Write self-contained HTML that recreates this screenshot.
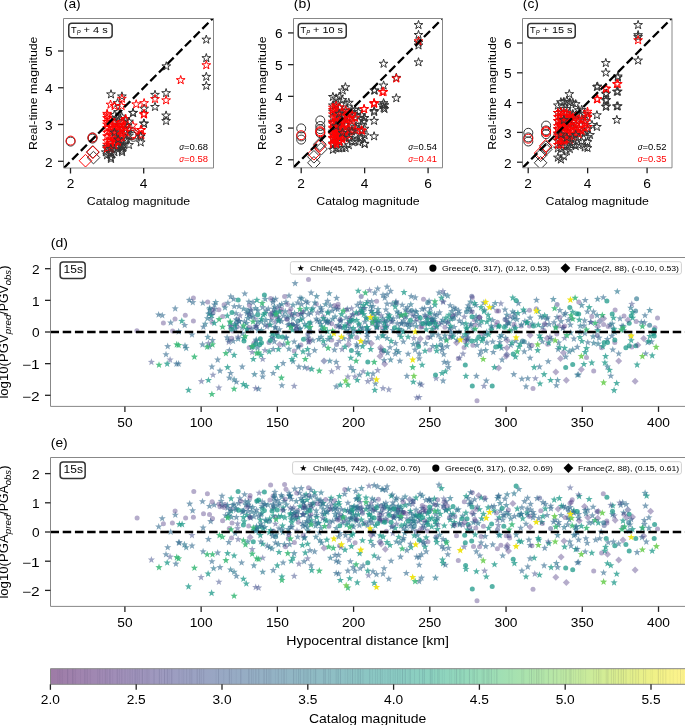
<!DOCTYPE html>
<html><head><meta charset="utf-8"><title>Figure</title>
<style>html,body{margin:0;padding:0;background:#fff;} body{width:685px;height:725px;overflow:hidden;font-family:"Liberation Sans", sans-serif;} svg{display:block;will-change:transform;}</style>
</head><body>
<svg width="685" height="725" viewBox="0 0 685 725" font-family="Liberation Sans, sans-serif"><clipPath id="clipa"><rect x="63.5" y="18.5" width="150.0" height="149.5"/></clipPath>
<g clip-path="url(#clipa)">
<circle cx="70.60" cy="141.60" r="4.5" fill="none" stroke="#333" stroke-width="1.0"/>
<circle cx="92.50" cy="138.60" r="4.5" fill="none" stroke="#333" stroke-width="1.0"/>
<circle cx="92.50" cy="137.40" r="4.5" fill="none" stroke="#333" stroke-width="1.0"/>
<circle cx="133.50" cy="136.80" r="4.5" fill="none" stroke="#333" stroke-width="1.0"/>
<circle cx="131.50" cy="135.20" r="4.5" fill="none" stroke="#333" stroke-width="1.0"/>
<circle cx="134.50" cy="134.50" r="4.5" fill="none" stroke="#333" stroke-width="1.0"/>
<path d="M92.80,145.60L99.10,151.90L92.80,158.20L86.50,151.90Z" fill="none" stroke="#333" stroke-width="1.0" />
<path d="M93.50,151.30L99.80,157.60L93.50,163.90L87.20,157.60Z" fill="none" stroke="#333" stroke-width="1.0" />
<circle cx="70.60" cy="140.60" r="4.5" fill="none" stroke="#f00" stroke-width="1.0"/>
<circle cx="92.50" cy="137.60" r="4.5" fill="none" stroke="#f00" stroke-width="1.0"/>
<circle cx="132.80" cy="133.20" r="4.5" fill="none" stroke="#f00" stroke-width="1.0"/>
<circle cx="131.80" cy="134.80" r="4.5" fill="none" stroke="#f00" stroke-width="1.0"/>
<path d="M92.80,146.00L99.10,152.30L92.80,158.60L86.50,152.30Z" fill="none" stroke="#f00" stroke-width="1.0" />
<path d="M85.50,154.40L91.80,160.70L85.50,167.00L79.20,160.70Z" fill="none" stroke="#f00" stroke-width="1.0" />
<path d="M206.3,35.0L205.3,38.2L201.9,38.2L204.6,40.1L203.6,43.3L206.3,41.4L209.0,43.3L208.0,40.1L210.7,38.2L207.3,38.2Z" fill="none" stroke="#333" stroke-width="1.0" />
<path d="M206.3,53.5L205.3,56.7L201.9,56.7L204.6,58.6L203.6,61.8L206.3,59.9L209.0,61.8L208.0,58.6L210.7,56.7L207.3,56.7Z" fill="none" stroke="#333" stroke-width="1.0" />
<path d="M206.3,72.2L205.3,75.4L201.9,75.4L204.6,77.3L203.6,80.5L206.3,78.6L209.0,80.5L208.0,77.3L210.7,75.4L207.3,75.4Z" fill="none" stroke="#333" stroke-width="1.0" />
<path d="M206.3,81.3L205.3,84.5L201.9,84.5L204.6,86.4L203.6,89.6L206.3,87.7L209.0,89.6L208.0,86.4L210.7,84.5L207.3,84.5Z" fill="none" stroke="#333" stroke-width="1.0" />
<path d="M166.3,61.7L165.3,64.9L161.9,64.9L164.6,66.8L163.6,70.0L166.3,68.1L169.0,70.0L168.0,66.8L170.7,64.9L167.3,64.9Z" fill="none" stroke="#333" stroke-width="1.0" />
<path d="M166.1,88.5L165.1,91.7L161.7,91.7L164.4,93.6L163.4,96.8L166.1,94.9L168.8,96.8L167.8,93.6L170.5,91.7L167.1,91.7Z" fill="none" stroke="#333" stroke-width="1.0" />
<path d="M166.1,110.9L165.1,114.1L161.7,114.1L164.4,116.0L163.4,119.2L166.1,117.3L168.8,119.2L167.8,116.0L170.5,114.1L167.1,114.1Z" fill="none" stroke="#333" stroke-width="1.0" />
<path d="M166.1,116.4L165.1,119.6L161.7,119.6L164.4,121.5L163.4,124.7L166.1,122.8L168.8,124.7L167.8,121.5L170.5,119.6L167.1,119.6Z" fill="none" stroke="#333" stroke-width="1.0" />
<path d="M155.0,90.2L154.0,93.4L150.6,93.4L153.3,95.3L152.3,98.5L155.0,96.6L157.7,98.5L156.7,95.3L159.4,93.4L156.0,93.4Z" fill="none" stroke="#333" stroke-width="1.0" />
<path d="M155.0,102.3L154.0,105.5L150.6,105.5L153.3,107.4L152.3,110.6L155.0,108.7L157.7,110.6L156.7,107.4L159.4,105.5L156.0,105.5Z" fill="none" stroke="#333" stroke-width="1.0" />
<path d="M144.1,104.0L143.1,107.2L139.7,107.2L142.4,109.1L141.4,112.3L144.1,110.4L146.8,112.3L145.8,109.1L148.5,107.2L145.1,107.2Z" fill="none" stroke="#333" stroke-width="1.0" />
<path d="M144.1,119.2L143.1,122.4L139.7,122.4L142.4,124.3L141.4,127.5L144.1,125.6L146.8,127.5L145.8,124.3L148.5,122.4L145.1,122.4Z" fill="none" stroke="#333" stroke-width="1.0" />
<path d="M111.0,89.7L110.0,92.9L106.6,92.9L109.3,94.8L108.3,98.0L111.0,96.1L113.7,98.0L112.7,94.8L115.4,92.9L112.0,92.9Z" fill="none" stroke="#333" stroke-width="1.0" />
<path d="M121.9,91.8L120.9,95.0L117.5,95.0L120.2,96.9L119.2,100.1L121.9,98.2L124.6,100.1L123.6,96.9L126.3,95.0L122.9,95.0Z" fill="none" stroke="#333" stroke-width="1.0" />
<path d="M117.5,98.5L116.5,101.7L113.1,101.7L115.8,103.6L114.8,106.8L117.5,104.9L120.2,106.8L119.2,103.6L121.9,101.7L118.5,101.7Z" fill="none" stroke="#333" stroke-width="1.0" />
<path d="M133.0,108.4L132.0,111.6L128.6,111.6L131.3,113.5L130.3,116.7L133.0,114.8L135.7,116.7L134.7,113.5L137.4,111.6L134.0,111.6Z" fill="none" stroke="#333" stroke-width="1.0" />
<path d="M117.5,113.1L116.5,116.3L113.1,116.3L115.8,118.2L114.8,121.4L117.5,119.5L120.2,121.4L119.2,118.2L121.9,116.3L118.5,116.3Z" fill="none" stroke="#333" stroke-width="1.0" />
<path d="M105.8,147.7L104.8,150.9L101.4,150.9L104.1,152.8L103.1,156.0L105.8,154.1L108.5,156.0L107.5,152.8L110.2,150.9L106.8,150.9Z" fill="none" stroke="#333" stroke-width="1.0" />
<path d="M111.0,148.4L110.0,151.6L106.6,151.6L109.3,153.5L108.3,156.7L111.0,154.8L113.7,156.7L112.7,153.5L115.4,151.6L112.0,151.6Z" fill="none" stroke="#333" stroke-width="1.0" />
<path d="M111.0,154.3L110.0,157.5L106.6,157.5L109.3,159.4L108.3,162.6L111.0,160.7L113.7,162.6L112.7,159.4L115.4,157.5L112.0,157.5Z" fill="none" stroke="#333" stroke-width="1.0" />
<path d="M121.9,146.2L120.9,149.4L117.5,149.4L120.2,151.3L119.2,154.5L121.9,152.6L124.6,154.5L123.6,151.3L126.3,149.4L122.9,149.4Z" fill="none" stroke="#333" stroke-width="1.0" />
<path d="M121.9,141.1L120.9,144.3L117.5,144.3L120.2,146.2L119.2,149.4L121.9,147.5L124.6,149.4L123.6,146.2L126.3,144.3L122.9,144.3Z" fill="none" stroke="#333" stroke-width="1.0" />
<path d="M133.1,108.2L132.1,111.4L128.7,111.4L131.4,113.3L130.4,116.5L133.1,114.6L135.8,116.5L134.8,113.3L137.5,111.4L134.1,111.4Z" fill="none" stroke="#333" stroke-width="1.0" />
<path d="M143.8,118.8L142.8,122.0L139.4,122.0L142.1,123.9L141.1,127.1L143.8,125.2L146.5,127.1L145.5,123.9L148.2,122.0L144.8,122.0Z" fill="none" stroke="#333" stroke-width="1.0" />
<path d="M140.7,137.8L139.7,141.0L136.3,141.0L139.0,142.9L138.0,146.1L140.7,144.2L143.4,146.1L142.4,142.9L145.1,141.0L141.7,141.0Z" fill="none" stroke="#333" stroke-width="1.0" />
<path d="M122.1,147.5L121.1,150.7L117.7,150.7L120.4,152.6L119.4,155.8L122.1,153.9L124.8,155.8L123.8,152.6L126.5,150.7L123.1,150.7Z" fill="none" stroke="#333" stroke-width="1.0" />
<path d="M122.1,142.6L121.1,145.8L117.7,145.8L120.4,147.7L119.4,150.9L122.1,149.0L124.8,150.9L123.8,147.7L126.5,145.8L123.1,145.8Z" fill="none" stroke="#333" stroke-width="1.0" />
<path d="M107.0,142.4L106.0,145.6L102.6,145.6L105.3,147.5L104.3,150.7L107.0,148.8L109.7,150.7L108.7,147.5L111.4,145.6L108.0,145.6Z" fill="none" stroke="#333" stroke-width="1.0" />
<path d="M114.0,145.4L113.0,148.6L109.6,148.6L112.3,150.5L111.3,153.7L114.0,151.8L116.7,153.7L115.7,150.5L118.4,148.6L115.0,148.6Z" fill="none" stroke="#333" stroke-width="1.0" />
<path d="M118.0,141.4L117.0,144.6L113.6,144.6L116.3,146.5L115.3,149.7L118.0,147.8L120.7,149.7L119.7,146.5L122.4,144.6L119.0,144.6Z" fill="none" stroke="#333" stroke-width="1.0" />
<path d="M126.0,135.4L125.0,138.6L121.6,138.6L124.3,140.5L123.3,143.7L126.0,141.8L128.7,143.7L127.7,140.5L130.4,138.6L127.0,138.6Z" fill="none" stroke="#333" stroke-width="1.0" />
<path d="M129.0,140.4L128.0,143.6L124.6,143.6L127.3,145.5L126.3,148.7L129.0,146.8L131.7,148.7L130.7,145.5L133.4,143.6L130.0,143.6Z" fill="none" stroke="#333" stroke-width="1.0" />
<path d="M107.1,144.2L106.1,147.4L102.7,147.4L105.4,149.4L104.4,152.6L107.1,150.6L109.8,152.6L108.8,149.4L111.5,147.4L108.1,147.4Z" fill="none" stroke="#333" stroke-width="1.0" />
<path d="M107.1,150.6L106.1,153.8L102.7,153.8L105.4,155.8L104.4,158.9L107.1,157.0L109.8,158.9L108.8,155.8L111.5,153.8L108.1,153.8Z" fill="none" stroke="#333" stroke-width="1.0" />
<path d="M110.8,147.8L109.8,151.0L106.4,151.0L109.1,152.9L108.1,156.1L110.8,154.2L113.5,156.1L112.5,152.9L115.2,151.0L111.8,151.0Z" fill="none" stroke="#333" stroke-width="1.0" />
<path d="M110.8,152.9L109.8,156.1L106.4,156.1L109.1,158.1L108.1,161.2L110.8,159.3L113.5,161.2L112.5,158.1L115.2,156.1L111.8,156.1Z" fill="none" stroke="#333" stroke-width="1.0" />
<path d="M114.4,110.4L113.4,113.6L110.0,113.6L112.7,115.5L111.7,118.7L114.4,116.7L117.1,118.7L116.1,115.5L118.8,113.6L115.4,113.6Z" fill="none" stroke="#333" stroke-width="1.0" />
<path d="M114.4,117.2L113.4,120.4L110.0,120.4L112.7,122.3L111.7,125.5L114.4,123.6L117.1,125.5L116.1,122.3L118.8,120.4L115.4,120.4Z" fill="none" stroke="#333" stroke-width="1.0" />
<path d="M114.4,137.6L113.4,140.8L110.0,140.8L112.7,142.7L111.7,145.9L114.4,144.0L117.1,145.9L116.1,142.7L118.8,140.8L115.4,140.8Z" fill="none" stroke="#333" stroke-width="1.0" />
<path d="M114.4,147.5L113.4,150.7L110.0,150.7L112.7,152.6L111.7,155.8L114.4,153.8L117.1,155.8L116.1,152.6L118.8,150.7L115.4,150.7Z" fill="none" stroke="#333" stroke-width="1.0" />
<path d="M118.1,107.5L117.1,110.6L113.7,110.6L116.4,112.6L115.4,115.8L118.1,113.8L120.8,115.8L119.8,112.6L122.5,110.6L119.1,110.6Z" fill="none" stroke="#333" stroke-width="1.0" />
<path d="M118.1,116.5L117.1,119.6L113.7,119.6L116.4,121.6L115.4,124.8L118.1,122.8L120.8,124.8L119.8,121.6L122.5,119.6L119.1,119.6Z" fill="none" stroke="#333" stroke-width="1.0" />
<path d="M118.1,123.4L117.1,126.6L113.7,126.6L116.4,128.6L115.4,131.8L118.1,129.8L120.8,131.8L119.8,128.6L122.5,126.6L119.1,126.6Z" fill="none" stroke="#333" stroke-width="1.0" />
<path d="M118.1,142.3L117.1,145.5L113.7,145.5L116.4,147.5L115.4,150.6L118.1,148.7L120.8,150.6L119.8,147.5L122.5,145.5L119.1,145.5Z" fill="none" stroke="#333" stroke-width="1.0" />
<path d="M121.7,112.1L120.7,115.2L117.3,115.2L120.0,117.2L119.0,120.4L121.7,118.4L124.4,120.4L123.4,117.2L126.1,115.2L122.7,115.2Z" fill="none" stroke="#333" stroke-width="1.0" />
<path d="M121.7,123.6L120.7,126.8L117.3,126.8L120.0,128.8L119.0,132.0L121.7,130.0L124.4,132.0L123.4,128.8L126.1,126.8L122.7,126.8Z" fill="none" stroke="#333" stroke-width="1.0" />
<path d="M121.7,131.0L120.7,134.1L117.3,134.1L120.0,136.1L119.0,139.3L121.7,137.3L124.4,139.3L123.4,136.1L126.1,134.1L122.7,134.1Z" fill="none" stroke="#333" stroke-width="1.0" />
<path d="M121.7,137.0L120.7,140.2L117.3,140.2L120.0,142.1L119.0,145.3L121.7,143.3L124.4,145.3L123.4,142.1L126.1,140.2L122.7,140.2Z" fill="none" stroke="#333" stroke-width="1.0" />
<path d="M125.4,116.1L124.4,119.2L121.0,119.2L123.7,121.2L122.7,124.4L125.4,122.4L128.1,124.4L127.1,121.2L129.8,119.2L126.4,119.2Z" fill="none" stroke="#333" stroke-width="1.0" />
<path d="M125.4,124.3L124.4,127.5L121.0,127.5L123.7,129.4L122.7,132.6L125.4,130.6L128.1,132.6L127.1,129.4L129.8,127.5L126.4,127.5Z" fill="none" stroke="#333" stroke-width="1.0" />
<path d="M125.4,136.1L124.4,139.2L121.0,139.2L123.7,141.2L122.7,144.4L125.4,142.4L128.1,144.4L127.1,141.2L129.8,139.2L126.4,139.2Z" fill="none" stroke="#333" stroke-width="1.0" />
<path d="M129.0,124.2L128.0,127.3L124.6,127.3L127.3,129.3L126.3,132.5L129.0,130.5L131.7,132.5L130.7,129.3L133.4,127.3L130.0,127.3Z" fill="none" stroke="#333" stroke-width="1.0" />
<path d="M129.0,131.0L128.0,134.2L124.6,134.2L127.3,136.2L126.3,139.4L129.0,137.4L131.7,139.4L130.7,136.2L133.4,134.2L130.0,134.2Z" fill="none" stroke="#333" stroke-width="1.0" />
<path d="M206.3,60.6L205.3,63.8L201.9,63.8L204.6,65.7L203.6,68.9L206.3,67.0L209.0,68.9L208.0,65.7L210.7,63.8L207.3,63.8Z" fill="none" stroke="#f00" stroke-width="1.0" />
<path d="M180.7,75.5L179.7,78.7L176.3,78.7L179.0,80.6L178.0,83.8L180.7,81.9L183.4,83.8L182.4,80.6L185.1,78.7L181.7,78.7Z" fill="none" stroke="#f00" stroke-width="1.0" />
<path d="M166.1,95.7L165.1,98.9L161.7,98.9L164.4,100.8L163.4,104.0L166.1,102.1L168.8,104.0L167.8,100.8L170.5,98.9L167.1,98.9Z" fill="none" stroke="#f00" stroke-width="1.0" />
<path d="M155.0,94.4L154.0,97.6L150.6,97.6L153.3,99.5L152.3,102.7L155.0,100.8L157.7,102.7L156.7,99.5L159.4,97.6L156.0,97.6Z" fill="none" stroke="#f00" stroke-width="1.0" />
<path d="M144.1,98.5L143.1,101.7L139.7,101.7L142.4,103.6L141.4,106.8L144.1,104.9L146.8,106.8L145.8,103.6L148.5,101.7L145.1,101.7Z" fill="none" stroke="#f00" stroke-width="1.0" />
<path d="M144.1,109.2L143.1,112.4L139.7,112.4L142.4,114.3L141.4,117.5L144.1,115.6L146.8,117.5L145.8,114.3L148.5,112.4L145.1,112.4Z" fill="none" stroke="#f00" stroke-width="1.0" />
<path d="M141.4,125.4L140.4,128.6L137.0,128.6L139.7,130.5L138.7,133.7L141.4,131.8L144.1,133.7L143.1,130.5L145.8,128.6L142.4,128.6Z" fill="none" stroke="#f00" stroke-width="1.0" />
<path d="M141.4,130.2L140.4,133.4L137.0,133.4L139.7,135.3L138.7,138.5L141.4,136.6L144.1,138.5L143.1,135.3L145.8,133.4L142.4,133.4Z" fill="none" stroke="#f00" stroke-width="1.0" />
<path d="M121.9,94.1L120.9,97.3L117.5,97.3L120.2,99.2L119.2,102.4L121.9,100.5L124.6,102.4L123.6,99.2L126.3,97.3L122.9,97.3Z" fill="none" stroke="#f00" stroke-width="1.0" />
<path d="M110.5,100.0L109.5,103.2L106.1,103.2L108.8,105.1L107.8,108.3L110.5,106.4L113.2,108.3L112.2,105.1L114.9,103.2L111.5,103.2Z" fill="none" stroke="#f00" stroke-width="1.0" />
<path d="M114.6,101.4L113.6,104.6L110.2,104.6L112.9,106.5L111.9,109.7L114.6,107.8L117.3,109.7L116.3,106.5L119.0,104.6L115.6,104.6Z" fill="none" stroke="#f00" stroke-width="1.0" />
<path d="M121.6,101.4L120.6,104.6L117.2,104.6L119.9,106.5L118.9,109.7L121.6,107.8L124.3,109.7L123.3,106.5L126.0,104.6L122.6,104.6Z" fill="none" stroke="#f00" stroke-width="1.0" />
<path d="M136.2,99.7L135.2,102.9L131.8,102.9L134.5,104.8L133.5,108.0L136.2,106.1L138.9,108.0L137.9,104.8L140.6,102.9L137.2,102.9Z" fill="none" stroke="#f00" stroke-width="1.0" />
<path d="M107.3,110.8L106.3,114.0L102.9,114.0L105.6,115.9L104.6,119.1L107.3,117.2L110.0,119.1L109.0,115.9L111.7,114.0L108.3,114.0Z" fill="none" stroke="#f00" stroke-width="1.0" />
<path d="M125.7,114.3L124.7,117.5L121.3,117.5L124.0,119.4L123.0,122.6L125.7,120.7L128.4,122.6L127.4,119.4L130.1,117.5L126.7,117.5Z" fill="none" stroke="#f00" stroke-width="1.0" />
<path d="M143.8,109.9L142.8,113.1L139.4,113.1L142.1,115.0L141.1,118.2L143.8,116.3L146.5,118.2L145.5,115.0L148.2,113.1L144.8,113.1Z" fill="none" stroke="#f00" stroke-width="1.0" />
<path d="M125.5,115.1L124.5,118.3L121.1,118.3L123.8,120.2L122.8,123.4L125.5,121.5L128.2,123.4L127.2,120.2L129.9,118.3L126.5,118.3Z" fill="none" stroke="#f00" stroke-width="1.0" />
<path d="M132.8,120.9L131.8,124.1L128.4,124.1L131.1,126.0L130.1,129.2L132.8,127.3L135.5,129.2L134.5,126.0L137.2,124.1L133.8,124.1Z" fill="none" stroke="#f00" stroke-width="1.0" />
<path d="M140.7,125.4L139.7,128.6L136.3,128.6L139.0,130.5L138.0,133.7L140.7,131.8L143.4,133.7L142.4,130.5L145.1,128.6L141.7,128.6Z" fill="none" stroke="#f00" stroke-width="1.0" />
<path d="M140.7,130.9L139.7,134.1L136.3,134.1L139.0,136.0L138.0,139.2L140.7,137.3L143.4,139.2L142.4,136.0L145.1,134.1L141.7,134.1Z" fill="none" stroke="#f00" stroke-width="1.0" />
<path d="M107.1,109.2L106.1,112.4L102.7,112.4L105.4,114.4L104.4,117.6L107.1,115.6L109.8,117.6L108.8,114.4L111.5,112.4L108.1,112.4Z" fill="none" stroke="#f00" stroke-width="1.0" />
<path d="M107.1,113.5L106.1,116.6L102.7,116.6L105.4,118.6L104.4,121.8L107.1,119.8L109.8,121.8L108.8,118.6L111.5,116.6L108.1,116.6Z" fill="none" stroke="#f00" stroke-width="1.0" />
<path d="M107.1,117.3L106.1,120.5L102.7,120.5L105.4,122.4L104.4,125.6L107.1,123.6L109.8,125.6L108.8,122.4L111.5,120.5L108.1,120.5Z" fill="none" stroke="#f00" stroke-width="1.0" />
<path d="M107.1,119.9L106.1,123.1L102.7,123.1L105.4,125.0L104.4,128.2L107.1,126.2L109.8,128.2L108.8,125.0L111.5,123.1L108.1,123.1Z" fill="none" stroke="#f00" stroke-width="1.0" />
<path d="M107.1,123.4L106.1,126.6L102.7,126.6L105.4,128.5L104.4,131.7L107.1,129.7L109.8,131.7L108.8,128.5L111.5,126.6L108.1,126.6Z" fill="none" stroke="#f00" stroke-width="1.0" />
<path d="M107.1,128.0L106.1,131.2L102.7,131.2L105.4,133.2L104.4,136.3L107.1,134.4L109.8,136.3L108.8,133.2L111.5,131.2L108.1,131.2Z" fill="none" stroke="#f00" stroke-width="1.0" />
<path d="M107.1,131.6L106.1,134.8L102.7,134.8L105.4,136.7L104.4,139.9L107.1,137.9L109.8,139.9L108.8,136.7L111.5,134.8L108.1,134.8Z" fill="none" stroke="#f00" stroke-width="1.0" />
<path d="M107.1,136.6L106.1,139.8L102.7,139.8L105.4,141.8L104.4,144.9L107.1,143.0L109.8,144.9L108.8,141.8L111.5,139.8L108.1,139.8Z" fill="none" stroke="#f00" stroke-width="1.0" />
<path d="M107.1,140.1L106.1,143.3L102.7,143.3L105.4,145.3L104.4,148.5L107.1,146.5L109.8,148.5L108.8,145.3L111.5,143.3L108.1,143.3Z" fill="none" stroke="#f00" stroke-width="1.0" />
<path d="M107.1,143.7L106.1,146.9L102.7,146.9L105.4,148.9L104.4,152.1L107.1,150.1L109.8,152.1L108.8,148.9L111.5,146.9L108.1,146.9Z" fill="none" stroke="#f00" stroke-width="1.0" />
<path d="M110.8,115.5L109.8,118.7L106.4,118.7L109.1,120.7L108.1,123.9L110.8,121.9L113.5,123.9L112.5,120.7L115.2,118.7L111.8,118.7Z" fill="none" stroke="#f00" stroke-width="1.0" />
<path d="M110.8,119.8L109.8,123.0L106.4,123.0L109.1,124.9L108.1,128.1L110.8,126.1L113.5,128.1L112.5,124.9L115.2,123.0L111.8,123.0Z" fill="none" stroke="#f00" stroke-width="1.0" />
<path d="M110.8,122.5L109.8,125.7L106.4,125.7L109.1,127.7L108.1,130.9L110.8,128.9L113.5,130.9L112.5,127.7L115.2,125.7L111.8,125.7Z" fill="none" stroke="#f00" stroke-width="1.0" />
<path d="M110.8,127.3L109.8,130.4L106.4,130.4L109.1,132.4L108.1,135.6L110.8,133.6L113.5,135.6L112.5,132.4L115.2,130.4L111.8,130.4Z" fill="none" stroke="#f00" stroke-width="1.0" />
<path d="M110.8,130.6L109.8,133.8L106.4,133.8L109.1,135.7L108.1,138.9L110.8,136.9L113.5,138.9L112.5,135.7L115.2,133.8L111.8,133.8Z" fill="none" stroke="#f00" stroke-width="1.0" />
<path d="M110.8,136.4L109.8,139.6L106.4,139.6L109.1,141.5L108.1,144.7L110.8,142.7L113.5,144.7L112.5,141.5L115.2,139.6L111.8,139.6Z" fill="none" stroke="#f00" stroke-width="1.0" />
<path d="M110.8,138.3L109.8,141.5L106.4,141.5L109.1,143.5L108.1,146.7L110.8,144.7L113.5,146.7L112.5,143.5L115.2,141.5L111.8,141.5Z" fill="none" stroke="#f00" stroke-width="1.0" />
<path d="M110.8,144.2L109.8,147.3L106.4,147.3L109.1,149.3L108.1,152.5L110.8,150.5L113.5,152.5L112.5,149.3L115.2,147.3L111.8,147.3Z" fill="none" stroke="#f00" stroke-width="1.0" />
<path d="M114.4,118.3L113.4,121.5L110.0,121.5L112.7,123.5L111.7,126.6L114.4,124.7L117.1,126.6L116.1,123.5L118.8,121.5L115.4,121.5Z" fill="none" stroke="#f00" stroke-width="1.0" />
<path d="M114.4,123.4L113.4,126.6L110.0,126.6L112.7,128.5L111.7,131.7L114.4,129.7L117.1,131.7L116.1,128.5L118.8,126.6L115.4,126.6Z" fill="none" stroke="#f00" stroke-width="1.0" />
<path d="M114.4,126.3L113.4,129.5L110.0,129.5L112.7,131.5L111.7,134.6L114.4,132.7L117.1,134.6L116.1,131.5L118.8,129.5L115.4,129.5Z" fill="none" stroke="#f00" stroke-width="1.0" />
<path d="M114.4,130.2L113.4,133.4L110.0,133.4L112.7,135.3L111.7,138.5L114.4,136.5L117.1,138.5L116.1,135.3L118.8,133.4L115.4,133.4Z" fill="none" stroke="#f00" stroke-width="1.0" />
<path d="M114.4,134.9L113.4,138.1L110.0,138.1L112.7,140.0L111.7,143.2L114.4,141.2L117.1,143.2L116.1,140.0L118.8,138.1L115.4,138.1Z" fill="none" stroke="#f00" stroke-width="1.0" />
<path d="M114.4,136.8L113.4,139.9L110.0,139.9L112.7,141.9L111.7,145.1L114.4,143.1L117.1,145.1L116.1,141.9L118.8,139.9L115.4,139.9Z" fill="none" stroke="#f00" stroke-width="1.0" />
<path d="M114.4,140.6L113.4,143.7L110.0,143.7L112.7,145.7L111.7,148.9L114.4,146.9L117.1,148.9L116.1,145.7L118.8,143.7L115.4,143.7Z" fill="none" stroke="#f00" stroke-width="1.0" />
<path d="M118.1,120.3L117.1,123.4L113.7,123.4L116.4,125.4L115.4,128.6L118.1,126.6L120.8,128.6L119.8,125.4L122.5,123.4L119.1,123.4Z" fill="none" stroke="#f00" stroke-width="1.0" />
<path d="M118.1,123.2L117.1,126.3L113.7,126.3L116.4,128.3L115.4,131.5L118.1,129.5L120.8,131.5L119.8,128.3L122.5,126.3L119.1,126.3Z" fill="none" stroke="#f00" stroke-width="1.0" />
<path d="M118.1,126.0L117.1,129.2L113.7,129.2L116.4,131.2L115.4,134.4L118.1,132.4L120.8,134.4L119.8,131.2L122.5,129.2L119.1,129.2Z" fill="none" stroke="#f00" stroke-width="1.0" />
<path d="M118.1,131.9L117.1,135.1L113.7,135.1L116.4,137.1L115.4,140.3L118.1,138.3L120.8,140.3L119.8,137.1L122.5,135.1L119.1,135.1Z" fill="none" stroke="#f00" stroke-width="1.0" />
<path d="M118.1,135.7L117.1,138.9L113.7,138.9L116.4,140.8L115.4,144.0L118.1,142.0L120.8,144.0L119.8,140.8L122.5,138.9L119.1,138.9Z" fill="none" stroke="#f00" stroke-width="1.0" />
<path d="M118.1,137.6L117.1,140.8L113.7,140.8L116.4,142.7L115.4,145.9L118.1,143.9L120.8,145.9L119.8,142.7L122.5,140.8L119.1,140.8Z" fill="none" stroke="#f00" stroke-width="1.0" />
<path d="M121.7,117.2L120.7,120.4L117.3,120.4L120.0,122.4L119.0,125.5L121.7,123.6L124.4,125.5L123.4,122.4L126.1,120.4L122.7,120.4Z" fill="none" stroke="#f00" stroke-width="1.0" />
<path d="M121.7,120.5L120.7,123.7L117.3,123.7L120.0,125.7L119.0,128.8L121.7,126.9L124.4,128.8L123.4,125.7L126.1,123.7L122.7,123.7Z" fill="none" stroke="#f00" stroke-width="1.0" />
<path d="M121.7,125.0L120.7,128.1L117.3,128.1L120.0,130.1L119.0,133.3L121.7,131.3L124.4,133.3L123.4,130.1L126.1,128.1L122.7,128.1Z" fill="none" stroke="#f00" stroke-width="1.0" />
<path d="M121.7,129.7L120.7,132.9L117.3,132.9L120.0,134.8L119.0,138.0L121.7,136.0L124.4,138.0L123.4,134.8L126.1,132.9L122.7,132.9Z" fill="none" stroke="#f00" stroke-width="1.0" />
<path d="M121.7,132.6L120.7,135.8L117.3,135.8L120.0,137.7L119.0,140.9L121.7,138.9L124.4,140.9L123.4,137.7L126.1,135.8L122.7,135.8Z" fill="none" stroke="#f00" stroke-width="1.0" />
<path d="M125.4,121.5L124.4,124.6L121.0,124.6L123.7,126.6L122.7,129.8L125.4,127.8L128.1,129.8L127.1,126.6L129.8,124.6L126.4,124.6Z" fill="none" stroke="#f00" stroke-width="1.0" />
<path d="M125.4,123.5L124.4,126.7L121.0,126.7L123.7,128.6L122.7,131.8L125.4,129.9L128.1,131.8L127.1,128.6L129.8,126.7L126.4,126.7Z" fill="none" stroke="#f00" stroke-width="1.0" />
<path d="M125.4,127.1L124.4,130.3L121.0,130.3L123.7,132.2L122.7,135.4L125.4,133.4L128.1,135.4L127.1,132.2L129.8,130.3L126.4,130.3Z" fill="none" stroke="#f00" stroke-width="1.0" />
<path d="M140.7,132.0L139.7,135.2L136.3,135.2L139.0,137.1L138.0,140.3L140.7,138.4L143.4,140.3L142.4,137.1L145.1,135.2L141.7,135.2Z" fill="none" stroke="#333" stroke-width="1.0" />
<path d="M110.8,144.2L109.8,147.4L106.4,147.4L109.1,149.3L108.1,152.5L110.8,150.5L113.5,152.5L112.5,149.3L115.2,147.4L111.8,147.4Z" fill="none" stroke="#333" stroke-width="1.0" />
<path d="M114.4,128.0L113.4,131.1L110.0,131.1L112.7,133.1L111.7,136.3L114.4,134.3L117.1,136.3L116.1,133.1L118.8,131.1L115.4,131.1Z" fill="none" stroke="#333" stroke-width="1.0" />
<path d="M118.1,134.9L117.1,138.1L113.7,138.1L116.4,140.0L115.4,143.2L118.1,141.2L120.8,143.2L119.8,140.0L122.5,138.1L119.1,138.1Z" fill="none" stroke="#333" stroke-width="1.0" />
<path d="M121.7,144.2L120.7,147.4L117.3,147.4L120.0,149.4L119.0,152.5L121.7,150.6L124.4,152.5L123.4,149.4L126.1,147.4L122.7,147.4Z" fill="none" stroke="#333" stroke-width="1.0" />
<path d="M129.0,117.0L128.0,120.2L124.6,120.2L127.3,122.1L126.3,125.3L129.0,123.3L131.7,125.3L130.7,122.1L133.4,120.2L130.0,120.2Z" fill="none" stroke="#333" stroke-width="1.0" />
<line x1="63.50" y1="168.33" x2="326.70" y2="-96.09" stroke="#000" stroke-width="2.3" stroke-dasharray="8.6 3.7"/>
</g>
<line x1="63.50" y1="18.50" x2="213.50" y2="18.50" stroke="#888" stroke-width="1.0" />
<line x1="63.50" y1="168.00" x2="213.50" y2="168.00" stroke="#888" stroke-width="1.0" />
<line x1="63.50" y1="18.50" x2="63.50" y2="168.00" stroke="#888" stroke-width="1.0" />
<line x1="213.50" y1="18.50" x2="213.50" y2="168.00" stroke="#888" stroke-width="1.0" />
<line x1="58.00" y1="161.30" x2="63.50" y2="161.30" stroke="#222" stroke-width="1.3" />
<text x="52.60" y="166.70" font-size="12.0" text-anchor="end" fill="#000" textLength="7.63" lengthAdjust="spacingAndGlyphs" >2</text>
<line x1="58.00" y1="124.53" x2="63.50" y2="124.53" stroke="#222" stroke-width="1.3" />
<text x="52.60" y="129.93" font-size="12.0" text-anchor="end" fill="#000" textLength="7.63" lengthAdjust="spacingAndGlyphs" >3</text>
<line x1="58.00" y1="87.76" x2="63.50" y2="87.76" stroke="#222" stroke-width="1.3" />
<text x="52.60" y="93.16" font-size="12.0" text-anchor="end" fill="#000" textLength="7.63" lengthAdjust="spacingAndGlyphs" >4</text>
<line x1="58.00" y1="50.99" x2="63.50" y2="50.99" stroke="#222" stroke-width="1.3" />
<text x="52.60" y="56.39" font-size="12.0" text-anchor="end" fill="#000" textLength="7.63" lengthAdjust="spacingAndGlyphs" >5</text>
<line x1="70.50" y1="168.00" x2="70.50" y2="173.50" stroke="#222" stroke-width="1.3" />
<text x="70.50" y="188.30" font-size="12.0" text-anchor="middle" fill="#000" textLength="7.63" lengthAdjust="spacingAndGlyphs" >2</text>
<line x1="143.70" y1="168.00" x2="143.70" y2="173.50" stroke="#222" stroke-width="1.3" />
<text x="143.70" y="188.30" font-size="12.0" text-anchor="middle" fill="#000" textLength="7.63" lengthAdjust="spacingAndGlyphs" >4</text>
<text x="63.80" y="8.00" font-size="12.1" text-anchor="start" fill="#000" textLength="16.86" lengthAdjust="spacingAndGlyphs" >(a)</text>
<text x="138.50" y="205.10" font-size="10.8" text-anchor="middle" fill="#000" textLength="103.33" lengthAdjust="spacingAndGlyphs" >Catalog magnitude</text>
<text x="37.40" y="93.25" font-size="10.8" text-anchor="middle" fill="#000" textLength="113.43" lengthAdjust="spacingAndGlyphs" transform="rotate(-90 37.40 93.25)" >Real-time magnitude</text>
<rect x="68.75" y="23.35" width="43.40" height="14.30" fill="#fff" stroke="#333" stroke-width="1.5" rx="3" ry="3"/>
<text x="71.00" y="32.90" font-size="9.80" fill="#000" textLength="5.63" lengthAdjust="spacingAndGlyphs" xml:space="preserve">T</text>
<text x="76.63" y="34.70" font-size="6.86" font-style="italic" fill="#000" textLength="3.89" lengthAdjust="spacingAndGlyphs" xml:space="preserve">P</text>
<text x="80.52" y="32.90" font-size="9.80" fill="#000" textLength="27.16" lengthAdjust="spacingAndGlyphs" xml:space="preserve"> + 4 s</text>
<text x="179.15" y="150.00" font-size="8.60" font-style="italic" fill="#000" textLength="4.94" lengthAdjust="spacingAndGlyphs" xml:space="preserve">σ</text>
<text x="184.10" y="150.00" font-size="8.60" fill="#000" textLength="23.90" lengthAdjust="spacingAndGlyphs" xml:space="preserve">=0.68</text>
<text x="179.15" y="161.80" font-size="8.60" font-style="italic" fill="#f00" textLength="4.94" lengthAdjust="spacingAndGlyphs" xml:space="preserve">σ</text>
<text x="184.10" y="161.80" font-size="8.60" fill="#f00" textLength="23.90" lengthAdjust="spacingAndGlyphs" xml:space="preserve">=0.58</text>
<clipPath id="clipb"><rect x="293.5" y="18.5" width="149.0" height="149.3"/></clipPath>
<g clip-path="url(#clipb)">
<circle cx="301.20" cy="128.40" r="4.5" fill="none" stroke="#333" stroke-width="1.0"/>
<circle cx="301.20" cy="136.40" r="4.5" fill="none" stroke="#333" stroke-width="1.0"/>
<circle cx="301.20" cy="139.60" r="4.5" fill="none" stroke="#333" stroke-width="1.0"/>
<circle cx="320.30" cy="120.40" r="4.5" fill="none" stroke="#333" stroke-width="1.0"/>
<circle cx="320.30" cy="126.00" r="4.5" fill="none" stroke="#333" stroke-width="1.0"/>
<circle cx="320.30" cy="129.20" r="4.5" fill="none" stroke="#333" stroke-width="1.0"/>
<circle cx="320.30" cy="133.20" r="4.5" fill="none" stroke="#333" stroke-width="1.0"/>
<path d="M319.80,137.90L326.10,144.20L319.80,150.50L313.50,144.20Z" fill="none" stroke="#333" stroke-width="1.0" />
<path d="M313.90,150.50L320.20,156.80L313.90,163.10L307.60,156.80Z" fill="none" stroke="#333" stroke-width="1.0" />
<path d="M313.90,156.50L320.20,162.80L313.90,169.10L307.60,162.80Z" fill="none" stroke="#333" stroke-width="1.0" />
<path d="M321.00,142.70L327.30,149.00L321.00,155.30L314.70,149.00Z" fill="none" stroke="#333" stroke-width="1.0" />
<circle cx="301.20" cy="135.20" r="4.5" fill="none" stroke="#f00" stroke-width="1.0"/>
<circle cx="320.30" cy="131.20" r="4.5" fill="none" stroke="#f00" stroke-width="1.0"/>
<circle cx="320.30" cy="132.20" r="4.5" fill="none" stroke="#f00" stroke-width="1.0"/>
<circle cx="352.00" cy="125.20" r="4.5" fill="none" stroke="#f00" stroke-width="1.0"/>
<path d="M319.80,139.40L326.10,145.70L319.80,152.00L313.50,145.70Z" fill="none" stroke="#f00" stroke-width="1.0" />
<path d="M313.90,147.50L320.20,153.80L313.90,160.10L307.60,153.80Z" fill="none" stroke="#f00" stroke-width="1.0" />
<path d="M418.5,20.4L417.5,23.6L414.1,23.6L416.8,25.5L415.8,28.7L418.5,26.8L421.2,28.7L420.2,25.5L422.9,23.6L419.5,23.6Z" fill="none" stroke="#333" stroke-width="1.0" />
<path d="M418.5,30.3L417.5,33.5L414.1,33.5L416.8,35.4L415.8,38.6L418.5,36.7L421.2,38.6L420.2,35.4L422.9,33.5L419.5,33.5Z" fill="none" stroke="#333" stroke-width="1.0" />
<path d="M418.5,40.8L417.5,44.0L414.1,44.0L416.8,45.9L415.8,49.1L418.5,47.2L421.2,49.1L420.2,45.9L422.9,44.0L419.5,44.0Z" fill="none" stroke="#333" stroke-width="1.0" />
<path d="M418.5,38.0L417.5,41.2L414.1,41.2L416.8,43.1L415.8,46.3L418.5,44.4L421.2,46.3L420.2,43.1L422.9,41.2L419.5,41.2Z" fill="none" stroke="#333" stroke-width="1.0" />
<path d="M418.5,57.7L417.5,60.9L414.1,60.9L416.8,62.8L415.8,66.0L418.5,64.1L421.2,66.0L420.2,62.8L422.9,60.9L419.5,60.9Z" fill="none" stroke="#333" stroke-width="1.0" />
<path d="M383.6,59.1L382.6,62.3L379.2,62.3L381.9,64.2L380.9,67.4L383.6,65.5L386.3,67.4L385.3,64.2L388.0,62.3L384.6,62.3Z" fill="none" stroke="#333" stroke-width="1.0" />
<path d="M396.3,73.2L395.3,76.4L391.9,76.4L394.6,78.3L393.6,81.5L396.3,79.6L399.0,81.5L398.0,78.3L400.7,76.4L397.3,76.4Z" fill="none" stroke="#333" stroke-width="1.0" />
<path d="M396.3,93.6L395.3,96.8L391.9,96.8L394.6,98.7L393.6,101.9L396.3,100.0L399.0,101.9L398.0,98.7L400.7,96.8L397.3,96.8Z" fill="none" stroke="#333" stroke-width="1.0" />
<path d="M383.6,80.9L382.6,84.1L379.2,84.1L381.9,86.0L380.9,89.2L383.6,87.3L386.3,89.2L385.3,86.0L388.0,84.1L384.6,84.1Z" fill="none" stroke="#333" stroke-width="1.0" />
<path d="M374.2,85.9L373.2,89.1L369.8,89.1L372.5,91.0L371.5,94.2L374.2,92.3L376.9,94.2L375.9,91.0L378.6,89.1L375.2,89.1Z" fill="none" stroke="#333" stroke-width="1.0" />
<path d="M383.6,98.5L382.6,101.7L379.2,101.7L381.9,103.6L380.9,106.8L383.6,104.9L386.3,106.8L385.3,103.6L388.0,101.7L384.6,101.7Z" fill="none" stroke="#333" stroke-width="1.0" />
<path d="M383.6,103.4L382.6,106.6L379.2,106.6L381.9,108.5L380.9,111.7L383.6,109.8L386.3,111.7L385.3,108.5L388.0,106.6L384.6,106.6Z" fill="none" stroke="#333" stroke-width="1.0" />
<path d="M374.2,106.3L373.2,109.5L369.8,109.5L372.5,111.4L371.5,114.6L374.2,112.7L376.9,114.6L375.9,111.4L378.6,109.5L375.2,109.5Z" fill="none" stroke="#333" stroke-width="1.0" />
<path d="M345.4,82.6L344.4,85.8L341.0,85.8L343.7,87.7L342.7,90.9L345.4,89.0L348.1,90.9L347.1,87.7L349.8,85.8L346.4,85.8Z" fill="none" stroke="#333" stroke-width="1.0" />
<path d="M342.7,85.9L341.7,89.1L338.3,89.1L341.0,91.0L340.0,94.2L342.7,92.3L345.4,94.2L344.4,91.0L347.1,89.1L343.7,89.1Z" fill="none" stroke="#333" stroke-width="1.0" />
<path d="M374.7,85.9L373.7,89.1L370.3,89.1L373.0,91.0L372.0,94.2L374.7,92.3L377.4,94.2L376.4,91.0L379.1,89.1L375.7,89.1Z" fill="none" stroke="#333" stroke-width="1.0" />
<path d="M374.1,107.4L373.1,110.6L369.7,110.6L372.4,112.5L371.4,115.7L374.1,113.8L376.8,115.7L375.8,112.5L378.5,110.6L375.1,110.6Z" fill="none" stroke="#333" stroke-width="1.0" />
<path d="M374.1,116.2L373.1,119.4L369.7,119.4L372.4,121.3L371.4,124.5L374.1,122.6L376.8,124.5L375.8,121.3L378.5,119.4L375.1,119.4Z" fill="none" stroke="#333" stroke-width="1.0" />
<path d="M374.1,131.7L373.1,134.9L369.7,134.9L372.4,136.8L371.4,140.0L374.1,138.1L376.8,140.0L375.8,136.8L378.5,134.9L375.1,134.9Z" fill="none" stroke="#333" stroke-width="1.0" />
<path d="M364.7,139.4L363.7,142.6L360.3,142.6L363.0,144.5L362.0,147.7L364.7,145.8L367.4,147.7L366.4,144.5L369.1,142.6L365.7,142.6Z" fill="none" stroke="#333" stroke-width="1.0" />
<path d="M382.4,100.8L381.4,104.0L378.0,104.0L380.7,105.9L379.7,109.1L382.4,107.2L385.1,109.1L384.1,105.9L386.8,104.0L383.4,104.0Z" fill="none" stroke="#333" stroke-width="1.0" />
<path d="M384.5,100.5L383.5,103.7L380.1,103.7L382.8,105.6L381.8,108.8L384.5,106.9L387.2,108.8L386.2,105.6L388.9,103.7L385.5,103.7Z" fill="none" stroke="#333" stroke-width="1.0" />
<path d="M384.5,104.4L383.5,107.6L380.1,107.6L382.8,109.5L381.8,112.7L384.5,110.8L387.2,112.7L386.2,109.5L388.9,107.6L385.5,107.6Z" fill="none" stroke="#333" stroke-width="1.0" />
<path d="M364.0,113.4L363.0,116.6L359.6,116.6L362.3,118.5L361.3,121.7L364.0,119.8L366.7,121.7L365.7,118.5L368.4,116.6L365.0,116.6Z" fill="none" stroke="#333" stroke-width="1.0" />
<path d="M364.0,116.6L363.0,119.8L359.6,119.8L362.3,121.7L361.3,124.9L364.0,123.0L366.7,124.9L365.7,121.7L368.4,119.8L365.0,119.8Z" fill="none" stroke="#333" stroke-width="1.0" />
<path d="M364.6,139.1L363.6,142.3L360.2,142.3L362.9,144.2L361.9,147.4L364.6,145.5L367.3,147.4L366.3,144.2L369.0,142.3L365.6,142.3Z" fill="none" stroke="#333" stroke-width="1.0" />
<path d="M332.9,92.3L331.9,95.5L328.5,95.5L331.2,97.5L330.2,100.6L332.9,98.7L335.6,100.6L334.6,97.5L337.3,95.5L333.9,95.5Z" fill="none" stroke="#333" stroke-width="1.0" />
<path d="M332.9,100.8L331.9,104.0L328.5,104.0L331.2,105.9L330.2,109.1L332.9,107.2L335.6,109.1L334.6,105.9L337.3,104.0L333.9,104.0Z" fill="none" stroke="#333" stroke-width="1.0" />
<path d="M332.9,107.0L331.9,110.2L328.5,110.2L331.2,112.2L330.2,115.4L332.9,113.4L335.6,115.4L334.6,112.2L337.3,110.2L333.9,110.2Z" fill="none" stroke="#333" stroke-width="1.0" />
<path d="M332.9,112.9L331.9,116.1L328.5,116.1L331.2,118.0L330.2,121.2L332.9,119.2L335.6,121.2L334.6,118.0L337.3,116.1L333.9,116.1Z" fill="none" stroke="#333" stroke-width="1.0" />
<path d="M332.9,118.3L331.9,121.5L328.5,121.5L331.2,123.4L330.2,126.6L332.9,124.7L335.6,126.6L334.6,123.4L337.3,121.5L333.9,121.5Z" fill="none" stroke="#333" stroke-width="1.0" />
<path d="M332.9,127.0L331.9,130.2L328.5,130.2L331.2,132.1L330.2,135.3L332.9,133.3L335.6,135.3L334.6,132.1L337.3,130.2L333.9,130.2Z" fill="none" stroke="#333" stroke-width="1.0" />
<path d="M332.9,133.5L331.9,136.7L328.5,136.7L331.2,138.6L330.2,141.8L332.9,139.8L335.6,141.8L334.6,138.6L337.3,136.7L333.9,136.7Z" fill="none" stroke="#333" stroke-width="1.0" />
<path d="M332.9,138.8L331.9,142.0L328.5,142.0L331.2,143.9L330.2,147.1L332.9,145.1L335.6,147.1L334.6,143.9L337.3,142.0L333.9,142.0Z" fill="none" stroke="#333" stroke-width="1.0" />
<path d="M336.1,93.8L335.1,97.0L331.7,97.0L334.4,99.0L333.4,102.2L336.1,100.2L338.8,102.2L337.8,99.0L340.5,97.0L337.1,97.0Z" fill="none" stroke="#333" stroke-width="1.0" />
<path d="M336.1,100.0L335.1,103.1L331.7,103.1L334.4,105.1L333.4,108.3L336.1,106.3L338.8,108.3L337.8,105.1L340.5,103.1L337.1,103.1Z" fill="none" stroke="#333" stroke-width="1.0" />
<path d="M336.1,108.7L335.1,111.8L331.7,111.8L334.4,113.8L333.4,117.0L336.1,115.0L338.8,117.0L337.8,113.8L340.5,111.8L337.1,111.8Z" fill="none" stroke="#333" stroke-width="1.0" />
<path d="M336.1,116.7L335.1,119.9L331.7,119.9L334.4,121.8L333.4,125.0L336.1,123.1L338.8,125.0L337.8,121.8L340.5,119.9L337.1,119.9Z" fill="none" stroke="#333" stroke-width="1.0" />
<path d="M336.1,131.8L335.1,135.0L331.7,135.0L334.4,137.0L333.4,140.2L336.1,138.2L338.8,140.2L337.8,137.0L340.5,135.0L337.1,135.0Z" fill="none" stroke="#333" stroke-width="1.0" />
<path d="M336.1,136.6L335.1,139.7L331.7,139.7L334.4,141.7L333.4,144.9L336.1,142.9L338.8,144.9L337.8,141.7L340.5,139.7L337.1,139.7Z" fill="none" stroke="#333" stroke-width="1.0" />
<path d="M336.1,143.7L335.1,146.9L331.7,146.9L334.4,148.8L333.4,152.0L336.1,150.1L338.8,152.0L337.8,148.8L340.5,146.9L337.1,146.9Z" fill="none" stroke="#333" stroke-width="1.0" />
<path d="M339.3,92.0L338.3,95.2L334.9,95.2L337.6,97.1L336.6,100.3L339.3,98.4L342.0,100.3L341.0,97.1L343.7,95.2L340.3,95.2Z" fill="none" stroke="#333" stroke-width="1.0" />
<path d="M339.3,103.2L338.3,106.4L334.9,106.4L337.6,108.4L336.6,111.5L339.3,109.6L342.0,111.5L341.0,108.4L343.7,106.4L340.3,106.4Z" fill="none" stroke="#333" stroke-width="1.0" />
<path d="M339.3,116.9L338.3,120.1L334.9,120.1L337.6,122.1L336.6,125.3L339.3,123.3L342.0,125.3L341.0,122.1L343.7,120.1L340.3,120.1Z" fill="none" stroke="#333" stroke-width="1.0" />
<path d="M339.3,123.0L338.3,126.1L334.9,126.1L337.6,128.1L336.6,131.3L339.3,129.3L342.0,131.3L341.0,128.1L343.7,126.1L340.3,126.1Z" fill="none" stroke="#333" stroke-width="1.0" />
<path d="M339.3,127.6L338.3,130.8L334.9,130.8L337.6,132.7L336.6,135.9L339.3,134.0L342.0,135.9L341.0,132.7L343.7,130.8L340.3,130.8Z" fill="none" stroke="#333" stroke-width="1.0" />
<path d="M339.3,136.0L338.3,139.2L334.9,139.2L337.6,141.1L336.6,144.3L339.3,142.3L342.0,144.3L341.0,141.1L343.7,139.2L340.3,139.2Z" fill="none" stroke="#333" stroke-width="1.0" />
<path d="M339.3,143.8L338.3,147.0L334.9,147.0L337.6,149.0L336.6,152.1L339.3,150.2L342.0,152.1L341.0,149.0L343.7,147.0L340.3,147.0Z" fill="none" stroke="#333" stroke-width="1.0" />
<path d="M342.4,106.6L341.4,109.7L338.0,109.7L340.7,111.7L339.7,114.9L342.4,112.9L345.1,114.9L344.1,111.7L346.8,109.7L343.4,109.7Z" fill="none" stroke="#333" stroke-width="1.0" />
<path d="M342.4,111.4L341.4,114.6L338.0,114.6L340.7,116.5L339.7,119.7L342.4,117.7L345.1,119.7L344.1,116.5L346.8,114.6L343.4,114.6Z" fill="none" stroke="#333" stroke-width="1.0" />
<path d="M342.4,117.9L341.4,121.0L338.0,121.0L340.7,123.0L339.7,126.2L342.4,124.2L345.1,126.2L344.1,123.0L346.8,121.0L343.4,121.0Z" fill="none" stroke="#333" stroke-width="1.0" />
<path d="M342.4,132.6L341.4,135.8L338.0,135.8L340.7,137.7L339.7,140.9L342.4,138.9L345.1,140.9L344.1,137.7L346.8,135.8L343.4,135.8Z" fill="none" stroke="#333" stroke-width="1.0" />
<path d="M342.4,143.6L341.4,146.8L338.0,146.8L340.7,148.7L339.7,151.9L342.4,150.0L345.1,151.9L344.1,148.7L346.8,146.8L343.4,146.8Z" fill="none" stroke="#333" stroke-width="1.0" />
<path d="M345.6,98.8L344.6,101.9L341.2,101.9L343.9,103.9L342.9,107.1L345.6,105.1L348.3,107.1L347.3,103.9L350.0,101.9L346.6,101.9Z" fill="none" stroke="#333" stroke-width="1.0" />
<path d="M345.6,106.3L344.6,109.5L341.2,109.5L343.9,111.5L342.9,114.7L345.6,112.7L348.3,114.7L347.3,111.5L350.0,109.5L346.6,109.5Z" fill="none" stroke="#333" stroke-width="1.0" />
<path d="M345.6,112.6L344.6,115.8L341.2,115.8L343.9,117.7L342.9,120.9L345.6,118.9L348.3,120.9L347.3,117.7L350.0,115.8L346.6,115.8Z" fill="none" stroke="#333" stroke-width="1.0" />
<path d="M345.6,120.3L344.6,123.5L341.2,123.5L343.9,125.5L342.9,128.7L345.6,126.7L348.3,128.7L347.3,125.5L350.0,123.5L346.6,123.5Z" fill="none" stroke="#333" stroke-width="1.0" />
<path d="M345.6,126.2L344.6,129.4L341.2,129.4L343.9,131.3L342.9,134.5L345.6,132.6L348.3,134.5L347.3,131.3L350.0,129.4L346.6,129.4Z" fill="none" stroke="#333" stroke-width="1.0" />
<path d="M345.6,132.7L344.6,135.9L341.2,135.9L343.9,137.8L342.9,141.0L345.6,139.1L348.3,141.0L347.3,137.8L350.0,135.9L346.6,135.9Z" fill="none" stroke="#333" stroke-width="1.0" />
<path d="M345.6,143.4L344.6,146.6L341.2,146.6L343.9,148.5L342.9,151.7L345.6,149.8L348.3,151.7L347.3,148.5L350.0,146.6L346.6,146.6Z" fill="none" stroke="#333" stroke-width="1.0" />
<path d="M348.8,98.1L347.8,101.3L344.4,101.3L347.1,103.3L346.1,106.4L348.8,104.5L351.5,106.4L350.5,103.3L353.2,101.3L349.8,101.3Z" fill="none" stroke="#333" stroke-width="1.0" />
<path d="M348.8,108.7L347.8,111.9L344.4,111.9L347.1,113.9L346.1,117.1L348.8,115.1L351.5,117.1L350.5,113.9L353.2,111.9L349.8,111.9Z" fill="none" stroke="#333" stroke-width="1.0" />
<path d="M348.8,114.0L347.8,117.2L344.4,117.2L347.1,119.1L346.1,122.3L348.8,120.4L351.5,122.3L350.5,119.1L353.2,117.2L349.8,117.2Z" fill="none" stroke="#333" stroke-width="1.0" />
<path d="M348.8,125.7L347.8,128.8L344.4,128.8L347.1,130.8L346.1,134.0L348.8,132.0L351.5,134.0L350.5,130.8L353.2,128.8L349.8,128.8Z" fill="none" stroke="#333" stroke-width="1.0" />
<path d="M351.9,104.9L350.9,108.1L347.5,108.1L350.2,110.1L349.2,113.2L351.9,111.3L354.6,113.2L353.6,110.1L356.3,108.1L352.9,108.1Z" fill="none" stroke="#333" stroke-width="1.0" />
<path d="M351.9,112.4L350.9,115.6L347.5,115.6L350.2,117.6L349.2,120.7L351.9,118.8L354.6,120.7L353.6,117.6L356.3,115.6L352.9,115.6Z" fill="none" stroke="#333" stroke-width="1.0" />
<path d="M351.9,121.6L350.9,124.7L347.5,124.7L350.2,126.7L349.2,129.9L351.9,127.9L354.6,129.9L353.6,126.7L356.3,124.7L352.9,124.7Z" fill="none" stroke="#333" stroke-width="1.0" />
<path d="M351.9,137.1L350.9,140.3L347.5,140.3L350.2,142.2L349.2,145.4L351.9,143.4L354.6,145.4L353.6,142.2L356.3,140.3L352.9,140.3Z" fill="none" stroke="#333" stroke-width="1.0" />
<path d="M355.1,105.2L354.1,108.4L350.7,108.4L353.4,110.4L352.4,113.6L355.1,111.6L357.8,113.6L356.8,110.4L359.5,108.4L356.1,108.4Z" fill="none" stroke="#333" stroke-width="1.0" />
<path d="M355.1,110.5L354.1,113.7L350.7,113.7L353.4,115.6L352.4,118.8L355.1,116.9L357.8,118.8L356.8,115.6L359.5,113.7L356.1,113.7Z" fill="none" stroke="#333" stroke-width="1.0" />
<path d="M355.1,122.5L354.1,125.7L350.7,125.7L353.4,127.7L352.4,130.9L355.1,128.9L357.8,130.9L356.8,127.7L359.5,125.7L356.1,125.7Z" fill="none" stroke="#333" stroke-width="1.0" />
<path d="M355.1,130.8L354.1,133.9L350.7,133.9L353.4,135.9L352.4,139.1L355.1,137.1L357.8,139.1L356.8,135.9L359.5,133.9L356.1,133.9Z" fill="none" stroke="#333" stroke-width="1.0" />
<path d="M355.1,136.7L354.1,139.9L350.7,139.9L353.4,141.9L352.4,145.1L355.1,143.1L357.8,145.1L356.8,141.9L359.5,139.9L356.1,139.9Z" fill="none" stroke="#333" stroke-width="1.0" />
<path d="M358.3,107.2L357.3,110.4L353.9,110.4L356.6,112.3L355.6,115.5L358.3,113.5L361.0,115.5L360.0,112.3L362.7,110.4L359.3,110.4Z" fill="none" stroke="#333" stroke-width="1.0" />
<path d="M358.3,116.6L357.3,119.8L353.9,119.8L356.6,121.8L355.6,125.0L358.3,123.0L361.0,125.0L360.0,121.8L362.7,119.8L359.3,119.8Z" fill="none" stroke="#333" stroke-width="1.0" />
<path d="M358.3,125.3L357.3,128.5L353.9,128.5L356.6,130.4L355.6,133.6L358.3,131.6L361.0,133.6L360.0,130.4L362.7,128.5L359.3,128.5Z" fill="none" stroke="#333" stroke-width="1.0" />
<path d="M358.3,137.6L357.3,140.8L353.9,140.8L356.6,142.7L355.6,145.9L358.3,143.9L361.0,145.9L360.0,142.7L362.7,140.8L359.3,140.8Z" fill="none" stroke="#333" stroke-width="1.0" />
<path d="M361.5,110.6L360.5,113.8L357.1,113.8L359.8,115.7L358.8,118.9L361.5,116.9L364.2,118.9L363.2,115.7L365.9,113.8L362.5,113.8Z" fill="none" stroke="#333" stroke-width="1.0" />
<path d="M361.5,120.0L360.5,123.2L357.1,123.2L359.8,125.1L358.8,128.3L361.5,126.4L364.2,128.3L363.2,125.1L365.9,123.2L362.5,123.2Z" fill="none" stroke="#333" stroke-width="1.0" />
<path d="M361.5,132.5L360.5,135.7L357.1,135.7L359.8,137.6L358.8,140.8L361.5,138.8L364.2,140.8L363.2,137.6L365.9,135.7L362.5,135.7Z" fill="none" stroke="#333" stroke-width="1.0" />
<path d="M364.6,113.3L363.6,116.5L360.2,116.5L362.9,118.4L361.9,121.6L364.6,119.6L367.3,121.6L366.3,118.4L369.0,116.5L365.6,116.5Z" fill="none" stroke="#333" stroke-width="1.0" />
<path d="M364.6,124.2L363.6,127.3L360.2,127.3L362.9,129.3L361.9,132.5L364.6,130.5L367.3,132.5L366.3,129.3L369.0,127.3L365.6,127.3Z" fill="none" stroke="#333" stroke-width="1.0" />
<path d="M364.6,130.7L363.6,133.9L360.2,133.9L362.9,135.9L361.9,139.0L364.6,137.1L367.3,139.0L366.3,135.9L369.0,133.9L365.6,133.9Z" fill="none" stroke="#333" stroke-width="1.0" />
<path d="M418.5,36.6L417.5,39.8L414.1,39.8L416.8,41.7L415.8,44.9L418.5,43.0L421.2,44.9L420.2,41.7L422.9,39.8L419.5,39.8Z" fill="none" stroke="#f00" stroke-width="1.0" />
<path d="M396.3,73.9L395.3,77.1L391.9,77.1L394.6,79.0L393.6,82.2L396.3,80.3L399.0,82.2L398.0,79.0L400.7,77.1L397.3,77.1Z" fill="none" stroke="#f00" stroke-width="1.0" />
<path d="M383.6,87.3L382.6,90.5L379.2,90.5L381.9,92.4L380.9,95.6L383.6,93.7L386.3,95.6L385.3,92.4L388.0,90.5L384.6,90.5Z" fill="none" stroke="#f00" stroke-width="1.0" />
<path d="M374.2,98.5L373.2,101.7L369.8,101.7L372.5,103.6L371.5,106.8L374.2,104.9L376.9,106.8L375.9,103.6L378.6,101.7L375.2,101.7Z" fill="none" stroke="#f00" stroke-width="1.0" />
<path d="M374.1,98.6L373.1,101.8L369.7,101.8L372.4,103.7L371.4,106.9L374.1,105.0L376.8,106.9L375.8,103.7L378.5,101.8L375.1,101.8Z" fill="none" stroke="#f00" stroke-width="1.0" />
<path d="M364.2,104.6L363.2,107.8L359.8,107.8L362.5,109.7L361.5,112.9L364.2,111.0L366.9,112.9L365.9,109.7L368.6,107.8L365.2,107.8Z" fill="none" stroke="#f00" stroke-width="1.0" />
<path d="M382.4,87.5L381.4,90.7L378.0,90.7L380.7,92.6L379.7,95.8L382.4,93.9L385.1,95.8L384.1,92.6L386.8,90.7L383.4,90.7Z" fill="none" stroke="#f00" stroke-width="1.0" />
<path d="M362.0,126.2L361.0,129.4L357.6,129.4L360.3,131.3L359.3,134.5L362.0,132.6L364.7,134.5L363.7,131.3L366.4,129.4L363.0,129.4Z" fill="none" stroke="#f00" stroke-width="1.0" />
<path d="M374.0,99.3L373.0,102.5L369.6,102.5L372.3,104.4L371.3,107.6L374.0,105.7L376.7,107.6L375.7,104.4L378.4,102.5L375.0,102.5Z" fill="none" stroke="#f00" stroke-width="1.0" />
<path d="M364.0,104.4L363.0,107.6L359.6,107.6L362.3,109.5L361.3,112.7L364.0,110.8L366.7,112.7L365.7,109.5L368.4,107.6L365.0,107.6Z" fill="none" stroke="#f00" stroke-width="1.0" />
<path d="M361.4,125.6L360.4,128.8L357.0,128.8L359.7,130.7L358.7,133.9L361.4,132.0L364.1,133.9L363.1,130.7L365.8,128.8L362.4,128.8Z" fill="none" stroke="#f00" stroke-width="1.0" />
<path d="M332.9,103.0L331.9,106.2L328.5,106.2L331.2,108.2L330.2,111.3L332.9,109.4L335.6,111.3L334.6,108.2L337.3,106.2L333.9,106.2Z" fill="none" stroke="#f00" stroke-width="1.0" />
<path d="M332.9,105.4L331.9,108.6L328.5,108.6L331.2,110.5L330.2,113.7L332.9,111.8L335.6,113.7L334.6,110.5L337.3,108.6L333.9,108.6Z" fill="none" stroke="#f00" stroke-width="1.0" />
<path d="M332.9,109.7L331.9,112.9L328.5,112.9L331.2,114.9L330.2,118.1L332.9,116.1L335.6,118.1L334.6,114.9L337.3,112.9L333.9,112.9Z" fill="none" stroke="#f00" stroke-width="1.0" />
<path d="M332.9,117.1L331.9,120.3L328.5,120.3L331.2,122.3L330.2,125.5L332.9,123.5L335.6,125.5L334.6,122.3L337.3,120.3L333.9,120.3Z" fill="none" stroke="#f00" stroke-width="1.0" />
<path d="M332.9,119.5L331.9,122.7L328.5,122.7L331.2,124.7L330.2,127.8L332.9,125.9L335.6,127.8L334.6,124.7L337.3,122.7L333.9,122.7Z" fill="none" stroke="#f00" stroke-width="1.0" />
<path d="M332.9,124.0L331.9,127.2L328.5,127.2L331.2,129.1L330.2,132.3L332.9,130.4L335.6,132.3L334.6,129.1L337.3,127.2L333.9,127.2Z" fill="none" stroke="#f00" stroke-width="1.0" />
<path d="M332.9,130.2L331.9,133.3L328.5,133.3L331.2,135.3L330.2,138.5L332.9,136.5L335.6,138.5L334.6,135.3L337.3,133.3L333.9,133.3Z" fill="none" stroke="#f00" stroke-width="1.0" />
<path d="M332.9,134.0L331.9,137.1L328.5,137.1L331.2,139.1L330.2,142.3L332.9,140.3L335.6,142.3L334.6,139.1L337.3,137.1L333.9,137.1Z" fill="none" stroke="#f00" stroke-width="1.0" />
<path d="M332.9,140.2L331.9,143.3L328.5,143.3L331.2,145.3L330.2,148.5L332.9,146.5L335.6,148.5L334.6,145.3L337.3,143.3L333.9,143.3Z" fill="none" stroke="#f00" stroke-width="1.0" />
<path d="M336.1,101.2L335.1,104.4L331.7,104.4L334.4,106.3L333.4,109.5L336.1,107.5L338.8,109.5L337.8,106.3L340.5,104.4L337.1,104.4Z" fill="none" stroke="#f00" stroke-width="1.0" />
<path d="M336.1,108.7L335.1,111.9L331.7,111.9L334.4,113.9L333.4,117.0L336.1,115.1L338.8,117.0L337.8,113.9L340.5,111.9L337.1,111.9Z" fill="none" stroke="#f00" stroke-width="1.0" />
<path d="M336.1,112.0L335.1,115.1L331.7,115.1L334.4,117.1L333.4,120.3L336.1,118.3L338.8,120.3L337.8,117.1L340.5,115.1L337.1,115.1Z" fill="none" stroke="#f00" stroke-width="1.0" />
<path d="M336.1,118.1L335.1,121.3L331.7,121.3L334.4,123.2L333.4,126.4L336.1,124.5L338.8,126.4L337.8,123.2L340.5,121.3L337.1,121.3Z" fill="none" stroke="#f00" stroke-width="1.0" />
<path d="M336.1,124.4L335.1,127.6L331.7,127.6L334.4,129.5L333.4,132.7L336.1,130.7L338.8,132.7L337.8,129.5L340.5,127.6L337.1,127.6Z" fill="none" stroke="#f00" stroke-width="1.0" />
<path d="M336.1,128.9L335.1,132.0L331.7,132.0L334.4,134.0L333.4,137.2L336.1,135.2L338.8,137.2L337.8,134.0L340.5,132.0L337.1,132.0Z" fill="none" stroke="#f00" stroke-width="1.0" />
<path d="M336.1,134.9L335.1,138.0L331.7,138.0L334.4,140.0L333.4,143.2L336.1,141.2L338.8,143.2L337.8,140.0L340.5,138.0L337.1,138.0Z" fill="none" stroke="#f00" stroke-width="1.0" />
<path d="M336.1,139.4L335.1,142.6L331.7,142.6L334.4,144.6L333.4,147.8L336.1,145.8L338.8,147.8L337.8,144.6L340.5,142.6L337.1,142.6Z" fill="none" stroke="#f00" stroke-width="1.0" />
<path d="M339.3,102.6L338.3,105.8L334.9,105.8L337.6,107.8L336.6,111.0L339.3,109.0L342.0,111.0L341.0,107.8L343.7,105.8L340.3,105.8Z" fill="none" stroke="#f00" stroke-width="1.0" />
<path d="M339.3,110.8L338.3,114.0L334.9,114.0L337.6,115.9L336.6,119.1L339.3,117.1L342.0,119.1L341.0,115.9L343.7,114.0L340.3,114.0Z" fill="none" stroke="#f00" stroke-width="1.0" />
<path d="M339.3,115.3L338.3,118.4L334.9,118.4L337.6,120.4L336.6,123.6L339.3,121.6L342.0,123.6L341.0,120.4L343.7,118.4L340.3,118.4Z" fill="none" stroke="#f00" stroke-width="1.0" />
<path d="M339.3,119.8L338.3,123.0L334.9,123.0L337.6,124.9L336.6,128.1L339.3,126.1L342.0,128.1L341.0,124.9L343.7,123.0L340.3,123.0Z" fill="none" stroke="#f00" stroke-width="1.0" />
<path d="M339.3,124.8L338.3,128.0L334.9,128.0L337.6,130.0L336.6,133.1L339.3,131.2L342.0,133.1L341.0,130.0L343.7,128.0L340.3,128.0Z" fill="none" stroke="#f00" stroke-width="1.0" />
<path d="M339.3,132.4L338.3,135.6L334.9,135.6L337.6,137.5L336.6,140.7L339.3,138.8L342.0,140.7L341.0,137.5L343.7,135.6L340.3,135.6Z" fill="none" stroke="#f00" stroke-width="1.0" />
<path d="M339.3,137.0L338.3,140.1L334.9,140.1L337.6,142.1L336.6,145.3L339.3,143.3L342.0,145.3L341.0,142.1L343.7,140.1L340.3,140.1Z" fill="none" stroke="#f00" stroke-width="1.0" />
<path d="M342.4,107.7L341.4,110.9L338.0,110.9L340.7,112.9L339.7,116.0L342.4,114.1L345.1,116.0L344.1,112.9L346.8,110.9L343.4,110.9Z" fill="none" stroke="#f00" stroke-width="1.0" />
<path d="M342.4,112.8L341.4,116.0L338.0,116.0L340.7,118.0L339.7,121.2L342.4,119.2L345.1,121.2L344.1,118.0L346.8,116.0L343.4,116.0Z" fill="none" stroke="#f00" stroke-width="1.0" />
<path d="M342.4,119.1L341.4,122.3L338.0,122.3L340.7,124.3L339.7,127.5L342.4,125.5L345.1,127.5L344.1,124.3L346.8,122.3L343.4,122.3Z" fill="none" stroke="#f00" stroke-width="1.0" />
<path d="M342.4,123.5L341.4,126.6L338.0,126.6L340.7,128.6L339.7,131.8L342.4,129.8L345.1,131.8L344.1,128.6L346.8,126.6L343.4,126.6Z" fill="none" stroke="#f00" stroke-width="1.0" />
<path d="M342.4,129.6L341.4,132.8L338.0,132.8L340.7,134.7L339.7,137.9L342.4,135.9L345.1,137.9L344.1,134.7L346.8,132.8L343.4,132.8Z" fill="none" stroke="#f00" stroke-width="1.0" />
<path d="M342.4,134.9L341.4,138.1L338.0,138.1L340.7,140.1L339.7,143.3L342.4,141.3L345.1,143.3L344.1,140.1L346.8,138.1L343.4,138.1Z" fill="none" stroke="#f00" stroke-width="1.0" />
<path d="M345.6,105.7L344.6,108.9L341.2,108.9L343.9,110.8L342.9,114.0L345.6,112.0L348.3,114.0L347.3,110.8L350.0,108.9L346.6,108.9Z" fill="none" stroke="#f00" stroke-width="1.0" />
<path d="M345.6,114.8L344.6,117.9L341.2,117.9L343.9,119.9L342.9,123.1L345.6,121.1L348.3,123.1L347.3,119.9L350.0,117.9L346.6,117.9Z" fill="none" stroke="#f00" stroke-width="1.0" />
<path d="M345.6,118.7L344.6,121.9L341.2,121.9L343.9,123.8L342.9,127.0L345.6,125.0L348.3,127.0L347.3,123.8L350.0,121.9L346.6,121.9Z" fill="none" stroke="#f00" stroke-width="1.0" />
<path d="M345.6,126.9L344.6,130.1L341.2,130.1L343.9,132.0L342.9,135.2L345.6,133.2L348.3,135.2L347.3,132.0L350.0,130.1L346.6,130.1Z" fill="none" stroke="#f00" stroke-width="1.0" />
<path d="M345.6,133.9L344.6,137.1L341.2,137.1L343.9,139.1L342.9,142.3L345.6,140.3L348.3,142.3L347.3,139.1L350.0,137.1L346.6,137.1Z" fill="none" stroke="#f00" stroke-width="1.0" />
<path d="M348.8,109.5L347.8,112.7L344.4,112.7L347.1,114.7L346.1,117.9L348.8,115.9L351.5,117.9L350.5,114.7L353.2,112.7L349.8,112.7Z" fill="none" stroke="#f00" stroke-width="1.0" />
<path d="M348.8,114.4L347.8,117.6L344.4,117.6L347.1,119.5L346.1,122.7L348.8,120.8L351.5,122.7L350.5,119.5L353.2,117.6L349.8,117.6Z" fill="none" stroke="#f00" stroke-width="1.0" />
<path d="M348.8,124.3L347.8,127.4L344.4,127.4L347.1,129.4L346.1,132.6L348.8,130.6L351.5,132.6L350.5,129.4L353.2,127.4L349.8,127.4Z" fill="none" stroke="#f00" stroke-width="1.0" />
<path d="M348.8,130.6L347.8,133.8L344.4,133.8L347.1,135.7L346.1,138.9L348.8,137.0L351.5,138.9L350.5,135.7L353.2,133.8L349.8,133.8Z" fill="none" stroke="#f00" stroke-width="1.0" />
<path d="M351.9,109.7L350.9,112.9L347.5,112.9L350.2,114.8L349.2,118.0L351.9,116.0L354.6,118.0L353.6,114.8L356.3,112.9L352.9,112.9Z" fill="none" stroke="#f00" stroke-width="1.0" />
<path d="M351.9,116.4L350.9,119.6L347.5,119.6L350.2,121.6L349.2,124.7L351.9,122.8L354.6,124.7L353.6,121.6L356.3,119.6L352.9,119.6Z" fill="none" stroke="#f00" stroke-width="1.0" />
<path d="M351.9,125.9L350.9,129.1L347.5,129.1L350.2,131.0L349.2,134.2L351.9,132.2L354.6,134.2L353.6,131.0L356.3,129.1L352.9,129.1Z" fill="none" stroke="#f00" stroke-width="1.0" />
<path d="M355.1,113.2L354.1,116.3L350.7,116.3L353.4,118.3L352.4,121.5L355.1,119.5L357.8,121.5L356.8,118.3L359.5,116.3L356.1,116.3Z" fill="none" stroke="#f00" stroke-width="1.0" />
<path d="M355.1,125.4L354.1,128.6L350.7,128.6L353.4,130.6L352.4,133.8L355.1,131.8L357.8,133.8L356.8,130.6L359.5,128.6L356.1,128.6Z" fill="none" stroke="#f00" stroke-width="1.0" />
<path d="M332.9,123.0L331.9,126.2L328.5,126.2L331.2,128.2L330.2,131.4L332.9,129.4L335.6,131.4L334.6,128.2L337.3,126.2L333.9,126.2Z" fill="none" stroke="#f00" stroke-width="1.0" />
<path d="M332.9,128.3L331.9,131.5L328.5,131.5L331.2,133.5L330.2,136.7L332.9,134.7L335.6,136.7L334.6,133.5L337.3,131.5L333.9,131.5Z" fill="none" stroke="#f00" stroke-width="1.0" />
<path d="M332.9,133.2L331.9,136.4L328.5,136.4L331.2,138.4L330.2,141.6L332.9,139.6L335.6,141.6L334.6,138.4L337.3,136.4L333.9,136.4Z" fill="none" stroke="#f00" stroke-width="1.0" />
<path d="M332.9,139.3L331.9,142.5L328.5,142.5L331.2,144.4L330.2,147.6L332.9,145.6L335.6,147.6L334.6,144.4L337.3,142.5L333.9,142.5Z" fill="none" stroke="#f00" stroke-width="1.0" />
<path d="M336.1,126.8L335.1,130.0L331.7,130.0L334.4,131.9L333.4,135.1L336.1,133.1L338.8,135.1L337.8,131.9L340.5,130.0L337.1,130.0Z" fill="none" stroke="#f00" stroke-width="1.0" />
<path d="M336.1,129.6L335.1,132.8L331.7,132.8L334.4,134.8L333.4,138.0L336.1,136.0L338.8,138.0L337.8,134.8L340.5,132.8L337.1,132.8Z" fill="none" stroke="#f00" stroke-width="1.0" />
<path d="M336.1,134.3L335.1,137.5L331.7,137.5L334.4,139.5L333.4,142.6L336.1,140.7L338.8,142.6L337.8,139.5L340.5,137.5L337.1,137.5Z" fill="none" stroke="#f00" stroke-width="1.0" />
<path d="M336.1,139.4L335.1,142.6L331.7,142.6L334.4,144.5L333.4,147.7L336.1,145.7L338.8,147.7L337.8,144.5L340.5,142.6L337.1,142.6Z" fill="none" stroke="#f00" stroke-width="1.0" />
<path d="M339.3,122.9L338.3,126.1L334.9,126.1L337.6,128.1L336.6,131.2L339.3,129.3L342.0,131.2L341.0,128.1L343.7,126.1L340.3,126.1Z" fill="none" stroke="#f00" stroke-width="1.0" />
<path d="M339.3,130.8L338.3,134.0L334.9,134.0L337.6,135.9L336.6,139.1L339.3,137.1L342.0,139.1L341.0,135.9L343.7,134.0L340.3,134.0Z" fill="none" stroke="#f00" stroke-width="1.0" />
<path d="M339.3,137.2L338.3,140.4L334.9,140.4L337.6,142.4L336.6,145.6L339.3,143.6L342.0,145.6L341.0,142.4L343.7,140.4L340.3,140.4Z" fill="none" stroke="#f00" stroke-width="1.0" />
<path d="M360.8,133.9L359.8,137.1L356.4,137.1L359.1,139.0L358.1,142.2L360.8,140.3L363.5,142.2L362.5,139.0L365.2,137.1L361.8,137.1Z" fill="none" stroke="#333" stroke-width="1.0" />
<path d="M332.9,145.2L331.9,148.4L328.5,148.4L331.2,150.3L330.2,153.5L332.9,151.6L335.6,153.5L334.6,150.3L337.3,148.4L333.9,148.4Z" fill="none" stroke="#333" stroke-width="1.0" />
<path d="M336.1,121.6L335.1,124.8L331.7,124.8L334.4,126.8L333.4,129.9L336.1,128.0L338.8,129.9L337.8,126.8L340.5,124.8L337.1,124.8Z" fill="none" stroke="#333" stroke-width="1.0" />
<path d="M339.3,109.2L338.3,112.4L334.9,112.4L337.6,114.4L336.6,117.6L339.3,115.6L342.0,117.6L341.0,114.4L343.7,112.4L340.3,112.4Z" fill="none" stroke="#333" stroke-width="1.0" />
<path d="M342.4,95.4L341.4,98.6L338.0,98.6L340.7,100.5L339.7,103.7L342.4,101.8L345.1,103.7L344.1,100.5L346.8,98.6L343.4,98.6Z" fill="none" stroke="#333" stroke-width="1.0" />
<path d="M342.4,128.2L341.4,131.4L338.0,131.4L340.7,133.4L339.7,136.6L342.4,134.6L345.1,136.6L344.1,133.4L346.8,131.4L343.4,131.4Z" fill="none" stroke="#333" stroke-width="1.0" />
<path d="M348.8,133.3L347.8,136.5L344.4,136.5L347.1,138.4L346.1,141.6L348.8,139.6L351.5,141.6L350.5,138.4L353.2,136.5L349.8,136.5Z" fill="none" stroke="#333" stroke-width="1.0" />
<path d="M348.8,140.6L347.8,143.8L344.4,143.8L347.1,145.8L346.1,148.9L348.8,147.0L351.5,148.9L350.5,145.8L353.2,143.8L349.8,143.8Z" fill="none" stroke="#333" stroke-width="1.0" />
<path d="M351.9,126.9L350.9,130.1L347.5,130.1L350.2,132.0L349.2,135.2L351.9,133.3L354.6,135.2L353.6,132.0L356.3,130.1L352.9,130.1Z" fill="none" stroke="#333" stroke-width="1.0" />
<line x1="293.50" y1="167.50" x2="523.24" y2="-62.24" stroke="#000" stroke-width="2.3" stroke-dasharray="8.6 3.7"/>
</g>
<line x1="293.50" y1="18.50" x2="442.50" y2="18.50" stroke="#888" stroke-width="1.0" />
<line x1="293.50" y1="167.80" x2="442.50" y2="167.80" stroke="#888" stroke-width="1.0" />
<line x1="293.50" y1="18.50" x2="293.50" y2="167.80" stroke="#888" stroke-width="1.0" />
<line x1="442.50" y1="18.50" x2="442.50" y2="167.80" stroke="#888" stroke-width="1.0" />
<line x1="288.00" y1="159.80" x2="293.50" y2="159.80" stroke="#222" stroke-width="1.3" />
<text x="282.60" y="165.20" font-size="12.0" text-anchor="end" fill="#000" textLength="7.63" lengthAdjust="spacingAndGlyphs" >2</text>
<line x1="288.00" y1="128.08" x2="293.50" y2="128.08" stroke="#222" stroke-width="1.3" />
<text x="282.60" y="133.48" font-size="12.0" text-anchor="end" fill="#000" textLength="7.63" lengthAdjust="spacingAndGlyphs" >3</text>
<line x1="288.00" y1="96.36" x2="293.50" y2="96.36" stroke="#222" stroke-width="1.3" />
<text x="282.60" y="101.76" font-size="12.0" text-anchor="end" fill="#000" textLength="7.63" lengthAdjust="spacingAndGlyphs" >4</text>
<line x1="288.00" y1="64.64" x2="293.50" y2="64.64" stroke="#222" stroke-width="1.3" />
<text x="282.60" y="70.04" font-size="12.0" text-anchor="end" fill="#000" textLength="7.63" lengthAdjust="spacingAndGlyphs" >5</text>
<line x1="288.00" y1="32.92" x2="293.50" y2="32.92" stroke="#222" stroke-width="1.3" />
<text x="282.60" y="38.32" font-size="12.0" text-anchor="end" fill="#000" textLength="7.63" lengthAdjust="spacingAndGlyphs" >6</text>
<line x1="301.20" y1="167.80" x2="301.20" y2="173.30" stroke="#222" stroke-width="1.3" />
<text x="301.20" y="188.10" font-size="12.0" text-anchor="middle" fill="#000" textLength="7.63" lengthAdjust="spacingAndGlyphs" >2</text>
<line x1="364.64" y1="167.80" x2="364.64" y2="173.30" stroke="#222" stroke-width="1.3" />
<text x="364.64" y="188.10" font-size="12.0" text-anchor="middle" fill="#000" textLength="7.63" lengthAdjust="spacingAndGlyphs" >4</text>
<line x1="428.08" y1="167.80" x2="428.08" y2="173.30" stroke="#222" stroke-width="1.3" />
<text x="428.08" y="188.10" font-size="12.0" text-anchor="middle" fill="#000" textLength="7.63" lengthAdjust="spacingAndGlyphs" >6</text>
<text x="293.80" y="8.00" font-size="12.1" text-anchor="start" fill="#000" textLength="17.12" lengthAdjust="spacingAndGlyphs" >(b)</text>
<text x="368.00" y="205.10" font-size="10.8" text-anchor="middle" fill="#000" textLength="103.33" lengthAdjust="spacingAndGlyphs" >Catalog magnitude</text>
<text x="266.40" y="93.15" font-size="10.8" text-anchor="middle" fill="#000" textLength="113.43" lengthAdjust="spacingAndGlyphs" transform="rotate(-90 266.40 93.15)" >Real-time magnitude</text>
<rect x="298.25" y="23.45" width="48.00" height="14.50" fill="#fff" stroke="#333" stroke-width="1.5" rx="3" ry="3"/>
<text x="300.50" y="33.00" font-size="9.80" fill="#000" textLength="5.63" lengthAdjust="spacingAndGlyphs" xml:space="preserve">T</text>
<text x="306.13" y="34.80" font-size="6.86" font-style="italic" fill="#000" textLength="3.89" lengthAdjust="spacingAndGlyphs" xml:space="preserve">P</text>
<text x="310.02" y="33.00" font-size="9.80" fill="#000" textLength="33.03" lengthAdjust="spacingAndGlyphs" xml:space="preserve"> + 10 s</text>
<text x="408.15" y="150.00" font-size="8.60" font-style="italic" fill="#000" textLength="4.94" lengthAdjust="spacingAndGlyphs" xml:space="preserve">σ</text>
<text x="413.10" y="150.00" font-size="8.60" fill="#000" textLength="23.90" lengthAdjust="spacingAndGlyphs" xml:space="preserve">=0.54</text>
<text x="408.15" y="161.80" font-size="8.60" font-style="italic" fill="#f00" textLength="4.94" lengthAdjust="spacingAndGlyphs" xml:space="preserve">σ</text>
<text x="413.10" y="161.80" font-size="8.60" fill="#f00" textLength="23.90" lengthAdjust="spacingAndGlyphs" xml:space="preserve">=0.41</text>
<clipPath id="clipc"><rect x="522.5" y="18.5" width="149.5" height="149.3"/></clipPath>
<g clip-path="url(#clipc)">
<circle cx="528.30" cy="132.80" r="4.5" fill="none" stroke="#333" stroke-width="1.0"/>
<circle cx="528.30" cy="137.40" r="4.5" fill="none" stroke="#333" stroke-width="1.0"/>
<circle cx="528.30" cy="141.50" r="4.5" fill="none" stroke="#333" stroke-width="1.0"/>
<circle cx="546.10" cy="125.60" r="4.5" fill="none" stroke="#333" stroke-width="1.0"/>
<circle cx="546.10" cy="130.40" r="4.5" fill="none" stroke="#333" stroke-width="1.0"/>
<circle cx="546.10" cy="134.20" r="4.5" fill="none" stroke="#333" stroke-width="1.0"/>
<path d="M545.80,140.80L552.10,147.10L545.80,153.40L539.50,147.10Z" fill="none" stroke="#333" stroke-width="1.0" />
<path d="M540.60,149.00L546.90,155.30L540.60,161.60L534.30,155.30Z" fill="none" stroke="#333" stroke-width="1.0" />
<path d="M540.60,156.50L546.90,162.80L540.60,169.10L534.30,162.80Z" fill="none" stroke="#333" stroke-width="1.0" />
<path d="M545.80,143.10L552.10,149.40L545.80,155.70L539.50,149.40Z" fill="none" stroke="#333" stroke-width="1.0" />
<circle cx="528.30" cy="138.70" r="4.5" fill="none" stroke="#f00" stroke-width="1.0"/>
<circle cx="546.10" cy="131.20" r="4.5" fill="none" stroke="#f00" stroke-width="1.0"/>
<circle cx="546.10" cy="132.20" r="4.5" fill="none" stroke="#f00" stroke-width="1.0"/>
<path d="M545.80,139.40L552.10,145.70L545.80,152.00L539.50,145.70Z" fill="none" stroke="#f00" stroke-width="1.0" />
<path d="M540.60,146.80L546.90,153.10L540.60,159.40L534.30,153.10Z" fill="none" stroke="#f00" stroke-width="1.0" />
<path d="M638.1,20.4L637.1,23.6L633.7,23.6L636.4,25.5L635.4,28.7L638.1,26.8L640.8,28.7L639.8,25.5L642.5,23.6L639.1,23.6Z" fill="none" stroke="#333" stroke-width="1.0" />
<path d="M638.1,30.5L637.1,33.7L633.7,33.7L636.4,35.6L635.4,38.8L638.1,36.9L640.8,38.8L639.8,35.6L642.5,33.7L639.1,33.7Z" fill="none" stroke="#333" stroke-width="1.0" />
<path d="M638.1,32.4L637.1,35.6L633.7,35.6L636.4,37.5L635.4,40.7L638.1,38.8L640.8,40.7L639.8,37.5L642.5,35.6L639.1,35.6Z" fill="none" stroke="#333" stroke-width="1.0" />
<path d="M638.1,55.9L637.1,59.1L633.7,59.1L636.4,61.0L635.4,64.2L638.1,62.3L640.8,64.2L639.8,61.0L642.5,59.1L639.1,59.1Z" fill="none" stroke="#333" stroke-width="1.0" />
<path d="M605.8,58.4L604.8,61.6L601.4,61.6L604.1,63.5L603.1,66.7L605.8,64.8L608.5,66.7L607.5,63.5L610.2,61.6L606.8,61.6Z" fill="none" stroke="#333" stroke-width="1.0" />
<path d="M605.8,68.0L604.8,71.2L601.4,71.2L604.1,73.1L603.1,76.3L605.8,74.4L608.5,76.3L607.5,73.1L610.2,71.2L606.8,71.2Z" fill="none" stroke="#333" stroke-width="1.0" />
<path d="M617.8,71.8L616.8,75.0L613.4,75.0L616.1,76.9L615.1,80.1L617.8,78.2L620.5,80.1L619.5,76.9L622.2,75.0L618.8,75.0Z" fill="none" stroke="#333" stroke-width="1.0" />
<path d="M617.8,73.0L616.8,76.2L613.4,76.2L616.1,78.1L615.1,81.3L617.8,79.4L620.5,81.3L619.5,78.1L622.2,76.2L618.8,76.2Z" fill="none" stroke="#333" stroke-width="1.0" />
<path d="M617.8,87.0L616.8,90.2L613.4,90.2L616.1,92.1L615.1,95.3L617.8,93.4L620.5,95.3L619.5,92.1L622.2,90.2L618.8,90.2Z" fill="none" stroke="#333" stroke-width="1.0" />
<path d="M617.8,101.6L616.8,104.8L613.4,104.8L616.1,106.7L615.1,109.9L617.8,108.0L620.5,109.9L619.5,106.7L622.2,104.8L618.8,104.8Z" fill="none" stroke="#333" stroke-width="1.0" />
<path d="M605.8,89.5L604.8,92.7L601.4,92.7L604.1,94.6L603.1,97.8L605.8,95.9L608.5,97.8L607.5,94.6L610.2,92.7L606.8,92.7Z" fill="none" stroke="#333" stroke-width="1.0" />
<path d="M605.8,95.9L604.8,99.1L601.4,99.1L604.1,101.0L603.1,104.2L605.8,102.3L608.5,104.2L607.5,101.0L610.2,99.1L606.8,99.1Z" fill="none" stroke="#333" stroke-width="1.0" />
<path d="M605.8,102.2L604.8,105.4L601.4,105.4L604.1,107.3L603.1,110.5L605.8,108.6L608.5,110.5L607.5,107.3L610.2,105.4L606.8,105.4Z" fill="none" stroke="#333" stroke-width="1.0" />
<path d="M597.5,81.9L596.5,85.1L593.1,85.1L595.8,87.0L594.8,90.2L597.5,88.3L600.2,90.2L599.2,87.0L601.9,85.1L598.5,85.1Z" fill="none" stroke="#333" stroke-width="1.0" />
<path d="M569.3,89.5L568.3,92.7L564.9,92.7L567.6,94.6L566.6,97.8L569.3,95.9L572.0,97.8L571.0,94.6L573.7,92.7L570.3,92.7Z" fill="none" stroke="#333" stroke-width="1.0" />
<path d="M596.9,110.6L595.9,113.8L592.5,113.8L595.2,115.7L594.2,118.9L596.9,117.0L599.6,118.9L598.6,115.7L601.3,113.8L597.9,113.8Z" fill="none" stroke="#333" stroke-width="1.0" />
<path d="M596.9,122.3L595.9,125.5L592.5,125.5L595.2,127.4L594.2,130.6L596.9,128.7L599.6,130.6L598.6,127.4L601.3,125.5L597.9,125.5Z" fill="none" stroke="#333" stroke-width="1.0" />
<path d="M587.5,143.4L586.5,146.6L583.1,146.6L585.8,148.5L584.8,151.7L587.5,149.8L590.2,151.7L589.2,148.5L591.9,146.6L588.5,146.6Z" fill="none" stroke="#333" stroke-width="1.0" />
<path d="M587.5,137.5L586.5,140.7L583.1,140.7L585.8,142.6L584.8,145.8L587.5,143.9L590.2,145.8L589.2,142.6L591.9,140.7L588.5,140.7Z" fill="none" stroke="#333" stroke-width="1.0" />
<path d="M596.9,82.4L595.9,85.6L592.5,85.6L595.2,87.5L594.2,90.7L596.9,88.8L599.6,90.7L598.6,87.5L601.3,85.6L597.9,85.6Z" fill="none" stroke="#333" stroke-width="1.0" />
<path d="M606.3,88.9L605.3,92.1L601.9,92.1L604.6,94.0L603.6,97.2L606.3,95.3L609.0,97.2L608.0,94.0L610.7,92.1L607.3,92.1Z" fill="none" stroke="#333" stroke-width="1.0" />
<path d="M606.3,95.3L605.3,98.5L601.9,98.5L604.6,100.4L603.6,103.6L606.3,101.7L609.0,103.6L608.0,100.4L610.7,98.5L607.3,98.5Z" fill="none" stroke="#333" stroke-width="1.0" />
<path d="M606.3,101.8L605.3,105.0L601.9,105.0L604.6,106.9L603.6,110.1L606.3,108.2L609.0,110.1L608.0,106.9L610.7,105.0L607.3,105.0Z" fill="none" stroke="#333" stroke-width="1.0" />
<path d="M616.8,87.1L615.8,90.3L612.4,90.3L615.1,92.2L614.1,95.4L616.8,93.5L619.5,95.4L618.5,92.2L621.2,90.3L617.8,90.3Z" fill="none" stroke="#333" stroke-width="1.0" />
<path d="M616.8,101.8L615.8,105.0L612.4,105.0L615.1,106.9L614.1,110.1L616.8,108.2L619.5,110.1L618.5,106.9L621.2,105.0L617.8,105.0Z" fill="none" stroke="#333" stroke-width="1.0" />
<path d="M590.0,130.4L589.0,133.6L585.6,133.6L588.3,135.5L587.3,138.7L590.0,136.8L592.7,138.7L591.7,135.5L594.4,133.6L591.0,133.6Z" fill="none" stroke="#333" stroke-width="1.0" />
<path d="M592.0,120.4L591.0,123.6L587.6,123.6L590.3,125.5L589.3,128.7L592.0,126.8L594.7,128.7L593.7,125.5L596.4,123.6L593.0,123.6Z" fill="none" stroke="#333" stroke-width="1.0" />
<path d="M557.9,100.9L556.9,104.0L553.5,104.0L556.2,106.0L555.2,109.2L557.9,107.2L560.6,109.2L559.6,106.0L562.3,104.0L558.9,104.0Z" fill="none" stroke="#333" stroke-width="1.0" />
<path d="M557.9,108.3L556.9,111.5L553.5,111.5L556.2,113.4L555.2,116.6L557.9,114.6L560.6,116.6L559.6,113.4L562.3,111.5L558.9,111.5Z" fill="none" stroke="#333" stroke-width="1.0" />
<path d="M557.9,116.4L556.9,119.6L553.5,119.6L556.2,121.6L555.2,124.8L557.9,122.8L560.6,124.8L559.6,121.6L562.3,119.6L558.9,119.6Z" fill="none" stroke="#333" stroke-width="1.0" />
<path d="M557.9,124.7L556.9,127.9L553.5,127.9L556.2,129.8L555.2,133.0L557.9,131.0L560.6,133.0L559.6,129.8L562.3,127.9L558.9,127.9Z" fill="none" stroke="#333" stroke-width="1.0" />
<path d="M557.9,129.4L556.9,132.6L553.5,132.6L556.2,134.5L555.2,137.7L557.9,135.7L560.6,137.7L559.6,134.5L562.3,132.6L558.9,132.6Z" fill="none" stroke="#333" stroke-width="1.0" />
<path d="M557.9,136.3L556.9,139.5L553.5,139.5L556.2,141.4L555.2,144.6L557.9,142.6L560.6,144.6L559.6,141.4L562.3,139.5L558.9,139.5Z" fill="none" stroke="#333" stroke-width="1.0" />
<path d="M557.9,143.8L556.9,147.0L553.5,147.0L556.2,148.9L555.2,152.1L557.9,150.1L560.6,152.1L559.6,148.9L562.3,147.0L558.9,147.0Z" fill="none" stroke="#333" stroke-width="1.0" />
<path d="M560.9,97.6L559.9,100.8L556.5,100.8L559.2,102.7L558.2,105.9L560.9,104.0L563.6,105.9L562.6,102.7L565.3,100.8L561.9,100.8Z" fill="none" stroke="#333" stroke-width="1.0" />
<path d="M560.9,107.9L559.9,111.1L556.5,111.1L559.2,113.1L558.2,116.3L560.9,114.3L563.6,116.3L562.6,113.1L565.3,111.1L561.9,111.1Z" fill="none" stroke="#333" stroke-width="1.0" />
<path d="M560.9,115.2L559.9,118.4L556.5,118.4L559.2,120.3L558.2,123.5L560.9,121.6L563.6,123.5L562.6,120.3L565.3,118.4L561.9,118.4Z" fill="none" stroke="#333" stroke-width="1.0" />
<path d="M560.9,120.4L559.9,123.6L556.5,123.6L559.2,125.6L558.2,128.7L560.9,126.8L563.6,128.7L562.6,125.6L565.3,123.6L561.9,123.6Z" fill="none" stroke="#333" stroke-width="1.0" />
<path d="M560.9,137.1L559.9,140.3L556.5,140.3L559.2,142.2L558.2,145.4L560.9,143.5L563.6,145.4L562.6,142.2L565.3,140.3L561.9,140.3Z" fill="none" stroke="#333" stroke-width="1.0" />
<path d="M560.9,144.6L559.9,147.7L556.5,147.7L559.2,149.7L558.2,152.9L560.9,150.9L563.6,152.9L562.6,149.7L565.3,147.7L561.9,147.7Z" fill="none" stroke="#333" stroke-width="1.0" />
<path d="M560.9,154.9L559.9,158.0L556.5,158.0L559.2,160.0L558.2,163.2L560.9,161.2L563.6,163.2L562.6,160.0L565.3,158.0L561.9,158.0Z" fill="none" stroke="#333" stroke-width="1.0" />
<path d="M563.9,97.3L562.9,100.4L559.5,100.4L562.2,102.4L561.2,105.6L563.9,103.6L566.6,105.6L565.6,102.4L568.3,100.4L564.9,100.4Z" fill="none" stroke="#333" stroke-width="1.0" />
<path d="M563.9,104.2L562.9,107.4L559.5,107.4L562.2,109.3L561.2,112.5L563.9,110.5L566.6,112.5L565.6,109.3L568.3,107.4L564.9,107.4Z" fill="none" stroke="#333" stroke-width="1.0" />
<path d="M563.9,120.4L562.9,123.5L559.5,123.5L562.2,125.5L561.2,128.7L563.9,126.7L566.6,128.7L565.6,125.5L568.3,123.5L564.9,123.5Z" fill="none" stroke="#333" stroke-width="1.0" />
<path d="M563.9,126.7L562.9,129.9L559.5,129.9L562.2,131.9L561.2,135.0L563.9,133.1L566.6,135.0L565.6,131.9L568.3,129.9L564.9,129.9Z" fill="none" stroke="#333" stroke-width="1.0" />
<path d="M563.9,134.5L562.9,137.7L559.5,137.7L562.2,139.7L561.2,142.9L563.9,140.9L566.6,142.9L565.6,139.7L568.3,137.7L564.9,137.7Z" fill="none" stroke="#333" stroke-width="1.0" />
<path d="M563.9,141.9L562.9,145.1L559.5,145.1L562.2,147.1L561.2,150.3L563.9,148.3L566.6,150.3L565.6,147.1L568.3,145.1L564.9,145.1Z" fill="none" stroke="#333" stroke-width="1.0" />
<path d="M563.9,151.8L562.9,154.9L559.5,154.9L562.2,156.9L561.2,160.1L563.9,158.1L566.6,160.1L565.6,156.9L568.3,154.9L564.9,154.9Z" fill="none" stroke="#333" stroke-width="1.0" />
<path d="M566.8,104.4L565.8,107.6L562.4,107.6L565.1,109.6L564.1,112.7L566.8,110.8L569.5,112.7L568.5,109.6L571.2,107.6L567.8,107.6Z" fill="none" stroke="#333" stroke-width="1.0" />
<path d="M566.8,114.5L565.8,117.7L562.4,117.7L565.1,119.7L564.1,122.9L566.8,120.9L569.5,122.9L568.5,119.7L571.2,117.7L567.8,117.7Z" fill="none" stroke="#333" stroke-width="1.0" />
<path d="M566.8,122.6L565.8,125.8L562.4,125.8L565.1,127.8L564.1,131.0L566.8,129.0L569.5,131.0L568.5,127.8L571.2,125.8L567.8,125.8Z" fill="none" stroke="#333" stroke-width="1.0" />
<path d="M566.8,140.7L565.8,143.8L562.4,143.8L565.1,145.8L564.1,149.0L566.8,147.0L569.5,149.0L568.5,145.8L571.2,143.8L567.8,143.8Z" fill="none" stroke="#333" stroke-width="1.0" />
<path d="M566.8,146.5L565.8,149.7L562.4,149.7L565.1,151.7L564.1,154.9L566.8,152.9L569.5,154.9L568.5,151.7L571.2,149.7L567.8,149.7Z" fill="none" stroke="#333" stroke-width="1.0" />
<path d="M569.8,97.8L568.8,101.0L565.4,101.0L568.1,102.9L567.1,106.1L569.8,104.2L572.5,106.1L571.5,102.9L574.2,101.0L570.8,101.0Z" fill="none" stroke="#333" stroke-width="1.0" />
<path d="M569.8,108.0L568.8,111.2L565.4,111.2L568.1,113.2L567.1,116.4L569.8,114.4L572.5,116.4L571.5,113.2L574.2,111.2L570.8,111.2Z" fill="none" stroke="#333" stroke-width="1.0" />
<path d="M569.8,116.2L568.8,119.3L565.4,119.3L568.1,121.3L567.1,124.5L569.8,122.5L572.5,124.5L571.5,121.3L574.2,119.3L570.8,119.3Z" fill="none" stroke="#333" stroke-width="1.0" />
<path d="M569.8,119.3L568.8,122.5L565.4,122.5L568.1,124.4L567.1,127.6L569.8,125.7L572.5,127.6L571.5,124.4L574.2,122.5L570.8,122.5Z" fill="none" stroke="#333" stroke-width="1.0" />
<path d="M569.8,129.9L568.8,133.1L565.4,133.1L568.1,135.0L567.1,138.2L569.8,136.2L572.5,138.2L571.5,135.0L574.2,133.1L570.8,133.1Z" fill="none" stroke="#333" stroke-width="1.0" />
<path d="M569.8,137.9L568.8,141.1L565.4,141.1L568.1,143.0L567.1,146.2L569.8,144.3L572.5,146.2L571.5,143.0L574.2,141.1L570.8,141.1Z" fill="none" stroke="#333" stroke-width="1.0" />
<path d="M569.8,144.4L568.8,147.5L565.4,147.5L568.1,149.5L567.1,152.7L569.8,150.7L572.5,152.7L571.5,149.5L574.2,147.5L570.8,147.5Z" fill="none" stroke="#333" stroke-width="1.0" />
<path d="M572.8,98.2L571.8,101.3L568.4,101.3L571.1,103.3L570.1,106.5L572.8,104.5L575.5,106.5L574.5,103.3L577.2,101.3L573.8,101.3Z" fill="none" stroke="#333" stroke-width="1.0" />
<path d="M572.8,109.4L571.8,112.6L568.4,112.6L571.1,114.5L570.1,117.7L572.8,115.7L575.5,117.7L574.5,114.5L577.2,112.6L573.8,112.6Z" fill="none" stroke="#333" stroke-width="1.0" />
<path d="M572.8,117.4L571.8,120.6L568.4,120.6L571.1,122.5L570.1,125.7L572.8,123.7L575.5,125.7L574.5,122.5L577.2,120.6L573.8,120.6Z" fill="none" stroke="#333" stroke-width="1.0" />
<path d="M572.8,123.0L571.8,126.2L568.4,126.2L571.1,128.2L570.1,131.4L572.8,129.4L575.5,131.4L574.5,128.2L577.2,126.2L573.8,126.2Z" fill="none" stroke="#333" stroke-width="1.0" />
<path d="M575.7,99.6L574.7,102.7L571.3,102.7L574.0,104.7L573.0,107.9L575.7,105.9L578.4,107.9L577.4,104.7L580.1,102.7L576.7,102.7Z" fill="none" stroke="#333" stroke-width="1.0" />
<path d="M575.7,110.9L574.7,114.0L571.3,114.0L574.0,116.0L573.0,119.2L575.7,117.2L578.4,119.2L577.4,116.0L580.1,114.0L576.7,114.0Z" fill="none" stroke="#333" stroke-width="1.0" />
<path d="M575.7,120.4L574.7,123.6L571.3,123.6L574.0,125.6L573.0,128.8L575.7,126.8L578.4,128.8L577.4,125.6L580.1,123.6L576.7,123.6Z" fill="none" stroke="#333" stroke-width="1.0" />
<path d="M575.7,141.4L574.7,144.6L571.3,144.6L574.0,146.6L573.0,149.8L575.7,147.8L578.4,149.8L577.4,146.6L580.1,144.6L576.7,144.6Z" fill="none" stroke="#333" stroke-width="1.0" />
<path d="M578.7,105.6L577.7,108.8L574.3,108.8L577.0,110.7L576.0,113.9L578.7,111.9L581.4,113.9L580.4,110.7L583.1,108.8L579.7,108.8Z" fill="none" stroke="#333" stroke-width="1.0" />
<path d="M578.7,115.0L577.7,118.2L574.3,118.2L577.0,120.2L576.0,123.4L578.7,121.4L581.4,123.4L580.4,120.2L583.1,118.2L579.7,118.2Z" fill="none" stroke="#333" stroke-width="1.0" />
<path d="M578.7,123.9L577.7,127.1L574.3,127.1L577.0,129.1L576.0,132.2L578.7,130.3L581.4,132.2L580.4,129.1L583.1,127.1L579.7,127.1Z" fill="none" stroke="#333" stroke-width="1.0" />
<path d="M578.7,132.8L577.7,136.0L574.3,136.0L577.0,137.9L576.0,141.1L578.7,139.2L581.4,141.1L580.4,137.9L583.1,136.0L579.7,136.0Z" fill="none" stroke="#333" stroke-width="1.0" />
<path d="M578.7,140.5L577.7,143.7L574.3,143.7L577.0,145.7L576.0,148.9L578.7,146.9L581.4,148.9L580.4,145.7L583.1,143.7L579.7,143.7Z" fill="none" stroke="#333" stroke-width="1.0" />
<path d="M581.7,105.2L580.7,108.4L577.3,108.4L580.0,110.4L579.0,113.6L581.7,111.6L584.4,113.6L583.4,110.4L586.1,108.4L582.7,108.4Z" fill="none" stroke="#333" stroke-width="1.0" />
<path d="M581.7,114.5L580.7,117.6L577.3,117.6L580.0,119.6L579.0,122.8L581.7,120.8L584.4,122.8L583.4,119.6L586.1,117.6L582.7,117.6Z" fill="none" stroke="#333" stroke-width="1.0" />
<path d="M581.7,127.1L580.7,130.3L577.3,130.3L580.0,132.3L579.0,135.5L581.7,133.5L584.4,135.5L583.4,132.3L586.1,130.3L582.7,130.3Z" fill="none" stroke="#333" stroke-width="1.0" />
<path d="M581.7,136.7L580.7,139.9L577.3,139.9L580.0,141.8L579.0,145.0L581.7,143.0L584.4,145.0L583.4,141.8L586.1,139.9L582.7,139.9Z" fill="none" stroke="#333" stroke-width="1.0" />
<path d="M584.7,109.7L583.7,112.9L580.3,112.9L583.0,114.9L582.0,118.1L584.7,116.1L587.4,118.1L586.4,114.9L589.1,112.9L585.7,112.9Z" fill="none" stroke="#333" stroke-width="1.0" />
<path d="M584.7,116.6L583.7,119.8L580.3,119.8L583.0,121.7L582.0,124.9L584.7,122.9L587.4,124.9L586.4,121.7L589.1,119.8L585.7,119.8Z" fill="none" stroke="#333" stroke-width="1.0" />
<path d="M584.7,127.7L583.7,130.9L580.3,130.9L583.0,132.9L582.0,136.0L584.7,134.1L587.4,136.0L586.4,132.9L589.1,130.9L585.7,130.9Z" fill="none" stroke="#333" stroke-width="1.0" />
<path d="M584.7,142.8L583.7,146.0L580.3,146.0L583.0,147.9L582.0,151.1L584.7,149.2L587.4,151.1L586.4,147.9L589.1,146.0L585.7,146.0Z" fill="none" stroke="#333" stroke-width="1.0" />
<path d="M587.6,112.1L586.6,115.3L583.2,115.3L585.9,117.3L584.9,120.5L587.6,118.5L590.3,120.5L589.3,117.3L592.0,115.3L588.6,115.3Z" fill="none" stroke="#333" stroke-width="1.0" />
<path d="M587.6,124.8L586.6,128.0L583.2,128.0L585.9,129.9L584.9,133.1L587.6,131.2L590.3,133.1L589.3,129.9L592.0,128.0L588.6,128.0Z" fill="none" stroke="#333" stroke-width="1.0" />
<path d="M587.6,132.5L586.6,135.7L583.2,135.7L585.9,137.6L584.9,140.8L587.6,138.8L590.3,140.8L589.3,137.6L592.0,135.7L588.6,135.7Z" fill="none" stroke="#333" stroke-width="1.0" />
<path d="M638.1,35.6L637.1,38.8L633.7,38.8L636.4,40.7L635.4,43.9L638.1,42.0L640.8,43.9L639.8,40.7L642.5,38.8L639.1,38.8Z" fill="none" stroke="#f00" stroke-width="1.0" />
<path d="M617.8,79.4L616.8,82.6L613.4,82.6L616.1,84.5L615.1,87.7L617.8,85.8L620.5,87.7L619.5,84.5L622.2,82.6L618.8,82.6Z" fill="none" stroke="#f00" stroke-width="1.0" />
<path d="M605.8,83.8L604.8,87.0L601.4,87.0L604.1,88.9L603.1,92.1L605.8,90.2L608.5,92.1L607.5,88.9L610.2,87.0L606.8,87.0Z" fill="none" stroke="#f00" stroke-width="1.0" />
<path d="M597.5,94.6L596.5,97.8L593.1,97.8L595.8,99.7L594.8,102.9L597.5,101.0L600.2,102.9L599.2,99.7L601.9,97.8L598.5,97.8Z" fill="none" stroke="#f00" stroke-width="1.0" />
<path d="M587.5,109.4L586.5,112.6L583.1,112.6L585.8,114.5L584.8,117.7L587.5,115.8L590.2,117.7L589.2,114.5L591.9,112.6L588.5,112.6Z" fill="none" stroke="#f00" stroke-width="1.0" />
<path d="M587.5,107.1L586.5,110.3L583.1,110.3L585.8,112.2L584.8,115.4L587.5,113.5L590.2,115.4L589.2,112.2L591.9,110.3L588.5,110.3Z" fill="none" stroke="#f00" stroke-width="1.0" />
<path d="M606.3,84.2L605.3,87.4L601.9,87.4L604.6,89.3L603.6,92.5L606.3,90.6L609.0,92.5L608.0,89.3L610.7,87.4L607.3,87.4Z" fill="none" stroke="#f00" stroke-width="1.0" />
<path d="M596.9,94.7L595.9,97.9L592.5,97.9L595.2,99.8L594.2,103.0L596.9,101.1L599.6,103.0L598.6,99.8L601.3,97.9L597.9,97.9Z" fill="none" stroke="#f00" stroke-width="1.0" />
<path d="M616.8,79.5L615.8,82.7L612.4,82.7L615.1,84.6L614.1,87.8L616.8,85.9L619.5,87.8L618.5,84.6L621.2,82.7L617.8,82.7Z" fill="none" stroke="#f00" stroke-width="1.0" />
<path d="M557.9,108.3L556.9,111.5L553.5,111.5L556.2,113.5L555.2,116.7L557.9,114.7L560.6,116.7L559.6,113.5L562.3,111.5L558.9,111.5Z" fill="none" stroke="#f00" stroke-width="1.0" />
<path d="M557.9,112.4L556.9,115.6L553.5,115.6L556.2,117.6L555.2,120.7L557.9,118.8L560.6,120.7L559.6,117.6L562.3,115.6L558.9,115.6Z" fill="none" stroke="#f00" stroke-width="1.0" />
<path d="M557.9,116.4L556.9,119.6L553.5,119.6L556.2,121.5L555.2,124.7L557.9,122.8L560.6,124.7L559.6,121.5L562.3,119.6L558.9,119.6Z" fill="none" stroke="#f00" stroke-width="1.0" />
<path d="M557.9,121.5L556.9,124.7L553.5,124.7L556.2,126.7L555.2,129.9L557.9,127.9L560.6,129.9L559.6,126.7L562.3,124.7L558.9,124.7Z" fill="none" stroke="#f00" stroke-width="1.0" />
<path d="M557.9,124.4L556.9,127.6L553.5,127.6L556.2,129.5L555.2,132.7L557.9,130.7L560.6,132.7L559.6,129.5L562.3,127.6L558.9,127.6Z" fill="none" stroke="#f00" stroke-width="1.0" />
<path d="M557.9,128.7L556.9,131.9L553.5,131.9L556.2,133.8L555.2,137.0L557.9,135.0L560.6,137.0L559.6,133.8L562.3,131.9L558.9,131.9Z" fill="none" stroke="#f00" stroke-width="1.0" />
<path d="M557.9,131.0L556.9,134.2L553.5,134.2L556.2,136.2L555.2,139.4L557.9,137.4L560.6,139.4L559.6,136.2L562.3,134.2L558.9,134.2Z" fill="none" stroke="#f00" stroke-width="1.0" />
<path d="M557.9,135.8L556.9,138.9L553.5,138.9L556.2,140.9L555.2,144.1L557.9,142.1L560.6,144.1L559.6,140.9L562.3,138.9L558.9,138.9Z" fill="none" stroke="#f00" stroke-width="1.0" />
<path d="M557.9,140.3L556.9,143.5L553.5,143.5L556.2,145.4L555.2,148.6L557.9,146.6L560.6,148.6L559.6,145.4L562.3,143.5L558.9,143.5Z" fill="none" stroke="#f00" stroke-width="1.0" />
<path d="M560.9,107.5L559.9,110.6L556.5,110.6L559.2,112.6L558.2,115.8L560.9,113.8L563.6,115.8L562.6,112.6L565.3,110.6L561.9,110.6Z" fill="none" stroke="#f00" stroke-width="1.0" />
<path d="M560.9,112.5L559.9,115.6L556.5,115.6L559.2,117.6L558.2,120.8L560.9,118.8L563.6,120.8L562.6,117.6L565.3,115.6L561.9,115.6Z" fill="none" stroke="#f00" stroke-width="1.0" />
<path d="M560.9,116.3L559.9,119.5L556.5,119.5L559.2,121.5L558.2,124.6L560.9,122.7L563.6,124.6L562.6,121.5L565.3,119.5L561.9,119.5Z" fill="none" stroke="#f00" stroke-width="1.0" />
<path d="M560.9,119.1L559.9,122.3L556.5,122.3L559.2,124.2L558.2,127.4L560.9,125.4L563.6,127.4L562.6,124.2L565.3,122.3L561.9,122.3Z" fill="none" stroke="#f00" stroke-width="1.0" />
<path d="M560.9,122.2L559.9,125.4L556.5,125.4L559.2,127.3L558.2,130.5L560.9,128.6L563.6,130.5L562.6,127.3L565.3,125.4L561.9,125.4Z" fill="none" stroke="#f00" stroke-width="1.0" />
<path d="M560.9,128.0L559.9,131.2L556.5,131.2L559.2,133.2L558.2,136.3L560.9,134.4L563.6,136.3L562.6,133.2L565.3,131.2L561.9,131.2Z" fill="none" stroke="#f00" stroke-width="1.0" />
<path d="M560.9,130.5L559.9,133.7L556.5,133.7L559.2,135.6L558.2,138.8L560.9,136.9L563.6,138.8L562.6,135.6L565.3,133.7L561.9,133.7Z" fill="none" stroke="#f00" stroke-width="1.0" />
<path d="M560.9,134.2L559.9,137.4L556.5,137.4L559.2,139.4L558.2,142.5L560.9,140.6L563.6,142.5L562.6,139.4L565.3,137.4L561.9,137.4Z" fill="none" stroke="#f00" stroke-width="1.0" />
<path d="M560.9,140.0L559.9,143.1L556.5,143.1L559.2,145.1L558.2,148.3L560.9,146.3L563.6,148.3L562.6,145.1L565.3,143.1L561.9,143.1Z" fill="none" stroke="#f00" stroke-width="1.0" />
<path d="M563.9,108.4L562.9,111.6L559.5,111.6L562.2,113.5L561.2,116.7L563.9,114.8L566.6,116.7L565.6,113.5L568.3,111.6L564.9,111.6Z" fill="none" stroke="#f00" stroke-width="1.0" />
<path d="M563.9,112.6L562.9,115.8L559.5,115.8L562.2,117.8L561.2,121.0L563.9,119.0L566.6,121.0L565.6,117.8L568.3,115.8L564.9,115.8Z" fill="none" stroke="#f00" stroke-width="1.0" />
<path d="M563.9,117.2L562.9,120.4L559.5,120.4L562.2,122.3L561.2,125.5L563.9,123.5L566.6,125.5L565.6,122.3L568.3,120.4L564.9,120.4Z" fill="none" stroke="#f00" stroke-width="1.0" />
<path d="M563.9,119.5L562.9,122.7L559.5,122.7L562.2,124.7L561.2,127.8L563.9,125.9L566.6,127.8L565.6,124.7L568.3,122.7L564.9,122.7Z" fill="none" stroke="#f00" stroke-width="1.0" />
<path d="M563.9,123.5L562.9,126.6L559.5,126.6L562.2,128.6L561.2,131.8L563.9,129.8L566.6,131.8L565.6,128.6L568.3,126.6L564.9,126.6Z" fill="none" stroke="#f00" stroke-width="1.0" />
<path d="M563.9,127.8L562.9,131.0L559.5,131.0L562.2,133.0L561.2,136.1L563.9,134.2L566.6,136.1L565.6,133.0L568.3,131.0L564.9,131.0Z" fill="none" stroke="#f00" stroke-width="1.0" />
<path d="M563.9,134.2L562.9,137.4L559.5,137.4L562.2,139.4L561.2,142.6L563.9,140.6L566.6,142.6L565.6,139.4L568.3,137.4L564.9,137.4Z" fill="none" stroke="#f00" stroke-width="1.0" />
<path d="M563.9,136.3L562.9,139.5L559.5,139.5L562.2,141.4L561.2,144.6L563.9,142.6L566.6,144.6L565.6,141.4L568.3,139.5L564.9,139.5Z" fill="none" stroke="#f00" stroke-width="1.0" />
<path d="M566.8,108.7L565.8,111.8L562.4,111.8L565.1,113.8L564.1,117.0L566.8,115.0L569.5,117.0L568.5,113.8L571.2,111.8L567.8,111.8Z" fill="none" stroke="#f00" stroke-width="1.0" />
<path d="M566.8,112.6L565.8,115.8L562.4,115.8L565.1,117.7L564.1,120.9L566.8,119.0L569.5,120.9L568.5,117.7L571.2,115.8L567.8,115.8Z" fill="none" stroke="#f00" stroke-width="1.0" />
<path d="M566.8,117.0L565.8,120.1L562.4,120.1L565.1,122.1L564.1,125.3L566.8,123.3L569.5,125.3L568.5,122.1L571.2,120.1L567.8,120.1Z" fill="none" stroke="#f00" stroke-width="1.0" />
<path d="M566.8,121.2L565.8,124.4L562.4,124.4L565.1,126.4L564.1,129.5L566.8,127.6L569.5,129.5L568.5,126.4L571.2,124.4L567.8,124.4Z" fill="none" stroke="#f00" stroke-width="1.0" />
<path d="M566.8,126.3L565.8,129.5L562.4,129.5L565.1,131.5L564.1,134.6L566.8,132.7L569.5,134.6L568.5,131.5L571.2,129.5L567.8,129.5Z" fill="none" stroke="#f00" stroke-width="1.0" />
<path d="M566.8,130.1L565.8,133.3L562.4,133.3L565.1,135.2L564.1,138.4L566.8,136.5L569.5,138.4L568.5,135.2L571.2,133.3L567.8,133.3Z" fill="none" stroke="#f00" stroke-width="1.0" />
<path d="M566.8,134.8L565.8,137.9L562.4,137.9L565.1,139.9L564.1,143.1L566.8,141.1L569.5,143.1L568.5,139.9L571.2,137.9L567.8,137.9Z" fill="none" stroke="#f00" stroke-width="1.0" />
<path d="M569.8,111.2L568.8,114.4L565.4,114.4L568.1,116.3L567.1,119.5L569.8,117.5L572.5,119.5L571.5,116.3L574.2,114.4L570.8,114.4Z" fill="none" stroke="#f00" stroke-width="1.0" />
<path d="M569.8,113.9L568.8,117.1L565.4,117.1L568.1,119.0L567.1,122.2L569.8,120.3L572.5,122.2L571.5,119.0L574.2,117.1L570.8,117.1Z" fill="none" stroke="#f00" stroke-width="1.0" />
<path d="M569.8,120.8L568.8,124.0L565.4,124.0L568.1,126.0L567.1,129.2L569.8,127.2L572.5,129.2L571.5,126.0L574.2,124.0L570.8,124.0Z" fill="none" stroke="#f00" stroke-width="1.0" />
<path d="M569.8,125.6L568.8,128.8L565.4,128.8L568.1,130.8L567.1,133.9L569.8,132.0L572.5,133.9L571.5,130.8L574.2,128.8L570.8,128.8Z" fill="none" stroke="#f00" stroke-width="1.0" />
<path d="M569.8,130.1L568.8,133.3L565.4,133.3L568.1,135.2L567.1,138.4L569.8,136.5L572.5,138.4L571.5,135.2L574.2,133.3L570.8,133.3Z" fill="none" stroke="#f00" stroke-width="1.0" />
<path d="M569.8,135.1L568.8,138.3L565.4,138.3L568.1,140.3L567.1,143.4L569.8,141.5L572.5,143.4L571.5,140.3L574.2,138.3L570.8,138.3Z" fill="none" stroke="#f00" stroke-width="1.0" />
<path d="M572.8,112.8L571.8,116.0L568.4,116.0L571.1,118.0L570.1,121.2L572.8,119.2L575.5,121.2L574.5,118.0L577.2,116.0L573.8,116.0Z" fill="none" stroke="#f00" stroke-width="1.0" />
<path d="M572.8,117.5L571.8,120.7L568.4,120.7L571.1,122.6L570.1,125.8L572.8,123.8L575.5,125.8L574.5,122.6L577.2,120.7L573.8,120.7Z" fill="none" stroke="#f00" stroke-width="1.0" />
<path d="M572.8,121.6L571.8,124.7L568.4,124.7L571.1,126.7L570.1,129.9L572.8,127.9L575.5,129.9L574.5,126.7L577.2,124.7L573.8,124.7Z" fill="none" stroke="#f00" stroke-width="1.0" />
<path d="M572.8,127.1L571.8,130.2L568.4,130.2L571.1,132.2L570.1,135.4L572.8,133.4L575.5,135.4L574.5,132.2L577.2,130.2L573.8,130.2Z" fill="none" stroke="#f00" stroke-width="1.0" />
<path d="M572.8,132.0L571.8,135.2L568.4,135.2L571.1,137.1L570.1,140.3L572.8,138.4L575.5,140.3L574.5,137.1L577.2,135.2L573.8,135.2Z" fill="none" stroke="#f00" stroke-width="1.0" />
<path d="M575.7,112.0L574.7,115.2L571.3,115.2L574.0,117.2L573.0,120.4L575.7,118.4L578.4,120.4L577.4,117.2L580.1,115.2L576.7,115.2Z" fill="none" stroke="#f00" stroke-width="1.0" />
<path d="M575.7,120.2L574.7,123.3L571.3,123.3L574.0,125.3L573.0,128.5L575.7,126.5L578.4,128.5L577.4,125.3L580.1,123.3L576.7,123.3Z" fill="none" stroke="#f00" stroke-width="1.0" />
<path d="M575.7,124.1L574.7,127.3L571.3,127.3L574.0,129.3L573.0,132.5L575.7,130.5L578.4,132.5L577.4,129.3L580.1,127.3L576.7,127.3Z" fill="none" stroke="#f00" stroke-width="1.0" />
<path d="M575.7,128.9L574.7,132.0L571.3,132.0L574.0,134.0L573.0,137.2L575.7,135.2L578.4,137.2L577.4,134.0L580.1,132.0L576.7,132.0Z" fill="none" stroke="#f00" stroke-width="1.0" />
<path d="M578.7,115.0L577.7,118.1L574.3,118.1L577.0,120.1L576.0,123.3L578.7,121.3L581.4,123.3L580.4,120.1L583.1,118.1L579.7,118.1Z" fill="none" stroke="#f00" stroke-width="1.0" />
<path d="M578.7,123.8L577.7,127.0L574.3,127.0L577.0,128.9L576.0,132.1L578.7,130.1L581.4,132.1L580.4,128.9L583.1,127.0L579.7,127.0Z" fill="none" stroke="#f00" stroke-width="1.0" />
<path d="M578.7,129.5L577.7,132.7L574.3,132.7L577.0,134.6L576.0,137.8L578.7,135.9L581.4,137.8L580.4,134.6L583.1,132.7L579.7,132.7Z" fill="none" stroke="#f00" stroke-width="1.0" />
<path d="M581.7,115.5L580.7,118.7L577.3,118.7L580.0,120.7L579.0,123.9L581.7,121.9L584.4,123.9L583.4,120.7L586.1,118.7L582.7,118.7Z" fill="none" stroke="#f00" stroke-width="1.0" />
<path d="M581.7,119.8L580.7,122.9L577.3,122.9L580.0,124.9L579.0,128.1L581.7,126.1L584.4,128.1L583.4,124.9L586.1,122.9L582.7,122.9Z" fill="none" stroke="#f00" stroke-width="1.0" />
<path d="M581.7,126.3L580.7,129.5L577.3,129.5L580.0,131.5L579.0,134.6L581.7,132.7L584.4,134.6L583.4,131.5L586.1,129.5L582.7,129.5Z" fill="none" stroke="#f00" stroke-width="1.0" />
<path d="M584.7,118.2L583.7,121.4L580.3,121.4L583.0,123.3L582.0,126.5L584.7,124.5L587.4,126.5L586.4,123.3L589.1,121.4L585.7,121.4Z" fill="none" stroke="#f00" stroke-width="1.0" />
<path d="M584.7,123.2L583.7,126.4L580.3,126.4L583.0,128.4L582.0,131.6L584.7,129.6L587.4,131.6L586.4,128.4L589.1,126.4L585.7,126.4Z" fill="none" stroke="#f00" stroke-width="1.0" />
<path d="M587.6,112.8L586.6,116.0L583.2,116.0L585.9,118.0L584.9,121.2L587.6,119.2L590.3,121.2L589.3,118.0L592.0,116.0L588.6,116.0Z" fill="none" stroke="#f00" stroke-width="1.0" />
<path d="M587.6,122.3L586.6,125.5L583.2,125.5L585.9,127.4L584.9,130.6L587.6,128.6L590.3,130.6L589.3,127.4L592.0,125.5L588.6,125.5Z" fill="none" stroke="#f00" stroke-width="1.0" />
<path d="M616.8,115.3L615.8,118.5L612.4,118.5L615.1,120.4L614.1,123.6L616.8,121.7L619.5,123.6L618.5,120.4L621.2,118.5L617.8,118.5Z" fill="none" stroke="#333" stroke-width="1.0" />
<path d="M557.9,153.0L556.9,156.2L553.5,156.2L556.2,158.1L555.2,161.3L557.9,159.3L560.6,161.3L559.6,158.1L562.3,156.2L558.9,156.2Z" fill="none" stroke="#333" stroke-width="1.0" />
<path d="M560.9,129.9L559.9,133.1L556.5,133.1L559.2,135.0L558.2,138.2L560.9,136.2L563.6,138.2L562.6,135.0L565.3,133.1L561.9,133.1Z" fill="none" stroke="#333" stroke-width="1.0" />
<path d="M563.9,115.4L562.9,118.6L559.5,118.6L562.2,120.6L561.2,123.8L563.9,121.8L566.6,123.8L565.6,120.6L568.3,118.6L564.9,118.6Z" fill="none" stroke="#333" stroke-width="1.0" />
<path d="M566.8,96.1L565.8,99.3L562.4,99.3L565.1,101.2L564.1,104.4L566.8,102.5L569.5,104.4L568.5,101.2L571.2,99.3L567.8,99.3Z" fill="none" stroke="#333" stroke-width="1.0" />
<path d="M566.8,132.9L565.8,136.1L562.4,136.1L565.1,138.1L564.1,141.3L566.8,139.3L569.5,141.3L568.5,138.1L571.2,136.1L567.8,136.1Z" fill="none" stroke="#333" stroke-width="1.0" />
<path d="M572.8,133.6L571.8,136.8L568.4,136.8L571.1,138.7L570.1,141.9L572.8,140.0L575.5,141.9L574.5,138.7L577.2,136.8L573.8,136.8Z" fill="none" stroke="#333" stroke-width="1.0" />
<path d="M572.8,139.8L571.8,143.0L568.4,143.0L571.1,145.0L570.1,148.2L572.8,146.2L575.5,148.2L574.5,145.0L577.2,143.0L573.8,143.0Z" fill="none" stroke="#333" stroke-width="1.0" />
<path d="M575.7,130.4L574.7,133.6L571.3,133.6L574.0,135.5L573.0,138.7L575.7,136.8L578.4,138.7L577.4,135.5L580.1,133.6L576.7,133.6Z" fill="none" stroke="#333" stroke-width="1.0" />
<line x1="522.50" y1="167.92" x2="736.24" y2="-46.40" stroke="#000" stroke-width="2.3" stroke-dasharray="8.6 3.7"/>
</g>
<line x1="522.50" y1="18.50" x2="672.00" y2="18.50" stroke="#888" stroke-width="1.0" />
<line x1="522.50" y1="167.80" x2="672.00" y2="167.80" stroke="#888" stroke-width="1.0" />
<line x1="522.50" y1="18.50" x2="522.50" y2="167.80" stroke="#888" stroke-width="1.0" />
<line x1="672.00" y1="18.50" x2="672.00" y2="167.80" stroke="#888" stroke-width="1.0" />
<line x1="517.00" y1="162.20" x2="522.50" y2="162.20" stroke="#222" stroke-width="1.3" />
<text x="511.60" y="167.60" font-size="12.0" text-anchor="end" fill="#000" textLength="7.63" lengthAdjust="spacingAndGlyphs" >2</text>
<line x1="517.00" y1="132.40" x2="522.50" y2="132.40" stroke="#222" stroke-width="1.3" />
<text x="511.60" y="137.80" font-size="12.0" text-anchor="end" fill="#000" textLength="7.63" lengthAdjust="spacingAndGlyphs" >3</text>
<line x1="517.00" y1="102.60" x2="522.50" y2="102.60" stroke="#222" stroke-width="1.3" />
<text x="511.60" y="108.00" font-size="12.0" text-anchor="end" fill="#000" textLength="7.63" lengthAdjust="spacingAndGlyphs" >4</text>
<line x1="517.00" y1="72.80" x2="522.50" y2="72.80" stroke="#222" stroke-width="1.3" />
<text x="511.60" y="78.20" font-size="12.0" text-anchor="end" fill="#000" textLength="7.63" lengthAdjust="spacingAndGlyphs" >5</text>
<line x1="517.00" y1="43.00" x2="522.50" y2="43.00" stroke="#222" stroke-width="1.3" />
<text x="511.60" y="48.40" font-size="12.0" text-anchor="end" fill="#000" textLength="7.63" lengthAdjust="spacingAndGlyphs" >6</text>
<line x1="528.20" y1="167.80" x2="528.20" y2="173.30" stroke="#222" stroke-width="1.3" />
<text x="528.20" y="188.10" font-size="12.0" text-anchor="middle" fill="#000" textLength="7.63" lengthAdjust="spacingAndGlyphs" >2</text>
<line x1="587.64" y1="167.80" x2="587.64" y2="173.30" stroke="#222" stroke-width="1.3" />
<text x="587.64" y="188.10" font-size="12.0" text-anchor="middle" fill="#000" textLength="7.63" lengthAdjust="spacingAndGlyphs" >4</text>
<line x1="647.08" y1="167.80" x2="647.08" y2="173.30" stroke="#222" stroke-width="1.3" />
<text x="647.08" y="188.10" font-size="12.0" text-anchor="middle" fill="#000" textLength="7.63" lengthAdjust="spacingAndGlyphs" >6</text>
<text x="522.80" y="8.00" font-size="12.1" text-anchor="start" fill="#000" textLength="16.09" lengthAdjust="spacingAndGlyphs" >(c)</text>
<text x="597.25" y="205.10" font-size="10.8" text-anchor="middle" fill="#000" textLength="103.33" lengthAdjust="spacingAndGlyphs" >Catalog magnitude</text>
<text x="496.00" y="93.15" font-size="10.8" text-anchor="middle" fill="#000" textLength="113.43" lengthAdjust="spacingAndGlyphs" transform="rotate(-90 496.00 93.15)" >Real-time magnitude</text>
<rect x="527.75" y="23.45" width="47.50" height="14.50" fill="#fff" stroke="#333" stroke-width="1.5" rx="3" ry="3"/>
<text x="530.00" y="33.00" font-size="9.80" fill="#000" textLength="5.63" lengthAdjust="spacingAndGlyphs" xml:space="preserve">T</text>
<text x="535.63" y="34.80" font-size="6.86" font-style="italic" fill="#000" textLength="3.89" lengthAdjust="spacingAndGlyphs" xml:space="preserve">P</text>
<text x="539.52" y="33.00" font-size="9.80" fill="#000" textLength="33.03" lengthAdjust="spacingAndGlyphs" xml:space="preserve"> + 15 s</text>
<text x="637.65" y="150.00" font-size="8.60" font-style="italic" fill="#000" textLength="4.94" lengthAdjust="spacingAndGlyphs" xml:space="preserve">σ</text>
<text x="642.60" y="150.00" font-size="8.60" fill="#000" textLength="23.90" lengthAdjust="spacingAndGlyphs" xml:space="preserve">=0.52</text>
<text x="637.65" y="161.80" font-size="8.60" font-style="italic" fill="#f00" textLength="4.94" lengthAdjust="spacingAndGlyphs" xml:space="preserve">σ</text>
<text x="642.60" y="161.80" font-size="8.60" fill="#f00" textLength="23.90" lengthAdjust="spacingAndGlyphs" xml:space="preserve">=0.35</text>
<clipPath id="clipd"><rect x="50.5" y="257.5" width="634.5" height="148.89999999999998"/></clipPath>
<g clip-path="url(#clipd)">
<defs><path d="M0.0,-3.8L-0.9,-1.3L-3.6,-1.2L-1.5,0.5L-2.2,3.1L-0.0,1.6L2.2,3.1L1.5,0.5L3.6,-1.2L0.9,-1.3Z" id="S"/><circle id="C" r="2.5"/><path d="M0.00,-3.50L3.50,0.00L0.00,3.50L-3.50,0.00Z" id="D"/></defs>
<g fill="#30698e" fill-opacity="0.6"><use href="#S" x="412.0" y="324.6"/><use href="#S" x="436.8" y="315.4"/><use href="#S" x="337.7" y="309.4"/><use href="#S" x="278.8" y="320.9"/><use href="#S" x="362.4" y="312.4"/><use href="#S" x="514.9" y="316.7"/><use href="#S" x="291.4" y="315.0"/><use href="#S" x="475.7" y="305.2"/><use href="#S" x="275.2" y="311.8"/><use href="#S" x="380.4" y="322.2"/><use href="#S" x="623.6" y="330.5"/><use href="#S" x="623.2" y="326.4"/><use href="#S" x="368.1" y="341.6"/><use href="#S" x="324.3" y="345.0"/><use href="#S" x="610.2" y="324.8"/><use href="#S" x="385.3" y="325.8"/><use href="#S" x="301.5" y="304.4"/><use href="#S" x="547.3" y="317.6"/><use href="#S" x="373.0" y="306.5"/><use href="#S" x="407.1" y="311.6"/><use href="#S" x="420.8" y="322.6"/><use href="#S" x="611.9" y="336.0"/><use href="#S" x="524.3" y="311.9"/><use href="#S" x="455.6" y="314.9"/><use href="#S" x="399.7" y="329.3"/><use href="#S" x="360.9" y="327.8"/><use href="#S" x="364.8" y="308.2"/><use href="#S" x="397.3" y="323.6"/><use href="#S" x="242.4" y="333.4"/><use href="#S" x="283.6" y="315.8"/><use href="#S" x="310.1" y="331.6"/><use href="#S" x="470.7" y="325.8"/><use href="#S" x="327.0" y="322.7"/><use href="#S" x="279.4" y="329.5"/><use href="#S" x="300.7" y="314.0"/><use href="#S" x="274.4" y="341.6"/><use href="#S" x="317.3" y="320.8"/><use href="#S" x="458.7" y="310.7"/><use href="#S" x="462.6" y="337.4"/><use href="#S" x="641.3" y="322.4"/><use href="#S" x="405.4" y="309.7"/><use href="#S" x="371.2" y="311.2"/><use href="#S" x="256.1" y="341.0"/><use href="#S" x="565.5" y="313.2"/><use href="#S" x="393.2" y="318.6"/><use href="#S" x="564.2" y="314.7"/><use href="#S" x="273.1" y="299.9"/><use href="#S" x="459.1" y="313.5"/><use href="#S" x="303.9" y="311.5"/><use href="#S" x="275.0" y="327.1"/><use href="#S" x="505.7" y="338.1"/><use href="#S" x="233.6" y="299.1"/><use href="#S" x="430.5" y="337.1"/><use href="#S" x="446.0" y="339.6"/><use href="#S" x="244.4" y="321.7"/><use href="#S" x="607.4" y="339.3"/><use href="#S" x="622.0" y="326.0"/><use href="#S" x="368.5" y="329.7"/><use href="#S" x="371.7" y="301.5"/><use href="#S" x="257.7" y="347.6"/><use href="#S" x="467.1" y="340.4"/><use href="#S" x="377.4" y="326.6"/><use href="#S" x="514.4" y="313.2"/><use href="#S" x="415.2" y="297.6"/><use href="#S" x="327.6" y="301.1"/><use href="#S" x="403.5" y="320.8"/><use href="#S" x="590.6" y="322.1"/><use href="#S" x="395.5" y="343.3"/><use href="#S" x="450.2" y="305.5"/><use href="#S" x="329.1" y="322.4"/><use href="#S" x="431.4" y="322.3"/><use href="#S" x="376.9" y="327.4"/><use href="#S" x="515.7" y="341.1"/><use href="#S" x="233.1" y="341.1"/><use href="#S" x="246.9" y="313.4"/><use href="#S" x="551.3" y="339.1"/><use href="#S" x="275.6" y="299.0"/><use href="#S" x="268.3" y="308.7"/><use href="#S" x="409.2" y="323.8"/><use href="#S" x="471.1" y="324.2"/><use href="#S" x="492.0" y="327.7"/><use href="#S" x="587.4" y="311.7"/><use href="#S" x="392.9" y="330.3"/><use href="#S" x="584.1" y="325.8"/><use href="#S" x="453.9" y="307.9"/><use href="#S" x="584.9" y="333.5"/><use href="#S" x="399.2" y="334.5"/><use href="#S" x="459.4" y="320.9"/><use href="#S" x="291.2" y="326.1"/><use href="#S" x="392.4" y="321.3"/><use href="#S" x="311.0" y="312.8"/><use href="#S" x="357.1" y="346.7"/><use href="#S" x="250.5" y="317.2"/><use href="#S" x="278.5" y="317.0"/><use href="#S" x="214.5" y="309.1"/><use href="#S" x="234.8" y="324.2"/><use href="#S" x="467.6" y="338.9"/><use href="#S" x="436.4" y="327.3"/><use href="#S" x="415.3" y="311.2"/><use href="#S" x="432.8" y="346.4"/><use href="#S" x="209.4" y="346.6"/><use href="#S" x="401.3" y="315.3"/><use href="#S" x="388.1" y="314.4"/><use href="#S" x="390.6" y="291.1"/><use href="#S" x="350.2" y="328.0"/><use href="#S" x="288.1" y="325.1"/><use href="#S" x="453.8" y="333.7"/><use href="#S" x="376.5" y="323.0"/><use href="#S" x="562.8" y="328.2"/><use href="#S" x="401.3" y="323.9"/><use href="#S" x="603.3" y="297.5"/><use href="#S" x="274.7" y="312.8"/><use href="#S" x="271.8" y="337.1"/><use href="#S" x="321.6" y="309.6"/><use href="#S" x="467.4" y="334.4"/><use href="#S" x="405.7" y="324.4"/><use href="#S" x="289.2" y="324.1"/><use href="#S" x="411.2" y="296.4"/><use href="#S" x="310.8" y="322.8"/><use href="#S" x="341.1" y="320.1"/><use href="#S" x="242.1" y="327.7"/><use href="#S" x="459.0" y="331.8"/><use href="#S" x="364.7" y="342.4"/><use href="#S" x="297.7" y="302.8"/><use href="#S" x="350.4" y="319.3"/><use href="#S" x="348.4" y="332.4"/><use href="#S" x="479.7" y="324.9"/><use href="#S" x="438.2" y="335.0"/><use href="#S" x="230.2" y="326.3"/><use href="#S" x="297.0" y="325.5"/><use href="#S" x="383.4" y="335.4"/><use href="#S" x="236.9" y="323.5"/><use href="#S" x="455.8" y="309.0"/><use href="#S" x="549.1" y="324.4"/><use href="#S" x="320.6" y="324.3"/><use href="#S" x="414.5" y="316.1"/><use href="#S" x="645.0" y="315.5"/><use href="#S" x="514.5" y="326.9"/><use href="#S" x="336.6" y="298.1"/><use href="#S" x="430.4" y="308.2"/><use href="#S" x="367.4" y="334.2"/><use href="#S" x="483.9" y="302.8"/><use href="#S" x="301.9" y="314.5"/><use href="#S" x="346.1" y="317.6"/><use href="#S" x="251.9" y="328.7"/><use href="#S" x="447.7" y="322.9"/><use href="#S" x="212.5" y="340.3"/><use href="#S" x="484.5" y="310.1"/><use href="#S" x="473.5" y="329.8"/><use href="#S" x="444.4" y="294.4"/><use href="#S" x="325.1" y="320.9"/><use href="#S" x="239.3" y="321.4"/><use href="#S" x="272.9" y="302.4"/><use href="#S" x="424.5" y="308.6"/><use href="#S" x="499.9" y="342.2"/><use href="#S" x="451.1" y="336.2"/><use href="#S" x="445.0" y="321.9"/><use href="#S" x="307.8" y="337.8"/><use href="#S" x="158.6" y="314.7"/><use href="#S" x="162.3" y="315.5"/><use href="#S" x="170.7" y="322.7"/><use href="#S" x="175.2" y="308.6"/><use href="#S" x="178.7" y="331.6"/><use href="#S" x="189.3" y="300.1"/><use href="#S" x="192.8" y="302.4"/><use href="#S" x="202.8" y="303.0"/><use href="#S" x="214.5" y="304.8"/><use href="#S" x="227.9" y="303.0"/><use href="#S" x="230.8" y="296.6"/><use href="#S" x="244.8" y="293.7"/><use href="#S" x="184.7" y="325.2"/><use href="#S" x="211.0" y="318.2"/><use href="#S" x="234.3" y="306.5"/><use href="#S" x="239.0" y="306.5"/><use href="#S" x="236.1" y="313.5"/><use href="#S" x="248.9" y="301.9"/><use href="#S" x="253.0" y="302.4"/><use href="#S" x="251.2" y="310.6"/><use href="#S" x="203.4" y="327.0"/><use href="#S" x="239.0" y="321.1"/><use href="#S" x="247.7" y="329.3"/><use href="#S" x="255.9" y="326.4"/><use href="#S" x="295.1" y="283.4"/><use href="#S" x="311.1" y="292.8"/><use href="#S" x="289.0" y="295.7"/><use href="#S" x="286.0" y="302.1"/><use href="#S" x="300.0" y="298.0"/><use href="#S" x="305.9" y="301.5"/><use href="#S" x="307.6" y="302.7"/><use href="#S" x="279.6" y="305.6"/><use href="#S" x="273.8" y="309.1"/><use href="#S" x="320.5" y="307.4"/><use href="#S" x="330.4" y="305.6"/><use href="#S" x="262.7" y="307.4"/><use href="#S" x="266.2" y="310.9"/><use href="#S" x="270.8" y="320.2"/><use href="#S" x="279.0" y="319.0"/><use href="#S" x="281.4" y="321.4"/><use href="#S" x="265.0" y="324.9"/><use href="#S" x="275.5" y="327.8"/><use href="#S" x="291.9" y="324.3"/><use href="#S" x="308.2" y="314.4"/><use href="#S" x="316.4" y="319.0"/><use href="#S" x="321.1" y="312.0"/><use href="#S" x="332.2" y="310.9"/><use href="#S" x="326.9" y="321.4"/><use href="#S" x="335.1" y="308.5"/><use href="#S" x="374.8" y="292.8"/><use href="#S" x="377.7" y="288.7"/><use href="#S" x="387.1" y="286.9"/><use href="#S" x="383.0" y="295.1"/><use href="#S" x="387.1" y="294.5"/><use href="#S" x="384.7" y="298.0"/><use href="#S" x="357.3" y="305.0"/><use href="#S" x="360.2" y="302.7"/><use href="#S" x="367.8" y="301.5"/><use href="#S" x="387.1" y="303.9"/><use href="#S" x="392.3" y="303.9"/><use href="#S" x="402.2" y="305.0"/><use href="#S" x="407.5" y="307.4"/><use href="#S" x="385.9" y="309.7"/><use href="#S" x="347.3" y="309.1"/><use href="#S" x="352.6" y="315.0"/><use href="#S" x="377.1" y="313.2"/><use href="#S" x="398.1" y="316.7"/><use href="#S" x="340.3" y="321.4"/><use href="#S" x="401.6" y="323.1"/><use href="#S" x="407.5" y="323.7"/><use href="#S" x="415.1" y="321.4"/><use href="#S" x="340.3" y="327.2"/><use href="#S" x="347.3" y="326.1"/><use href="#S" x="359.0" y="324.9"/><use href="#S" x="364.9" y="322.0"/><use href="#S" x="439.0" y="292.8"/><use href="#S" x="429.1" y="301.0"/><use href="#S" x="422.1" y="309.1"/><use href="#S" x="468.2" y="305.6"/><use href="#S" x="470.0" y="308.5"/><use href="#S" x="471.1" y="311.5"/><use href="#S" x="492.7" y="320.2"/><use href="#S" x="434.4" y="314.4"/><use href="#S" x="439.6" y="312.6"/><use href="#S" x="425.0" y="315.0"/><use href="#S" x="432.0" y="319.0"/><use href="#S" x="441.4" y="322.6"/><use href="#S" x="454.2" y="327.2"/><use href="#S" x="518.4" y="303.3"/><use href="#S" x="536.5" y="300.1"/><use href="#S" x="505.0" y="309.7"/><use href="#S" x="559.9" y="310.3"/><use href="#S" x="506.2" y="319.0"/><use href="#S" x="508.5" y="322.6"/><use href="#S" x="530.1" y="317.9"/><use href="#S" x="543.0" y="317.3"/><use href="#S" x="547.1" y="319.0"/><use href="#S" x="557.0" y="317.3"/><use href="#S" x="561.1" y="321.4"/><use href="#S" x="554.1" y="322.6"/><use href="#S" x="542.4" y="327.2"/><use href="#S" x="568.1" y="320.2"/><use href="#S" x="570.4" y="324.9"/><use href="#S" x="524.9" y="321.4"/><use href="#S" x="585.2" y="300.2"/><use href="#S" x="593.5" y="311.8"/><use href="#S" x="620.0" y="318.6"/><use href="#S" x="584.6" y="320.6"/><use href="#S" x="644.4" y="322.6"/><use href="#S" x="167.7" y="346.4"/><use href="#S" x="166.0" y="354.5"/><use href="#S" x="176.5" y="363.9"/><use href="#S" x="192.0" y="334.7"/><use href="#S" x="202.5" y="344.6"/><use href="#S" x="178.6" y="363.9"/><use href="#S" x="227.1" y="337.6"/><use href="#S" x="228.8" y="340.5"/><use href="#S" x="229.4" y="350.4"/><use href="#S" x="217.7" y="359.8"/><use href="#S" x="211.9" y="366.8"/><use href="#S" x="220.0" y="370.9"/><use href="#S" x="230.6" y="373.2"/><use href="#S" x="229.4" y="377.9"/><use href="#S" x="236.4" y="382.0"/><use href="#S" x="242.2" y="366.8"/><use href="#S" x="273.2" y="338.2"/><use href="#S" x="286.0" y="337.6"/><use href="#S" x="294.2" y="341.7"/><use href="#S" x="283.7" y="344.6"/><use href="#S" x="273.2" y="349.3"/><use href="#S" x="298.3" y="347.5"/><use href="#S" x="308.8" y="354.5"/><use href="#S" x="314.6" y="350.4"/><use href="#S" x="334.5" y="349.9"/><use href="#S" x="312.9" y="340.5"/><use href="#S" x="283.1" y="363.3"/><use href="#S" x="298.9" y="366.8"/><use href="#S" x="304.7" y="367.4"/><use href="#S" x="336.2" y="362.1"/><use href="#S" x="262.7" y="372.0"/><use href="#S" x="262.7" y="376.7"/><use href="#S" x="273.2" y="373.2"/><use href="#S" x="281.9" y="385.5"/><use href="#S" x="258.6" y="389.0"/><use href="#S" x="336.2" y="386.6"/><use href="#S" x="356.7" y="344.6"/><use href="#S" x="367.2" y="337.0"/><use href="#S" x="350.8" y="367.4"/><use href="#S" x="373.0" y="373.8"/><use href="#S" x="359.6" y="375.0"/><use href="#S" x="375.4" y="383.7"/><use href="#S" x="403.4" y="341.7"/><use href="#S" x="390.0" y="347.5"/><use href="#S" x="395.2" y="354.0"/><use href="#S" x="384.1" y="360.4"/><use href="#S" x="399.9" y="361.0"/><use href="#S" x="408.1" y="354.0"/><use href="#S" x="415.1" y="349.9"/><use href="#S" x="406.9" y="376.1"/><use href="#S" x="425.6" y="343.4"/><use href="#S" x="419.2" y="353.9"/><use href="#S" x="419.2" y="358.6"/><use href="#S" x="442.5" y="347.5"/><use href="#S" x="441.9" y="350.4"/><use href="#S" x="447.2" y="346.4"/><use href="#S" x="443.7" y="354.5"/><use href="#S" x="477.0" y="345.2"/><use href="#S" x="486.9" y="342.8"/><use href="#S" x="492.7" y="341.7"/><use href="#S" x="481.1" y="351.0"/><use href="#S" x="479.9" y="354.5"/><use href="#S" x="493.3" y="352.2"/><use href="#S" x="447.8" y="362.7"/><use href="#S" x="444.3" y="362.1"/><use href="#S" x="448.4" y="367.4"/><use href="#S" x="443.1" y="380.8"/><use href="#S" x="476.4" y="376.1"/><use href="#S" x="486.3" y="380.8"/><use href="#S" x="419.8" y="383.7"/><use href="#S" x="510.8" y="345.2"/><use href="#S" x="501.5" y="348.1"/><use href="#S" x="524.3" y="351.6"/><use href="#S" x="528.9" y="344.6"/><use href="#S" x="530.1" y="348.1"/><use href="#S" x="530.1" y="358.0"/><use href="#S" x="542.4" y="341.7"/><use href="#S" x="558.7" y="342.8"/><use href="#S" x="558.1" y="349.3"/><use href="#S" x="573.9" y="338.8"/><use href="#S" x="565.7" y="356.9"/><use href="#S" x="548.2" y="361.5"/><use href="#S" x="502.1" y="359.8"/><use href="#S" x="539.5" y="366.8"/><use href="#S" x="513.8" y="374.4"/><use href="#S" x="521.9" y="379.0"/><use href="#S" x="527.8" y="378.5"/><use href="#S" x="556.4" y="385.5"/><use href="#S" x="526.0" y="386.6"/><use href="#S" x="587.8" y="342.5"/><use href="#S" x="599.0" y="337.9"/><use href="#S" x="577.3" y="347.1"/><use href="#S" x="578.6" y="374.7"/><use href="#S" x="612.8" y="349.7"/><use href="#S" x="618.7" y="353.7"/><use href="#S" x="610.8" y="376.0"/><use href="#S" x="647.6" y="342.5"/><use href="#S" x="651.5" y="341.8"/><use href="#S" x="645.6" y="353.7"/></g>
<g fill="#472f7d" fill-opacity="0.4"><use href="#C" x="429.7" y="350.0"/><use href="#C" x="564.7" y="325.9"/><use href="#C" x="422.1" y="326.4"/><use href="#C" x="630.9" y="336.0"/><use href="#C" x="309.3" y="331.5"/><use href="#C" x="450.6" y="337.2"/><use href="#C" x="359.3" y="312.7"/><use href="#C" x="435.7" y="322.3"/><use href="#C" x="556.8" y="334.1"/><use href="#C" x="578.8" y="302.1"/><use href="#C" x="331.7" y="340.1"/><use href="#C" x="497.4" y="322.2"/><use href="#C" x="521.1" y="326.1"/><use href="#C" x="636.2" y="321.6"/><use href="#C" x="276.6" y="316.4"/><use href="#C" x="453.2" y="315.1"/><use href="#C" x="237.1" y="319.2"/><use href="#C" x="346.2" y="310.0"/><use href="#C" x="376.6" y="301.2"/><use href="#C" x="417.2" y="319.1"/><use href="#C" x="350.1" y="335.8"/><use href="#C" x="434.0" y="327.7"/><use href="#C" x="418.2" y="344.6"/><use href="#C" x="290.9" y="308.8"/><use href="#C" x="514.1" y="324.3"/><use href="#C" x="309.1" y="342.1"/><use href="#C" x="286.8" y="319.3"/><use href="#C" x="232.6" y="331.1"/><use href="#C" x="292.6" y="324.7"/><use href="#C" x="608.2" y="326.6"/><use href="#C" x="287.5" y="304.5"/><use href="#C" x="450.1" y="330.0"/><use href="#C" x="350.1" y="317.8"/><use href="#C" x="559.8" y="317.3"/><use href="#C" x="338.1" y="304.2"/><use href="#C" x="281.5" y="308.9"/><use href="#C" x="338.0" y="307.1"/><use href="#C" x="547.7" y="344.2"/><use href="#C" x="336.2" y="326.3"/><use href="#C" x="269.2" y="325.1"/><use href="#C" x="615.1" y="310.0"/><use href="#C" x="433.2" y="321.5"/><use href="#C" x="280.9" y="311.5"/><use href="#C" x="544.0" y="330.6"/><use href="#C" x="300.9" y="345.0"/><use href="#C" x="357.3" y="313.8"/><use href="#C" x="249.3" y="327.5"/><use href="#C" x="474.4" y="319.8"/><use href="#C" x="272.0" y="313.1"/><use href="#C" x="320.5" y="330.8"/><use href="#C" x="376.7" y="327.4"/><use href="#C" x="349.4" y="322.7"/><use href="#C" x="271.9" y="317.0"/><use href="#C" x="372.7" y="315.6"/><use href="#C" x="423.5" y="299.2"/><use href="#C" x="507.4" y="322.8"/><use href="#C" x="253.9" y="343.3"/><use href="#C" x="536.3" y="308.7"/><use href="#C" x="472.2" y="311.8"/><use href="#C" x="136.9" y="330.8"/><use href="#C" x="163.4" y="323.1"/><use href="#C" x="175.0" y="319.0"/><use href="#C" x="172.6" y="331.1"/><use href="#C" x="193.4" y="298.0"/><use href="#C" x="207.7" y="302.1"/><use href="#C" x="212.5" y="309.5"/><use href="#C" x="218.9" y="309.8"/><use href="#C" x="224.1" y="304.8"/><use href="#C" x="185.3" y="315.3"/><use href="#C" x="193.4" y="321.1"/><use href="#C" x="212.1" y="322.3"/><use href="#C" x="222.6" y="316.5"/><use href="#C" x="249.5" y="305.6"/><use href="#C" x="231.4" y="326.4"/><use href="#C" x="237.2" y="327.0"/><use href="#C" x="308.5" y="279.6"/><use href="#C" x="270.6" y="298.6"/><use href="#C" x="284.6" y="296.6"/><use href="#C" x="316.4" y="303.9"/><use href="#C" x="289.5" y="311.5"/><use href="#C" x="292.5" y="315.0"/><use href="#C" x="297.7" y="314.4"/><use href="#C" x="302.1" y="312.0"/><use href="#C" x="334.5" y="305.6"/><use href="#C" x="323.4" y="316.7"/><use href="#C" x="331.6" y="323.7"/><use href="#C" x="382.4" y="327.8"/><use href="#C" x="472.3" y="297.4"/><use href="#C" x="496.8" y="310.9"/><use href="#C" x="496.2" y="324.9"/><use href="#C" x="475.2" y="324.9"/><use href="#C" x="429.1" y="316.7"/><use href="#C" x="444.9" y="327.2"/><use href="#C" x="420.9" y="327.2"/><use href="#C" x="498.6" y="310.9"/><use href="#C" x="529.5" y="310.3"/><use href="#C" x="529.5" y="326.1"/><use href="#C" x="544.7" y="323.7"/><use href="#C" x="558.7" y="326.1"/><use href="#C" x="563.4" y="327.2"/><use href="#C" x="624.0" y="316.0"/><use href="#C" x="657.5" y="318.0"/><use href="#C" x="591.8" y="316.6"/><use href="#C" x="603.6" y="324.5"/><use href="#C" x="654.9" y="327.8"/><use href="#C" x="231.7" y="338.2"/><use href="#C" x="249.2" y="347.5"/><use href="#C" x="294.2" y="351.0"/><use href="#C" x="356.7" y="337.6"/><use href="#C" x="427.9" y="337.6"/><use href="#C" x="464.1" y="347.5"/><use href="#C" x="472.9" y="345.2"/><use href="#C" x="481.6" y="334.1"/><use href="#C" x="458.3" y="358.6"/><use href="#C" x="477.0" y="400.7"/><use href="#C" x="531.9" y="345.2"/><use href="#C" x="533.0" y="388.4"/><use href="#C" x="614.8" y="342.5"/><use href="#C" x="601.6" y="347.7"/><use href="#C" x="586.5" y="357.6"/><use href="#C" x="593.7" y="371.0"/><use href="#C" x="631.8" y="347.1"/></g>
<g fill="#2a768e" fill-opacity="0.64"><use href="#S" x="580.1" y="331.8"/><use href="#S" x="274.6" y="306.9"/><use href="#S" x="207.5" y="318.5"/><use href="#S" x="375.2" y="321.1"/><use href="#S" x="401.8" y="330.7"/><use href="#S" x="248.9" y="314.0"/><use href="#S" x="630.7" y="308.0"/><use href="#S" x="300.1" y="328.7"/><use href="#S" x="617.3" y="291.5"/><use href="#S" x="390.4" y="318.9"/><use href="#S" x="209.7" y="308.1"/><use href="#S" x="485.7" y="334.5"/><use href="#S" x="433.0" y="321.9"/><use href="#S" x="235.4" y="328.8"/><use href="#S" x="294.6" y="313.2"/><use href="#S" x="371.6" y="310.9"/><use href="#S" x="450.7" y="332.4"/><use href="#S" x="316.6" y="296.4"/><use href="#S" x="378.0" y="309.3"/><use href="#S" x="614.7" y="332.2"/><use href="#S" x="492.7" y="307.1"/><use href="#S" x="532.3" y="323.9"/><use href="#S" x="417.9" y="342.9"/><use href="#S" x="352.8" y="332.6"/><use href="#S" x="329.2" y="293.5"/><use href="#S" x="447.8" y="295.8"/><use href="#S" x="408.8" y="327.1"/><use href="#S" x="580.3" y="326.0"/><use href="#S" x="555.6" y="326.7"/><use href="#S" x="457.3" y="340.0"/><use href="#S" x="273.8" y="314.4"/><use href="#S" x="649.7" y="310.3"/><use href="#S" x="451.8" y="311.4"/><use href="#S" x="495.2" y="303.2"/><use href="#S" x="413.4" y="344.2"/><use href="#S" x="597.1" y="315.4"/><use href="#S" x="449.7" y="328.3"/><use href="#S" x="207.8" y="337.1"/><use href="#S" x="377.7" y="337.6"/><use href="#S" x="426.9" y="317.8"/><use href="#S" x="506.9" y="315.0"/><use href="#S" x="362.5" y="328.4"/><use href="#S" x="205.2" y="324.0"/><use href="#S" x="367.3" y="331.1"/><use href="#S" x="338.2" y="325.5"/><use href="#S" x="246.6" y="323.2"/><use href="#S" x="247.7" y="318.2"/><use href="#S" x="385.9" y="327.5"/><use href="#S" x="434.2" y="319.3"/><use href="#S" x="512.8" y="311.7"/><use href="#S" x="382.9" y="318.5"/><use href="#S" x="236.4" y="319.8"/><use href="#S" x="598.1" y="343.9"/><use href="#S" x="476.7" y="320.8"/><use href="#S" x="516.9" y="319.4"/><use href="#S" x="397.0" y="311.7"/><use href="#S" x="429.6" y="312.0"/><use href="#S" x="378.2" y="313.0"/><use href="#S" x="384.0" y="330.3"/><use href="#S" x="540.6" y="316.6"/><use href="#S" x="491.3" y="326.1"/><use href="#S" x="467.7" y="308.8"/><use href="#S" x="309.8" y="327.6"/><use href="#S" x="256.2" y="339.9"/><use href="#S" x="416.5" y="312.0"/><use href="#S" x="293.1" y="318.5"/><use href="#S" x="258.1" y="330.4"/><use href="#S" x="374.7" y="319.8"/><use href="#S" x="553.3" y="299.3"/><use href="#S" x="570.7" y="332.8"/><use href="#S" x="416.3" y="326.4"/><use href="#S" x="325.5" y="304.5"/><use href="#S" x="286.3" y="338.1"/><use href="#S" x="314.9" y="302.8"/><use href="#S" x="208.6" y="314.0"/><use href="#S" x="506.2" y="325.4"/><use href="#S" x="327.7" y="320.9"/><use href="#S" x="486.7" y="332.0"/><use href="#S" x="293.4" y="325.2"/><use href="#S" x="251.9" y="347.1"/><use href="#S" x="366.7" y="327.4"/><use href="#S" x="476.1" y="316.4"/><use href="#S" x="225.0" y="307.7"/><use href="#S" x="285.2" y="311.6"/><use href="#S" x="470.6" y="301.9"/><use href="#S" x="215.7" y="302.3"/><use href="#S" x="410.8" y="304.5"/><use href="#S" x="372.2" y="319.9"/><use href="#S" x="365.8" y="317.9"/><use href="#S" x="418.2" y="316.2"/><use href="#S" x="427.4" y="324.0"/><use href="#S" x="302.6" y="318.6"/><use href="#S" x="265.2" y="299.1"/><use href="#S" x="613.2" y="328.7"/><use href="#S" x="257.9" y="322.0"/><use href="#S" x="261.4" y="330.4"/><use href="#S" x="346.4" y="330.4"/><use href="#S" x="255.6" y="308.4"/><use href="#S" x="581.7" y="305.3"/><use href="#S" x="597.6" y="299.1"/><use href="#S" x="351.8" y="321.0"/><use href="#S" x="432.9" y="334.3"/><use href="#S" x="299.8" y="329.0"/><use href="#S" x="261.3" y="321.6"/><use href="#S" x="298.4" y="346.2"/><use href="#S" x="257.8" y="310.6"/><use href="#S" x="406.2" y="316.6"/><use href="#S" x="462.3" y="323.2"/><use href="#S" x="343.6" y="338.5"/><use href="#S" x="288.9" y="349.0"/><use href="#S" x="509.0" y="323.5"/><use href="#S" x="209.6" y="309.8"/><use href="#S" x="281.8" y="304.2"/><use href="#S" x="360.6" y="308.4"/><use href="#S" x="367.6" y="330.8"/><use href="#S" x="398.5" y="313.1"/><use href="#S" x="442.6" y="320.0"/><use href="#S" x="511.3" y="330.5"/><use href="#S" x="265.9" y="320.1"/><use href="#S" x="209.8" y="313.5"/><use href="#S" x="243.6" y="308.9"/><use href="#S" x="253.0" y="315.9"/><use href="#S" x="293.0" y="305.0"/><use href="#S" x="301.8" y="298.6"/><use href="#S" x="312.9" y="308.5"/><use href="#S" x="287.8" y="316.7"/><use href="#S" x="304.7" y="324.3"/><use href="#S" x="319.9" y="321.4"/><use href="#S" x="328.1" y="312.0"/><use href="#S" x="335.1" y="316.7"/><use href="#S" x="332.7" y="319.0"/><use href="#S" x="370.7" y="306.2"/><use href="#S" x="377.7" y="322.6"/><use href="#S" x="513.2" y="318.5"/><use href="#S" x="521.4" y="324.9"/><use href="#S" x="612.2" y="323.9"/><use href="#S" x="185.0" y="345.8"/><use href="#S" x="186.2" y="348.1"/><use href="#S" x="238.1" y="338.8"/><use href="#S" x="234.1" y="379.6"/><use href="#S" x="254.5" y="374.4"/><use href="#S" x="293.0" y="361.5"/><use href="#S" x="318.7" y="339.3"/><use href="#S" x="321.1" y="337.0"/><use href="#S" x="328.1" y="339.3"/><use href="#S" x="329.8" y="361.0"/><use href="#S" x="357.3" y="352.2"/><use href="#S" x="353.2" y="370.3"/><use href="#S" x="387.1" y="338.2"/><use href="#S" x="387.6" y="352.8"/><use href="#S" x="396.4" y="350.4"/><use href="#S" x="398.7" y="352.2"/><use href="#S" x="390.6" y="359.8"/><use href="#S" x="440.8" y="338.8"/><use href="#S" x="444.9" y="335.8"/><use href="#S" x="482.8" y="338.2"/><use href="#S" x="485.7" y="350.4"/><use href="#S" x="501.5" y="335.3"/><use href="#S" x="499.8" y="337.0"/><use href="#S" x="569.2" y="351.6"/><use href="#S" x="572.7" y="349.9"/><use href="#S" x="577.4" y="375.0"/><use href="#S" x="557.6" y="380.2"/><use href="#S" x="593.1" y="336.6"/><use href="#S" x="593.7" y="343.1"/><use href="#S" x="607.5" y="366.8"/></g>
<g fill="#3e4c8a" fill-opacity="0.5"><use href="#S" x="266.9" y="326.6"/><use href="#S" x="277.7" y="308.1"/><use href="#S" x="347.7" y="323.4"/><use href="#S" x="545.2" y="324.5"/><use href="#S" x="443.3" y="302.2"/><use href="#S" x="308.5" y="341.8"/><use href="#S" x="442.9" y="291.2"/><use href="#S" x="249.9" y="314.4"/><use href="#S" x="363.6" y="308.3"/><use href="#S" x="353.1" y="314.2"/><use href="#S" x="401.2" y="315.1"/><use href="#S" x="439.6" y="324.2"/><use href="#S" x="405.0" y="316.8"/><use href="#S" x="380.9" y="349.9"/><use href="#S" x="275.1" y="321.8"/><use href="#S" x="256.7" y="325.6"/><use href="#S" x="430.7" y="322.4"/><use href="#S" x="228.8" y="342.1"/><use href="#S" x="467.6" y="337.8"/><use href="#S" x="448.4" y="321.6"/><use href="#S" x="510.2" y="316.7"/><use href="#S" x="250.7" y="309.7"/><use href="#S" x="240.1" y="315.6"/><use href="#S" x="355.4" y="330.7"/><use href="#S" x="351.6" y="308.6"/><use href="#S" x="442.9" y="301.1"/><use href="#S" x="396.0" y="301.5"/><use href="#S" x="631.8" y="304.1"/><use href="#S" x="317.4" y="312.8"/><use href="#S" x="296.4" y="326.0"/><use href="#S" x="425.2" y="316.8"/><use href="#S" x="591.0" y="322.2"/><use href="#S" x="500.9" y="303.6"/><use href="#S" x="571.2" y="318.5"/><use href="#S" x="464.3" y="316.9"/><use href="#S" x="255.0" y="318.9"/><use href="#S" x="369.5" y="290.4"/><use href="#S" x="381.2" y="315.5"/><use href="#S" x="410.4" y="312.0"/><use href="#S" x="412.7" y="315.5"/><use href="#S" x="384.7" y="321.4"/><use href="#S" x="391.1" y="322.0"/><use href="#S" x="387.1" y="326.1"/><use href="#S" x="170.1" y="359.8"/><use href="#S" x="151.4" y="362.1"/><use href="#S" x="208.4" y="343.4"/><use href="#S" x="238.1" y="337.0"/><use href="#S" x="213.0" y="375.0"/><use href="#S" x="201.4" y="381.4"/><use href="#S" x="218.9" y="387.8"/><use href="#S" x="255.7" y="388.4"/><use href="#S" x="252.2" y="352.2"/><use href="#S" x="265.0" y="350.4"/><use href="#S" x="262.7" y="359.2"/><use href="#S" x="308.2" y="368.5"/><use href="#S" x="331.6" y="371.5"/><use href="#S" x="294.2" y="386.1"/><use href="#S" x="349.1" y="339.3"/><use href="#S" x="339.2" y="341.1"/><use href="#S" x="342.1" y="349.3"/><use href="#S" x="338.0" y="367.4"/><use href="#S" x="363.1" y="371.5"/><use href="#S" x="377.7" y="370.3"/><use href="#S" x="347.9" y="376.7"/><use href="#S" x="354.9" y="376.7"/><use href="#S" x="367.8" y="381.4"/><use href="#S" x="371.9" y="379.0"/><use href="#S" x="383.0" y="388.4"/><use href="#S" x="388.8" y="389.6"/><use href="#S" x="413.9" y="338.2"/><use href="#S" x="416.8" y="397.7"/><use href="#S" x="463.0" y="353.9"/><use href="#S" x="459.5" y="358.0"/><use href="#S" x="436.1" y="378.5"/><use href="#S" x="484.0" y="386.1"/><use href="#S" x="421.5" y="384.9"/><use href="#S" x="419.2" y="397.2"/><use href="#S" x="550.0" y="337.0"/><use href="#S" x="564.6" y="338.2"/><use href="#S" x="535.4" y="378.5"/></g>
<g fill="#1f9a8a" fill-opacity="0.75"><use href="#S" x="395.7" y="302.8"/><use href="#S" x="263.4" y="314.9"/><use href="#S" x="373.0" y="313.2"/><use href="#S" x="345.0" y="325.7"/><use href="#S" x="376.5" y="326.8"/><use href="#S" x="476.0" y="340.4"/><use href="#S" x="256.9" y="300.1"/><use href="#S" x="483.2" y="338.5"/><use href="#S" x="435.0" y="323.1"/><use href="#S" x="523.5" y="309.9"/><use href="#S" x="499.4" y="345.6"/><use href="#S" x="466.3" y="328.7"/><use href="#S" x="366.9" y="318.7"/><use href="#S" x="322.0" y="326.8"/><use href="#S" x="323.4" y="318.2"/><use href="#S" x="429.9" y="313.5"/><use href="#S" x="300.6" y="320.0"/><use href="#S" x="272.1" y="333.8"/><use href="#S" x="498.3" y="326.6"/><use href="#S" x="385.5" y="327.3"/><use href="#S" x="362.0" y="310.6"/><use href="#S" x="253.7" y="346.6"/><use href="#S" x="235.1" y="325.7"/><use href="#S" x="306.3" y="326.4"/><use href="#S" x="211.6" y="315.2"/><use href="#S" x="327.5" y="331.3"/><use href="#S" x="358.5" y="331.4"/><use href="#S" x="526.8" y="322.6"/><use href="#S" x="427.5" y="319.5"/><use href="#S" x="359.1" y="331.3"/><use href="#S" x="537.9" y="311.1"/><use href="#S" x="481.8" y="341.0"/><use href="#S" x="614.1" y="329.5"/><use href="#S" x="243.8" y="338.3"/><use href="#S" x="358.2" y="291.0"/><use href="#S" x="343.6" y="327.5"/><use href="#S" x="363.3" y="305.2"/><use href="#S" x="214.3" y="323.1"/><use href="#S" x="246.7" y="329.2"/><use href="#S" x="427.3" y="323.5"/><use href="#S" x="265.0" y="313.4"/><use href="#S" x="632.6" y="312.4"/><use href="#S" x="306.5" y="308.5"/><use href="#S" x="632.6" y="318.0"/><use href="#S" x="292.5" y="330.2"/><use href="#S" x="398.2" y="329.3"/><use href="#S" x="512.8" y="297.8"/><use href="#S" x="327.8" y="312.9"/><use href="#S" x="436.8" y="326.1"/><use href="#S" x="230.1" y="322.6"/><use href="#S" x="278.3" y="320.6"/><use href="#S" x="276.0" y="312.9"/><use href="#S" x="491.2" y="329.9"/><use href="#S" x="358.9" y="323.8"/><use href="#S" x="322.8" y="330.0"/><use href="#S" x="356.3" y="312.6"/><use href="#S" x="378.4" y="320.1"/><use href="#S" x="648.8" y="341.4"/><use href="#S" x="279.5" y="311.6"/><use href="#S" x="270.1" y="324.9"/><use href="#S" x="384.4" y="322.8"/><use href="#S" x="465.1" y="334.5"/><use href="#S" x="404.0" y="292.3"/><use href="#S" x="649.9" y="336.2"/><use href="#S" x="353.1" y="320.0"/><use href="#S" x="450.8" y="318.8"/><use href="#S" x="181.8" y="321.1"/><use href="#S" x="227.3" y="315.9"/><use href="#S" x="311.7" y="309.7"/><use href="#S" x="261.5" y="319.1"/><use href="#S" x="366.6" y="303.3"/><use href="#S" x="395.2" y="306.8"/><use href="#S" x="341.5" y="314.4"/><use href="#S" x="361.4" y="312.0"/><use href="#S" x="363.7" y="314.4"/><use href="#S" x="389.4" y="315.5"/><use href="#S" x="388.2" y="317.9"/><use href="#S" x="349.7" y="321.4"/><use href="#S" x="356.7" y="320.2"/><use href="#S" x="367.2" y="327.2"/><use href="#S" x="353.2" y="328.4"/><use href="#S" x="403.4" y="331.9"/><use href="#S" x="441.4" y="298.0"/><use href="#S" x="434.9" y="305.0"/><use href="#S" x="474.6" y="303.3"/><use href="#S" x="481.1" y="307.4"/><use href="#S" x="484.0" y="311.5"/><use href="#S" x="488.1" y="315.0"/><use href="#S" x="489.2" y="319.0"/><use href="#S" x="481.6" y="321.4"/><use href="#S" x="486.9" y="322.0"/><use href="#S" x="465.9" y="323.7"/><use href="#S" x="467.0" y="327.8"/><use href="#S" x="449.0" y="315.0"/><use href="#S" x="446.0" y="317.9"/><use href="#S" x="450.7" y="326.1"/><use href="#S" x="426.2" y="329.6"/><use href="#S" x="432.0" y="329.0"/><use href="#S" x="517.9" y="313.2"/><use href="#S" x="544.7" y="315.5"/><use href="#S" x="572.7" y="312.0"/><use href="#S" x="527.2" y="322.6"/><use href="#S" x="538.3" y="324.9"/><use href="#S" x="515.5" y="328.4"/><use href="#S" x="589.2" y="307.4"/><use href="#S" x="613.5" y="318.0"/><use href="#S" x="579.3" y="319.9"/><use href="#S" x="597.7" y="330.4"/><use href="#S" x="167.2" y="363.9"/><use href="#S" x="234.1" y="355.1"/><use href="#S" x="227.6" y="367.4"/><use href="#S" x="208.4" y="380.2"/><use href="#S" x="188.5" y="390.1"/><use href="#S" x="243.4" y="384.3"/><use href="#S" x="246.3" y="386.1"/><use href="#S" x="253.3" y="359.2"/><use href="#S" x="275.5" y="334.7"/><use href="#S" x="269.1" y="351.6"/><use href="#S" x="278.4" y="349.3"/><use href="#S" x="260.9" y="355.1"/><use href="#S" x="295.4" y="355.1"/><use href="#S" x="291.9" y="359.2"/><use href="#S" x="303.0" y="351.6"/><use href="#S" x="307.6" y="349.3"/><use href="#S" x="323.4" y="341.1"/><use href="#S" x="330.4" y="337.0"/><use href="#S" x="277.3" y="367.4"/><use href="#S" x="311.7" y="369.1"/><use href="#S" x="351.4" y="336.4"/><use href="#S" x="345.0" y="346.9"/><use href="#S" x="362.5" y="346.4"/><use href="#S" x="370.7" y="349.3"/><use href="#S" x="359.0" y="354.5"/><use href="#S" x="350.8" y="358.0"/><use href="#S" x="367.8" y="373.8"/><use href="#S" x="357.3" y="380.2"/><use href="#S" x="340.3" y="384.9"/><use href="#S" x="374.8" y="390.1"/><use href="#S" x="382.4" y="335.8"/><use href="#S" x="391.1" y="341.1"/><use href="#S" x="401.1" y="337.0"/><use href="#S" x="408.1" y="337.0"/><use href="#S" x="413.3" y="382.0"/><use href="#S" x="425.0" y="351.0"/><use href="#S" x="422.1" y="365.0"/><use href="#S" x="436.7" y="346.4"/><use href="#S" x="436.7" y="351.0"/><use href="#S" x="453.0" y="337.0"/><use href="#S" x="466.5" y="344.6"/><use href="#S" x="488.7" y="334.7"/><use href="#S" x="445.4" y="371.5"/><use href="#S" x="442.0" y="373.2"/><use href="#S" x="465.9" y="376.1"/><use href="#S" x="494.5" y="367.4"/><use href="#S" x="512.0" y="342.8"/><use href="#S" x="499.8" y="346.4"/><use href="#S" x="519.0" y="346.9"/><use href="#S" x="520.2" y="344.0"/><use href="#S" x="515.5" y="356.9"/><use href="#S" x="539.5" y="335.8"/><use href="#S" x="540.6" y="338.2"/><use href="#S" x="537.7" y="350.4"/><use href="#S" x="548.8" y="342.8"/><use href="#S" x="559.3" y="347.5"/><use href="#S" x="564.6" y="348.1"/><use href="#S" x="534.2" y="367.4"/><use href="#S" x="544.1" y="374.4"/><use href="#S" x="540.0" y="383.7"/><use href="#S" x="550.6" y="380.2"/><use href="#S" x="579.9" y="337.2"/><use href="#S" x="581.9" y="341.2"/><use href="#S" x="602.9" y="346.4"/><use href="#S" x="586.5" y="348.4"/><use href="#S" x="585.2" y="352.3"/><use href="#S" x="583.9" y="364.2"/><use href="#S" x="591.8" y="362.8"/><use href="#S" x="605.6" y="356.3"/><use href="#S" x="604.9" y="362.8"/><use href="#S" x="609.5" y="370.1"/><use href="#S" x="616.7" y="383.2"/><use href="#S" x="614.1" y="390.4"/><use href="#S" x="631.2" y="340.5"/><use href="#S" x="652.2" y="355.6"/><use href="#S" x="637.1" y="364.8"/></g>
<g fill="#3e4c8a" fill-opacity="0.5"><use href="#C" x="471.8" y="296.3"/><use href="#C" x="336.6" y="344.4"/><use href="#C" x="340.0" y="326.7"/><use href="#C" x="296.1" y="330.0"/><use href="#C" x="479.7" y="317.5"/><use href="#C" x="557.1" y="304.6"/><use href="#C" x="452.5" y="316.8"/><use href="#C" x="307.9" y="333.9"/><use href="#C" x="269.0" y="342.6"/><use href="#C" x="505.0" y="319.4"/><use href="#C" x="213.0" y="312.9"/><use href="#C" x="372.4" y="323.5"/><use href="#C" x="296.6" y="328.9"/><use href="#C" x="255.8" y="327.3"/><use href="#C" x="340.0" y="319.6"/><use href="#C" x="277.3" y="332.8"/><use href="#C" x="361.2" y="296.4"/><use href="#C" x="287.1" y="318.9"/><use href="#C" x="597.1" y="335.3"/><use href="#C" x="396.6" y="302.9"/><use href="#C" x="270.4" y="314.3"/></g>
<g fill="#2a768e" fill-opacity="0.64"><use href="#C" x="635.6" y="311.1"/><use href="#C" x="247.6" y="310.6"/><use href="#C" x="440.8" y="344.7"/><use href="#C" x="431.9" y="319.2"/><use href="#C" x="297.7" y="321.2"/><use href="#C" x="466.5" y="311.8"/><use href="#C" x="636.6" y="298.7"/><use href="#C" x="425.3" y="322.8"/><use href="#C" x="386.3" y="321.2"/><use href="#C" x="411.7" y="310.6"/><use href="#C" x="427.7" y="302.8"/><use href="#C" x="453.6" y="318.5"/><use href="#C" x="649.6" y="325.2"/><use href="#C" x="522.5" y="341.1"/><use href="#C" x="524.3" y="341.7"/></g>
<g fill="#1f9a8a" fill-opacity="0.75"><use href="#C" x="238.2" y="300.1"/><use href="#C" x="232.0" y="312.4"/><use href="#C" x="257.7" y="314.7"/><use href="#C" x="231.4" y="329.3"/><use href="#C" x="264.4" y="295.1"/><use href="#C" x="309.4" y="323.1"/><use href="#C" x="410.4" y="320.2"/><use href="#C" x="394.6" y="327.8"/><use href="#C" x="472.0" y="316.7"/><use href="#C" x="420.3" y="317.9"/><use href="#C" x="422.7" y="323.7"/><use href="#C" x="429.7" y="323.7"/><use href="#C" x="516.1" y="300.4"/><use href="#C" x="569.8" y="307.4"/><use href="#C" x="576.8" y="313.8"/><use href="#C" x="533.6" y="326.1"/><use href="#C" x="499.2" y="326.1"/><use href="#C" x="504.4" y="327.2"/><use href="#C" x="606.9" y="300.9"/><use href="#C" x="612.2" y="314.0"/><use href="#C" x="631.2" y="315.7"/><use href="#C" x="578.7" y="314.0"/><use href="#C" x="629.2" y="323.2"/><use href="#C" x="654.2" y="329.8"/><use href="#C" x="244.0" y="341.1"/><use href="#C" x="255.7" y="344.0"/><use href="#C" x="260.3" y="338.8"/><use href="#C" x="261.5" y="342.8"/><use href="#C" x="259.8" y="344.6"/><use href="#C" x="270.3" y="340.5"/><use href="#C" x="278.4" y="336.4"/><use href="#C" x="282.5" y="337.0"/><use href="#C" x="303.5" y="339.3"/><use href="#C" x="351.4" y="350.4"/><use href="#C" x="367.8" y="362.1"/><use href="#C" x="384.1" y="350.4"/><use href="#C" x="418.6" y="346.4"/><use href="#C" x="471.7" y="341.1"/><use href="#C" x="478.7" y="337.0"/><use href="#C" x="495.7" y="346.9"/><use href="#C" x="435.5" y="375.0"/><use href="#C" x="465.3" y="365.0"/><use href="#C" x="472.3" y="386.1"/><use href="#C" x="492.2" y="386.1"/><use href="#C" x="513.2" y="353.9"/><use href="#C" x="565.7" y="367.4"/><use href="#C" x="572.7" y="364.5"/><use href="#C" x="604.2" y="342.5"/><use href="#C" x="607.5" y="342.5"/><use href="#C" x="614.8" y="339.9"/><use href="#C" x="625.9" y="347.7"/><use href="#C" x="629.2" y="345.8"/><use href="#C" x="635.8" y="345.8"/><use href="#C" x="653.5" y="333.3"/><use href="#C" x="654.2" y="335.9"/></g>
<g fill="#38b977" fill-opacity="0.85"><use href="#S" x="219.1" y="319.4"/><use href="#S" x="230.2" y="321.7"/><use href="#S" x="222.6" y="327.0"/><use href="#S" x="243.6" y="325.8"/><use href="#S" x="253.0" y="321.7"/><use href="#S" x="262.1" y="303.3"/><use href="#S" x="300.0" y="309.1"/><use href="#S" x="276.1" y="314.4"/><use href="#S" x="290.7" y="327.2"/><use href="#S" x="310.0" y="327.2"/><use href="#S" x="324.6" y="328.4"/><use href="#S" x="332.7" y="330.7"/><use href="#S" x="365.4" y="292.8"/><use href="#S" x="343.3" y="310.9"/><use href="#S" x="401.1" y="315.5"/><use href="#S" x="405.2" y="314.4"/><use href="#S" x="375.4" y="317.9"/><use href="#S" x="372.5" y="322.6"/><use href="#S" x="434.9" y="301.5"/><use href="#S" x="475.2" y="329.0"/><use href="#S" x="575.1" y="298.0"/><use href="#S" x="554.6" y="308.5"/><use href="#S" x="571.0" y="315.5"/><use href="#S" x="572.7" y="319.0"/><use href="#S" x="555.8" y="327.8"/><use href="#S" x="509.7" y="330.7"/><use href="#S" x="602.3" y="315.3"/><use href="#S" x="595.1" y="323.2"/><use href="#S" x="586.5" y="329.8"/><use href="#S" x="623.3" y="327.8"/><use href="#S" x="621.4" y="329.8"/><use href="#S" x="642.4" y="326.5"/><use href="#S" x="176.8" y="344.6"/><use href="#S" x="159.0" y="365.0"/><use href="#S" x="178.6" y="345.2"/><use href="#S" x="207.2" y="346.9"/><use href="#S" x="212.5" y="344.6"/><use href="#S" x="194.4" y="356.9"/><use href="#S" x="245.2" y="336.4"/><use href="#S" x="225.9" y="353.4"/><use href="#S" x="211.9" y="394.2"/><use href="#S" x="234.1" y="389.0"/><use href="#S" x="252.2" y="346.4"/><use href="#S" x="256.8" y="353.4"/><use href="#S" x="287.8" y="342.8"/><use href="#S" x="258.6" y="352.8"/><use href="#S" x="305.3" y="359.2"/><use href="#S" x="328.1" y="348.1"/><use href="#S" x="319.3" y="370.9"/><use href="#S" x="281.4" y="377.9"/><use href="#S" x="356.1" y="361.0"/><use href="#S" x="374.2" y="362.1"/><use href="#S" x="347.9" y="384.9"/><use href="#S" x="412.7" y="367.4"/><use href="#S" x="446.6" y="340.5"/><use href="#S" x="517.3" y="351.6"/><use href="#S" x="566.9" y="335.3"/></g>
<g fill="#472f7d" fill-opacity="0.4"><use href="#D" x="479.3" y="317.3"/><use href="#D" x="603.6" y="318.6"/><use href="#D" x="597.7" y="326.5"/><use href="#D" x="627.9" y="319.9"/><use href="#D" x="279.6" y="344.6"/><use href="#D" x="309.4" y="339.3"/><use href="#D" x="348.5" y="344.6"/><use href="#D" x="371.3" y="343.4"/><use href="#D" x="380.6" y="347.5"/><use href="#D" x="380.0" y="356.3"/><use href="#D" x="384.7" y="363.9"/><use href="#D" x="382.4" y="352.2"/><use href="#D" x="420.3" y="338.8"/><use href="#D" x="456.5" y="342.8"/><use href="#D" x="465.3" y="341.1"/><use href="#D" x="507.3" y="340.5"/><use href="#D" x="506.8" y="348.1"/><use href="#D" x="506.2" y="356.3"/><use href="#D" x="530.1" y="335.3"/><use href="#D" x="547.1" y="338.2"/><use href="#D" x="563.4" y="352.8"/><use href="#D" x="560.5" y="358.6"/><use href="#D" x="498.6" y="368.0"/><use href="#D" x="555.8" y="372.0"/><use href="#D" x="566.3" y="380.2"/><use href="#D" x="581.3" y="369.4"/><use href="#D" x="618.7" y="360.9"/><use href="#D" x="637.8" y="345.1"/><use href="#D" x="643.7" y="338.5"/><use href="#D" x="635.1" y="381.2"/></g>
<g fill="#3e4c8a" fill-opacity="0.5"><use href="#D" x="599.7" y="321.2"/><use href="#D" x="324.0" y="361.0"/><use href="#D" x="506.8" y="354.5"/></g>
<g fill="#70cf57" fill-opacity="0.9"><use href="#S" x="345.6" y="380.8"/><use href="#S" x="413.9" y="376.1"/><use href="#S" x="483.2" y="359.2"/><use href="#S" x="537.7" y="344.6"/><use href="#S" x="555.2" y="340.5"/><use href="#S" x="581.3" y="356.3"/><use href="#S" x="603.6" y="382.6"/><use href="#S" x="656.1" y="347.1"/><use href="#S" x="642.4" y="356.3"/></g>
<g fill="#efe51c" fill-opacity="1.0"><use href="#S" x="333.9" y="333.5"/><use href="#S" x="370.5" y="317.3"/><use href="#S" x="415.3" y="331.9"/><use href="#S" x="485.7" y="302.1"/><use href="#S" x="489.5" y="307.4"/><use href="#S" x="570.4" y="299.8"/><use href="#S" x="536.3" y="310.9"/><use href="#S" x="341.5" y="337.0"/><use href="#S" x="360.8" y="341.1"/><use href="#S" x="376.5" y="379.6"/><use href="#S" x="412.7" y="359.8"/><use href="#S" x="460.3" y="339.9"/><use href="#S" x="516.1" y="337.6"/><use href="#S" x="631.2" y="335.9"/></g>
<line x1="50.50" y1="332.00" x2="700.00" y2="332.00" stroke="#000" stroke-width="2.3" stroke-dasharray="8.5 3.7"/>
</g>
<line x1="50.50" y1="257.50" x2="687.00" y2="257.50" stroke="#888" stroke-width="1.0" />
<line x1="50.50" y1="406.40" x2="687.00" y2="406.40" stroke="#888" stroke-width="1.0" />
<line x1="50.50" y1="257.50" x2="50.50" y2="406.40" stroke="#888" stroke-width="1.0" />
<line x1="45.00" y1="268.70" x2="50.50" y2="268.70" stroke="#222" stroke-width="1.3" />
<text x="39.60" y="274.10" font-size="12.0" text-anchor="end" fill="#000" textLength="7.63" lengthAdjust="spacingAndGlyphs" >2</text>
<line x1="45.00" y1="300.35" x2="50.50" y2="300.35" stroke="#222" stroke-width="1.3" />
<text x="39.60" y="305.75" font-size="12.0" text-anchor="end" fill="#000" textLength="7.63" lengthAdjust="spacingAndGlyphs" >1</text>
<line x1="45.00" y1="332.00" x2="50.50" y2="332.00" stroke="#222" stroke-width="1.3" />
<text x="39.60" y="337.40" font-size="12.0" text-anchor="end" fill="#000" textLength="7.63" lengthAdjust="spacingAndGlyphs" >0</text>
<line x1="45.00" y1="363.65" x2="50.50" y2="363.65" stroke="#222" stroke-width="1.3" />
<text x="39.60" y="369.05" font-size="12.0" text-anchor="end" fill="#000" textLength="17.69" lengthAdjust="spacingAndGlyphs" >−1</text>
<line x1="45.00" y1="395.30" x2="50.50" y2="395.30" stroke="#222" stroke-width="1.3" />
<text x="39.60" y="400.70" font-size="12.0" text-anchor="end" fill="#000" textLength="17.69" lengthAdjust="spacingAndGlyphs" >−2</text>
<line x1="124.90" y1="406.40" x2="124.90" y2="411.90" stroke="#222" stroke-width="1.3" />
<text x="124.90" y="426.70" font-size="12.0" text-anchor="middle" fill="#000" textLength="15.27" lengthAdjust="spacingAndGlyphs" >50</text>
<line x1="201.13" y1="406.40" x2="201.13" y2="411.90" stroke="#222" stroke-width="1.3" />
<text x="201.13" y="426.70" font-size="12.0" text-anchor="middle" fill="#000" textLength="22.91" lengthAdjust="spacingAndGlyphs" >100</text>
<line x1="277.36" y1="406.40" x2="277.36" y2="411.90" stroke="#222" stroke-width="1.3" />
<text x="277.36" y="426.70" font-size="12.0" text-anchor="middle" fill="#000" textLength="22.91" lengthAdjust="spacingAndGlyphs" >150</text>
<line x1="353.59" y1="406.40" x2="353.59" y2="411.90" stroke="#222" stroke-width="1.3" />
<text x="353.59" y="426.70" font-size="12.0" text-anchor="middle" fill="#000" textLength="22.91" lengthAdjust="spacingAndGlyphs" >200</text>
<line x1="429.82" y1="406.40" x2="429.82" y2="411.90" stroke="#222" stroke-width="1.3" />
<text x="429.82" y="426.70" font-size="12.0" text-anchor="middle" fill="#000" textLength="22.91" lengthAdjust="spacingAndGlyphs" >250</text>
<line x1="506.05" y1="406.40" x2="506.05" y2="411.90" stroke="#222" stroke-width="1.3" />
<text x="506.05" y="426.70" font-size="12.0" text-anchor="middle" fill="#000" textLength="22.91" lengthAdjust="spacingAndGlyphs" >300</text>
<line x1="582.28" y1="406.40" x2="582.28" y2="411.90" stroke="#222" stroke-width="1.3" />
<text x="582.28" y="426.70" font-size="12.0" text-anchor="middle" fill="#000" textLength="22.91" lengthAdjust="spacingAndGlyphs" >350</text>
<line x1="658.51" y1="406.40" x2="658.51" y2="411.90" stroke="#222" stroke-width="1.3" />
<text x="658.51" y="426.70" font-size="12.0" text-anchor="middle" fill="#000" textLength="22.91" lengthAdjust="spacingAndGlyphs" >400</text>
<text x="50.80" y="247.00" font-size="12.1" text-anchor="start" fill="#000" textLength="17.12" lengthAdjust="spacingAndGlyphs" >(d)</text>
<rect x="60.15" y="261.95" width="25.00" height="16.60" fill="#fff" stroke="#333" stroke-width="1.5" rx="3" ry="3"/>
<text x="63.60" y="273.10" font-size="10.8" text-anchor="start" fill="#000" textLength="19.37" lengthAdjust="spacingAndGlyphs" >15s</text>
<g transform="rotate(-90 8.30 331.95)"><text x="-58.36" y="331.95" font-size="12.25" fill="#000" textLength="64.30" lengthAdjust="spacingAndGlyphs" xml:space="preserve">log10(PGV</text>
<text x="5.94" y="334.35" font-size="8.57" font-style="italic" fill="#000" textLength="19.69" lengthAdjust="spacingAndGlyphs" xml:space="preserve">pred</text>
<text x="25.63" y="331.95" font-size="12.25" fill="#000" textLength="29.39" lengthAdjust="spacingAndGlyphs" xml:space="preserve">/PGV</text>
<text x="55.02" y="334.35" font-size="8.57" font-style="italic" fill="#000" textLength="15.16" lengthAdjust="spacingAndGlyphs" xml:space="preserve">obs</text>
<text x="70.18" y="331.95" font-size="12.25" fill="#000" textLength="4.78" lengthAdjust="spacingAndGlyphs" xml:space="preserve">)</text></g>
<rect x="290.40" y="261.70" width="391.00" height="12.40" fill="#fff" stroke="#d0d0d0" stroke-width="1.0" rx="2" ry="2" fill-opacity="0.8"/>
<path d="M300.7,264.8L299.9,267.2L297.4,267.2L299.4,268.7L298.6,271.1L300.7,269.6L302.8,271.1L302.0,268.7L304.0,267.2L301.5,267.2Z" fill="#000" stroke="none" stroke-width="0" />
<text x="310.00" y="270.50" font-size="7.7" text-anchor="start" fill="#000" textLength="107.54" lengthAdjust="spacingAndGlyphs" >Chile(45, 742), (-0.15, 0.74)</text>
<circle cx="432.9" cy="268.10" r="3.6" fill="#000"/>
<text x="442.00" y="270.50" font-size="7.7" text-anchor="start" fill="#000" textLength="108.00" lengthAdjust="spacingAndGlyphs" >Greece(6, 317), (0.12, 0.53)</text>
<path d="M565.40,263.20L570.30,268.10L565.40,273.00L560.50,268.10Z" fill="#000" stroke="none" stroke-width="0" />
<text x="574.90" y="270.50" font-size="7.7" text-anchor="start" fill="#000" textLength="104.08" lengthAdjust="spacingAndGlyphs" >France(2, 88), (-0.10, 0.53)</text>
<clipPath id="clipe"><rect x="50.5" y="457.5" width="634.5" height="148.89999999999998"/></clipPath>
<g clip-path="url(#clipe)">
<g fill="#1f9a8a" fill-opacity="0.75"><use href="#S" x="427.1" y="522.0"/><use href="#S" x="283.1" y="507.8"/><use href="#S" x="436.2" y="524.1"/><use href="#S" x="421.1" y="514.5"/><use href="#S" x="331.1" y="498.0"/><use href="#S" x="429.3" y="518.8"/><use href="#S" x="261.6" y="513.5"/><use href="#S" x="398.1" y="515.9"/><use href="#S" x="353.4" y="514.9"/><use href="#S" x="579.2" y="496.3"/><use href="#S" x="353.4" y="507.0"/><use href="#S" x="398.7" y="537.1"/><use href="#S" x="355.9" y="519.9"/><use href="#S" x="324.9" y="519.7"/><use href="#S" x="278.6" y="516.5"/><use href="#S" x="316.6" y="517.2"/><use href="#S" x="244.1" y="521.5"/><use href="#S" x="305.0" y="506.8"/><use href="#S" x="274.0" y="507.8"/><use href="#S" x="402.2" y="511.6"/><use href="#S" x="338.7" y="502.2"/><use href="#S" x="339.4" y="496.3"/><use href="#S" x="494.1" y="510.7"/><use href="#S" x="312.9" y="503.6"/><use href="#S" x="323.2" y="503.2"/><use href="#S" x="466.2" y="496.4"/><use href="#S" x="420.5" y="519.7"/><use href="#S" x="437.8" y="510.9"/><use href="#S" x="371.7" y="516.9"/><use href="#S" x="427.7" y="513.6"/><use href="#S" x="346.7" y="524.7"/><use href="#S" x="326.4" y="520.8"/><use href="#S" x="380.2" y="535.6"/><use href="#S" x="522.7" y="518.6"/><use href="#S" x="358.9" y="499.6"/><use href="#S" x="291.2" y="519.5"/><use href="#S" x="391.3" y="496.0"/><use href="#S" x="353.0" y="533.9"/><use href="#S" x="383.8" y="521.5"/><use href="#S" x="269.3" y="532.3"/><use href="#S" x="479.4" y="509.5"/><use href="#S" x="554.2" y="499.8"/><use href="#S" x="358.8" y="495.7"/><use href="#S" x="302.4" y="500.4"/><use href="#S" x="295.4" y="519.0"/><use href="#S" x="246.8" y="515.1"/><use href="#S" x="369.5" y="514.9"/><use href="#S" x="291.8" y="522.6"/><use href="#S" x="306.1" y="494.6"/><use href="#S" x="314.6" y="492.5"/><use href="#S" x="646.6" y="495.9"/><use href="#S" x="273.2" y="515.7"/><use href="#S" x="561.4" y="506.1"/><use href="#S" x="298.3" y="517.4"/><use href="#S" x="318.3" y="523.0"/><use href="#S" x="467.6" y="529.8"/><use href="#S" x="434.9" y="521.3"/><use href="#S" x="431.7" y="526.7"/><use href="#S" x="527.1" y="512.7"/><use href="#S" x="352.3" y="511.4"/><use href="#S" x="401.0" y="506.8"/><use href="#S" x="335.1" y="504.9"/><use href="#S" x="383.2" y="536.8"/><use href="#S" x="306.9" y="512.6"/><use href="#S" x="437.4" y="529.2"/><use href="#S" x="416.0" y="497.8"/><use href="#S" x="414.3" y="535.6"/><use href="#S" x="179.4" y="524.4"/><use href="#S" x="182.1" y="524.3"/><use href="#S" x="231.1" y="498.6"/><use href="#S" x="231.1" y="510.9"/><use href="#S" x="228.2" y="516.1"/><use href="#S" x="243.4" y="517.3"/><use href="#S" x="307.0" y="500.0"/><use href="#S" x="262.1" y="508.2"/><use href="#S" x="300.0" y="506.5"/><use href="#S" x="290.7" y="513.5"/><use href="#S" x="311.1" y="505.3"/><use href="#S" x="324.6" y="514.1"/><use href="#S" x="311.1" y="520.5"/><use href="#S" x="260.3" y="519.9"/><use href="#S" x="266.2" y="521.1"/><use href="#S" x="269.7" y="518.7"/><use href="#S" x="281.4" y="516.4"/><use href="#S" x="284.9" y="517.6"/><use href="#S" x="290.1" y="514.6"/><use href="#S" x="282.5" y="525.7"/><use href="#S" x="259.8" y="526.9"/><use href="#S" x="263.3" y="528.6"/><use href="#S" x="270.8" y="530.4"/><use href="#S" x="366.0" y="497.7"/><use href="#S" x="405.2" y="505.3"/><use href="#S" x="410.4" y="511.1"/><use href="#S" x="415.7" y="515.2"/><use href="#S" x="358.4" y="514.6"/><use href="#S" x="366.0" y="509.4"/><use href="#S" x="369.0" y="514.1"/><use href="#S" x="387.1" y="506.5"/><use href="#S" x="389.4" y="509.4"/><use href="#S" x="339.2" y="504.7"/><use href="#S" x="345.0" y="510.5"/><use href="#S" x="342.7" y="516.4"/><use href="#S" x="350.8" y="518.7"/><use href="#S" x="352.0" y="525.7"/><use href="#S" x="361.4" y="519.9"/><use href="#S" x="363.7" y="524.0"/><use href="#S" x="375.4" y="525.7"/><use href="#S" x="395.2" y="528.1"/><use href="#S" x="401.1" y="525.7"/><use href="#S" x="404.6" y="524.6"/><use href="#S" x="413.9" y="521.1"/><use href="#S" x="416.2" y="516.4"/><use href="#S" x="441.4" y="488.4"/><use href="#S" x="434.4" y="498.9"/><use href="#S" x="446.0" y="510.5"/><use href="#S" x="448.9" y="509.4"/><use href="#S" x="453.0" y="514.1"/><use href="#S" x="440.2" y="514.1"/><use href="#S" x="432.0" y="518.1"/><use href="#S" x="436.7" y="519.9"/><use href="#S" x="444.3" y="525.7"/><use href="#S" x="450.1" y="519.9"/><use href="#S" x="454.2" y="522.2"/><use href="#S" x="453.0" y="525.7"/><use href="#S" x="481.1" y="497.7"/><use href="#S" x="465.9" y="512.9"/><use href="#S" x="483.4" y="514.1"/><use href="#S" x="488.1" y="507.6"/><use href="#S" x="481.6" y="518.7"/><use href="#S" x="488.7" y="528.1"/><use href="#S" x="559.3" y="498.3"/><use href="#S" x="517.3" y="508.8"/><use href="#S" x="545.3" y="508.8"/><use href="#S" x="573.9" y="510.5"/><use href="#S" x="543.0" y="516.4"/><use href="#S" x="499.2" y="517.6"/><use href="#S" x="541.8" y="522.2"/><use href="#S" x="589.1" y="499.2"/><use href="#S" x="598.3" y="522.8"/><use href="#S" x="581.3" y="526.1"/><use href="#S" x="612.8" y="505.7"/><use href="#S" x="623.0" y="520.8"/><use href="#S" x="632.5" y="529.4"/><use href="#S" x="167.2" y="562.7"/><use href="#S" x="227.6" y="553.4"/><use href="#S" x="234.1" y="555.7"/><use href="#S" x="208.1" y="573.8"/><use href="#S" x="188.5" y="586.6"/><use href="#S" x="211.6" y="593.1"/><use href="#S" x="243.4" y="579.0"/><use href="#S" x="246.3" y="583.7"/><use href="#S" x="260.3" y="535.3"/><use href="#S" x="262.7" y="544.0"/><use href="#S" x="302.4" y="545.2"/><use href="#S" x="307.6" y="544.0"/><use href="#S" x="279.0" y="552.2"/><use href="#S" x="293.0" y="558.0"/><use href="#S" x="291.3" y="561.0"/><use href="#S" x="305.3" y="552.8"/><use href="#S" x="277.3" y="565.6"/><use href="#S" x="311.7" y="570.3"/><use href="#S" x="281.9" y="576.7"/><use href="#S" x="326.9" y="539.9"/><use href="#S" x="351.4" y="535.3"/><use href="#S" x="362.5" y="540.5"/><use href="#S" x="370.7" y="541.1"/><use href="#S" x="351.4" y="546.4"/><use href="#S" x="345.0" y="549.9"/><use href="#S" x="359.6" y="553.4"/><use href="#S" x="387.1" y="542.3"/><use href="#S" x="390.0" y="545.2"/><use href="#S" x="411.0" y="547.5"/><use href="#S" x="374.2" y="555.7"/><use href="#S" x="367.8" y="570.9"/><use href="#S" x="349.7" y="578.5"/><use href="#S" x="340.3" y="580.2"/><use href="#S" x="357.3" y="582.6"/><use href="#S" x="374.2" y="583.1"/><use href="#S" x="426.2" y="537.6"/><use href="#S" x="425.0" y="546.9"/><use href="#S" x="436.1" y="538.8"/><use href="#S" x="436.7" y="542.3"/><use href="#S" x="446.0" y="541.1"/><use href="#S" x="442.5" y="559.8"/><use href="#S" x="443.1" y="563.3"/><use href="#S" x="475.2" y="534.7"/><use href="#S" x="465.9" y="569.1"/><use href="#S" x="476.4" y="571.5"/><use href="#S" x="486.3" y="576.7"/><use href="#S" x="494.5" y="564.5"/><use href="#S" x="499.8" y="535.3"/><use href="#S" x="519.0" y="541.1"/><use href="#S" x="521.4" y="541.7"/><use href="#S" x="538.3" y="538.2"/><use href="#S" x="538.9" y="539.9"/><use href="#S" x="548.8" y="543.4"/><use href="#S" x="564.6" y="546.9"/><use href="#S" x="575.7" y="549.3"/><use href="#S" x="514.4" y="563.3"/><use href="#S" x="534.2" y="558.0"/><use href="#S" x="526.0" y="576.7"/><use href="#S" x="539.5" y="575.0"/><use href="#S" x="551.1" y="567.4"/><use href="#S" x="652.2" y="551.0"/><use href="#S" x="605.6" y="547.1"/><use href="#S" x="604.9" y="551.0"/><use href="#S" x="591.8" y="553.0"/><use href="#S" x="607.5" y="563.5"/><use href="#S" x="610.8" y="565.5"/><use href="#S" x="616.7" y="574.0"/><use href="#S" x="614.1" y="582.6"/></g>
<g fill="#2a768e" fill-opacity="0.64"><use href="#S" x="497.6" y="498.3"/><use href="#S" x="398.3" y="506.1"/><use href="#S" x="516.2" y="534.8"/><use href="#S" x="450.7" y="514.6"/><use href="#S" x="303.4" y="502.6"/><use href="#S" x="629.0" y="530.9"/><use href="#S" x="498.6" y="534.7"/><use href="#S" x="356.9" y="507.7"/><use href="#S" x="258.4" y="531.7"/><use href="#S" x="430.5" y="500.9"/><use href="#S" x="578.6" y="518.1"/><use href="#S" x="520.9" y="514.1"/><use href="#S" x="307.7" y="530.8"/><use href="#S" x="278.5" y="544.3"/><use href="#S" x="403.0" y="540.0"/><use href="#S" x="375.5" y="510.2"/><use href="#S" x="642.5" y="528.3"/><use href="#S" x="356.2" y="499.2"/><use href="#S" x="253.9" y="530.1"/><use href="#S" x="294.1" y="513.3"/><use href="#S" x="255.8" y="531.0"/><use href="#S" x="379.9" y="517.4"/><use href="#S" x="569.5" y="519.8"/><use href="#S" x="414.9" y="522.9"/><use href="#S" x="251.9" y="511.8"/><use href="#S" x="231.5" y="517.1"/><use href="#S" x="320.9" y="528.1"/><use href="#S" x="573.4" y="512.1"/><use href="#S" x="294.5" y="513.6"/><use href="#S" x="227.5" y="505.2"/><use href="#S" x="470.8" y="503.7"/><use href="#S" x="506.3" y="505.3"/><use href="#S" x="390.4" y="508.1"/><use href="#S" x="357.3" y="507.1"/><use href="#S" x="355.7" y="515.5"/><use href="#S" x="405.1" y="496.8"/><use href="#S" x="508.8" y="514.5"/><use href="#S" x="247.8" y="541.7"/><use href="#S" x="445.7" y="510.0"/><use href="#S" x="575.7" y="529.7"/><use href="#S" x="317.2" y="499.0"/><use href="#S" x="232.9" y="505.1"/><use href="#S" x="305.2" y="525.4"/><use href="#S" x="248.5" y="501.7"/><use href="#S" x="330.8" y="508.6"/><use href="#S" x="575.8" y="527.1"/><use href="#S" x="380.4" y="512.5"/><use href="#S" x="260.8" y="523.7"/><use href="#S" x="514.1" y="493.6"/><use href="#S" x="384.6" y="506.6"/><use href="#S" x="315.9" y="537.0"/><use href="#S" x="336.5" y="517.1"/><use href="#S" x="289.9" y="495.7"/><use href="#S" x="354.7" y="506.5"/><use href="#S" x="383.6" y="504.4"/><use href="#S" x="404.7" y="533.2"/><use href="#S" x="393.0" y="505.9"/><use href="#S" x="518.9" y="489.2"/><use href="#S" x="348.3" y="489.5"/><use href="#S" x="310.6" y="523.5"/><use href="#S" x="645.1" y="493.1"/><use href="#S" x="292.1" y="509.2"/><use href="#S" x="284.4" y="544.5"/><use href="#S" x="327.5" y="511.4"/><use href="#S" x="228.9" y="513.1"/><use href="#S" x="245.8" y="504.9"/><use href="#S" x="307.4" y="527.1"/><use href="#S" x="336.3" y="528.2"/><use href="#S" x="395.9" y="499.7"/><use href="#S" x="264.8" y="504.2"/><use href="#S" x="612.6" y="514.4"/><use href="#S" x="377.9" y="505.6"/><use href="#S" x="255.7" y="512.7"/><use href="#S" x="274.0" y="497.6"/><use href="#S" x="264.8" y="527.2"/><use href="#S" x="296.3" y="501.3"/><use href="#S" x="256.5" y="526.6"/><use href="#S" x="500.1" y="503.3"/><use href="#S" x="563.2" y="506.3"/><use href="#S" x="315.6" y="525.9"/><use href="#S" x="304.6" y="537.3"/><use href="#S" x="282.0" y="496.8"/><use href="#S" x="422.2" y="495.9"/><use href="#S" x="361.5" y="488.3"/><use href="#S" x="303.3" y="502.5"/><use href="#S" x="439.6" y="535.0"/><use href="#S" x="283.6" y="510.5"/><use href="#S" x="405.9" y="530.7"/><use href="#S" x="576.5" y="526.5"/><use href="#S" x="473.4" y="522.5"/><use href="#S" x="255.7" y="528.8"/><use href="#S" x="282.1" y="529.8"/><use href="#S" x="412.8" y="520.4"/><use href="#S" x="335.2" y="508.2"/><use href="#S" x="507.2" y="494.5"/><use href="#S" x="417.5" y="535.5"/><use href="#S" x="308.3" y="517.6"/><use href="#S" x="290.2" y="496.4"/><use href="#S" x="459.7" y="524.6"/><use href="#S" x="256.6" y="528.5"/><use href="#S" x="372.2" y="498.7"/><use href="#S" x="527.7" y="514.9"/><use href="#S" x="265.6" y="520.1"/><use href="#S" x="268.0" y="505.0"/><use href="#S" x="235.9" y="508.4"/><use href="#S" x="458.3" y="509.6"/><use href="#S" x="471.4" y="530.6"/><use href="#S" x="326.8" y="512.3"/><use href="#S" x="592.6" y="522.5"/><use href="#S" x="382.0" y="489.2"/><use href="#S" x="321.1" y="492.7"/><use href="#S" x="288.4" y="529.4"/><use href="#S" x="623.6" y="512.7"/><use href="#S" x="356.9" y="498.2"/><use href="#S" x="462.8" y="516.0"/><use href="#S" x="450.2" y="498.3"/><use href="#S" x="282.7" y="532.4"/><use href="#S" x="316.2" y="510.8"/><use href="#S" x="426.0" y="522.3"/><use href="#S" x="409.2" y="504.2"/><use href="#S" x="310.5" y="497.1"/><use href="#S" x="564.2" y="527.3"/><use href="#S" x="392.9" y="509.7"/><use href="#S" x="456.8" y="510.0"/><use href="#S" x="437.5" y="505.0"/><use href="#S" x="306.6" y="521.5"/><use href="#S" x="393.7" y="517.6"/><use href="#S" x="370.8" y="519.6"/><use href="#S" x="470.7" y="492.5"/><use href="#S" x="347.6" y="510.3"/><use href="#S" x="276.1" y="534.8"/><use href="#S" x="252.7" y="507.4"/><use href="#S" x="289.5" y="495.9"/><use href="#S" x="279.6" y="503.5"/><use href="#S" x="284.3" y="501.2"/><use href="#S" x="286.6" y="504.7"/><use href="#S" x="321.1" y="505.9"/><use href="#S" x="323.4" y="509.4"/><use href="#S" x="333.9" y="509.4"/><use href="#S" x="318.7" y="523.4"/><use href="#S" x="335.1" y="514.1"/><use href="#S" x="348.5" y="522.2"/><use href="#S" x="478.1" y="523.4"/><use href="#S" x="506.8" y="512.3"/><use href="#S" x="521.4" y="514.1"/><use href="#S" x="510.8" y="518.7"/><use href="#S" x="585.2" y="510.3"/><use href="#S" x="585.9" y="513.6"/><use href="#S" x="648.9" y="528.1"/><use href="#S" x="184.4" y="544.6"/><use href="#S" x="186.2" y="547.5"/><use href="#S" x="213.6" y="568.5"/><use href="#S" x="230.6" y="569.7"/><use href="#S" x="234.1" y="572.0"/><use href="#S" x="253.9" y="565.6"/><use href="#S" x="269.7" y="547.5"/><use href="#S" x="272.0" y="548.7"/><use href="#S" x="304.1" y="538.2"/><use href="#S" x="294.2" y="553.4"/><use href="#S" x="262.7" y="572.0"/><use href="#S" x="319.9" y="540.5"/><use href="#S" x="321.6" y="542.8"/><use href="#S" x="330.4" y="558.0"/><use href="#S" x="396.4" y="541.7"/><use href="#S" x="399.9" y="542.8"/><use href="#S" x="435.5" y="577.9"/><use href="#S" x="557.6" y="535.3"/><use href="#S" x="573.9" y="535.3"/><use href="#S" x="556.4" y="563.3"/></g>
<g fill="#30698e" fill-opacity="0.6"><use href="#S" x="369.9" y="506.1"/><use href="#S" x="553.5" y="522.0"/><use href="#S" x="392.9" y="502.8"/><use href="#S" x="527.6" y="498.0"/><use href="#S" x="424.5" y="527.7"/><use href="#S" x="309.3" y="508.8"/><use href="#S" x="406.7" y="526.2"/><use href="#S" x="314.6" y="495.7"/><use href="#S" x="222.0" y="496.0"/><use href="#S" x="469.2" y="504.2"/><use href="#S" x="384.4" y="508.1"/><use href="#S" x="250.7" y="517.9"/><use href="#S" x="221.9" y="505.5"/><use href="#S" x="338.7" y="536.7"/><use href="#S" x="221.2" y="501.1"/><use href="#S" x="400.9" y="518.4"/><use href="#S" x="327.3" y="506.2"/><use href="#S" x="399.9" y="518.2"/><use href="#S" x="411.0" y="525.7"/><use href="#S" x="570.2" y="507.3"/><use href="#S" x="503.2" y="515.1"/><use href="#S" x="278.0" y="505.4"/><use href="#S" x="498.3" y="496.4"/><use href="#S" x="302.6" y="514.4"/><use href="#S" x="419.4" y="513.5"/><use href="#S" x="396.6" y="498.0"/><use href="#S" x="550.9" y="508.6"/><use href="#S" x="290.7" y="527.2"/><use href="#S" x="338.0" y="513.0"/><use href="#S" x="459.5" y="523.3"/><use href="#S" x="260.9" y="514.6"/><use href="#S" x="272.2" y="533.1"/><use href="#S" x="351.4" y="517.5"/><use href="#S" x="262.2" y="501.7"/><use href="#S" x="400.8" y="509.3"/><use href="#S" x="358.3" y="507.8"/><use href="#S" x="445.9" y="501.6"/><use href="#S" x="410.4" y="513.2"/><use href="#S" x="538.8" y="518.3"/><use href="#S" x="437.7" y="518.2"/><use href="#S" x="500.4" y="510.9"/><use href="#S" x="235.2" y="533.4"/><use href="#S" x="504.5" y="515.5"/><use href="#S" x="322.5" y="513.8"/><use href="#S" x="243.6" y="511.3"/><use href="#S" x="355.0" y="519.0"/><use href="#S" x="261.7" y="526.0"/><use href="#S" x="272.6" y="536.2"/><use href="#S" x="573.8" y="512.9"/><use href="#S" x="626.1" y="504.4"/><use href="#S" x="277.5" y="500.2"/><use href="#S" x="302.8" y="507.8"/><use href="#S" x="291.3" y="499.1"/><use href="#S" x="319.4" y="532.7"/><use href="#S" x="454.4" y="524.2"/><use href="#S" x="433.7" y="504.2"/><use href="#S" x="248.1" y="511.2"/><use href="#S" x="565.3" y="507.6"/><use href="#S" x="577.4" y="532.6"/><use href="#S" x="249.8" y="506.9"/><use href="#S" x="359.4" y="525.5"/><use href="#S" x="642.0" y="537.4"/><use href="#S" x="307.9" y="521.7"/><use href="#S" x="302.6" y="523.3"/><use href="#S" x="344.6" y="494.1"/><use href="#S" x="568.8" y="511.6"/><use href="#S" x="429.8" y="510.1"/><use href="#S" x="420.8" y="540.9"/><use href="#S" x="307.2" y="509.5"/><use href="#S" x="367.7" y="506.1"/><use href="#S" x="418.0" y="517.1"/><use href="#S" x="289.6" y="544.3"/><use href="#S" x="293.0" y="515.3"/><use href="#S" x="374.5" y="500.3"/><use href="#S" x="429.1" y="499.6"/><use href="#S" x="424.6" y="512.2"/><use href="#S" x="355.7" y="491.1"/><use href="#S" x="274.9" y="492.1"/><use href="#S" x="379.9" y="521.2"/><use href="#S" x="225.6" y="515.6"/><use href="#S" x="413.0" y="500.8"/><use href="#S" x="520.7" y="528.0"/><use href="#S" x="371.4" y="530.6"/><use href="#S" x="423.3" y="525.0"/><use href="#S" x="272.9" y="504.5"/><use href="#S" x="337.3" y="508.8"/><use href="#S" x="367.6" y="525.5"/><use href="#S" x="395.6" y="508.8"/><use href="#S" x="420.1" y="494.1"/><use href="#S" x="262.2" y="506.4"/><use href="#S" x="373.1" y="507.6"/><use href="#S" x="477.4" y="506.8"/><use href="#S" x="319.9" y="501.1"/><use href="#S" x="601.2" y="531.9"/><use href="#S" x="303.6" y="514.4"/><use href="#S" x="315.3" y="522.1"/><use href="#S" x="257.7" y="501.4"/><use href="#S" x="587.7" y="509.9"/><use href="#S" x="498.8" y="495.9"/><use href="#S" x="568.2" y="517.5"/><use href="#S" x="558.4" y="525.1"/><use href="#S" x="388.1" y="513.3"/><use href="#S" x="353.6" y="526.8"/><use href="#S" x="310.5" y="516.3"/><use href="#S" x="645.5" y="505.9"/><use href="#S" x="443.6" y="505.9"/><use href="#S" x="351.0" y="518.7"/><use href="#S" x="256.6" y="510.0"/><use href="#S" x="373.4" y="534.2"/><use href="#S" x="533.9" y="515.0"/><use href="#S" x="357.0" y="510.3"/><use href="#S" x="372.3" y="522.8"/><use href="#S" x="530.6" y="509.8"/><use href="#S" x="239.8" y="498.5"/><use href="#S" x="494.1" y="506.3"/><use href="#S" x="644.4" y="524.2"/><use href="#S" x="575.4" y="534.7"/><use href="#S" x="236.1" y="509.9"/><use href="#S" x="473.6" y="514.2"/><use href="#S" x="622.7" y="502.6"/><use href="#S" x="320.9" y="500.4"/><use href="#S" x="292.0" y="517.9"/><use href="#S" x="281.3" y="495.2"/><use href="#S" x="340.0" y="533.3"/><use href="#S" x="288.8" y="533.2"/><use href="#S" x="301.0" y="498.4"/><use href="#S" x="322.6" y="503.5"/><use href="#S" x="425.9" y="500.2"/><use href="#S" x="258.7" y="516.4"/><use href="#S" x="369.7" y="509.2"/><use href="#S" x="397.6" y="507.9"/><use href="#S" x="274.9" y="501.0"/><use href="#S" x="345.5" y="535.3"/><use href="#S" x="416.1" y="509.9"/><use href="#S" x="336.7" y="518.8"/><use href="#S" x="435.7" y="514.4"/><use href="#S" x="550.8" y="506.0"/><use href="#S" x="394.3" y="515.4"/><use href="#S" x="524.6" y="501.4"/><use href="#S" x="491.6" y="506.7"/><use href="#S" x="342.5" y="523.0"/><use href="#S" x="424.2" y="543.7"/><use href="#S" x="330.0" y="522.0"/><use href="#S" x="162.2" y="518.5"/><use href="#S" x="158.7" y="526.7"/><use href="#S" x="175.3" y="515.0"/><use href="#S" x="170.7" y="532.0"/><use href="#S" x="178.8" y="542.5"/><use href="#S" x="189.7" y="503.9"/><use href="#S" x="192.6" y="510.6"/><use href="#S" x="202.5" y="501.5"/><use href="#S" x="209.5" y="506.2"/><use href="#S" x="214.2" y="505.0"/><use href="#S" x="227.6" y="508.0"/><use href="#S" x="210.7" y="521.4"/><use href="#S" x="203.1" y="527.8"/><use href="#S" x="244.6" y="494.5"/><use href="#S" x="234.1" y="504.5"/><use href="#S" x="238.7" y="503.3"/><use href="#S" x="245.2" y="501.5"/><use href="#S" x="248.1" y="505.0"/><use href="#S" x="242.2" y="512.0"/><use href="#S" x="236.4" y="517.3"/><use href="#S" x="249.8" y="516.7"/><use href="#S" x="253.9" y="516.7"/><use href="#S" x="294.8" y="488.9"/><use href="#S" x="301.2" y="488.4"/><use href="#S" x="299.5" y="493.0"/><use href="#S" x="311.1" y="490.1"/><use href="#S" x="289.0" y="493.0"/><use href="#S" x="304.1" y="495.9"/><use href="#S" x="265.0" y="504.7"/><use href="#S" x="273.8" y="505.9"/><use href="#S" x="314.1" y="503.0"/><use href="#S" x="330.4" y="500.6"/><use href="#S" x="316.4" y="515.2"/><use href="#S" x="332.7" y="521.1"/><use href="#S" x="291.9" y="526.9"/><use href="#S" x="303.0" y="526.3"/><use href="#S" x="279.0" y="528.6"/><use href="#S" x="374.2" y="485.4"/><use href="#S" x="377.7" y="486.6"/><use href="#S" x="383.0" y="489.5"/><use href="#S" x="387.1" y="486.6"/><use href="#S" x="385.9" y="490.1"/><use href="#S" x="392.3" y="494.8"/><use href="#S" x="347.9" y="503.0"/><use href="#S" x="402.2" y="499.5"/><use href="#S" x="385.9" y="503.0"/><use href="#S" x="361.4" y="508.8"/><use href="#S" x="372.5" y="511.1"/><use href="#S" x="394.1" y="517.6"/><use href="#S" x="341.5" y="509.4"/><use href="#S" x="346.2" y="518.7"/><use href="#S" x="356.7" y="521.1"/><use href="#S" x="369.0" y="521.6"/><use href="#S" x="385.9" y="518.7"/><use href="#S" x="391.7" y="526.9"/><use href="#S" x="410.4" y="523.4"/><use href="#S" x="403.4" y="528.6"/><use href="#S" x="412.7" y="528.6"/><use href="#S" x="439.0" y="484.9"/><use href="#S" x="429.1" y="499.5"/><use href="#S" x="422.1" y="508.2"/><use href="#S" x="468.2" y="498.3"/><use href="#S" x="474.6" y="499.5"/><use href="#S" x="471.1" y="501.8"/><use href="#S" x="485.2" y="499.5"/><use href="#S" x="505.0" y="498.9"/><use href="#S" x="537.1" y="498.3"/><use href="#S" x="543.0" y="502.4"/><use href="#S" x="545.3" y="504.1"/><use href="#S" x="530.5" y="504.1"/><use href="#S" x="521.9" y="507.6"/><use href="#S" x="527.2" y="508.8"/><use href="#S" x="568.1" y="508.8"/><use href="#S" x="533.0" y="512.3"/><use href="#S" x="547.1" y="515.2"/><use href="#S" x="561.1" y="515.2"/><use href="#S" x="514.4" y="516.4"/><use href="#S" x="502.7" y="519.9"/><use href="#S" x="533.0" y="517.6"/><use href="#S" x="555.2" y="519.9"/><use href="#S" x="558.7" y="522.2"/><use href="#S" x="526.0" y="524.0"/><use href="#S" x="567.5" y="524.6"/><use href="#S" x="593.1" y="507.0"/><use href="#S" x="578.6" y="514.3"/><use href="#S" x="592.4" y="515.6"/><use href="#S" x="589.1" y="522.8"/><use href="#S" x="620.7" y="505.1"/><use href="#S" x="631.2" y="519.5"/><use href="#S" x="629.9" y="524.8"/><use href="#S" x="648.9" y="517.6"/><use href="#S" x="644.3" y="520.2"/><use href="#S" x="167.7" y="547.5"/><use href="#S" x="166.0" y="554.5"/><use href="#S" x="175.9" y="563.9"/><use href="#S" x="208.4" y="539.3"/><use href="#S" x="228.8" y="542.3"/><use href="#S" x="179.2" y="542.8"/><use href="#S" x="192.0" y="545.8"/><use href="#S" x="203.1" y="551.6"/><use href="#S" x="217.7" y="552.8"/><use href="#S" x="211.9" y="561.5"/><use href="#S" x="220.0" y="567.4"/><use href="#S" x="236.4" y="576.1"/><use href="#S" x="241.6" y="562.7"/><use href="#S" x="260.9" y="541.7"/><use href="#S" x="267.3" y="545.8"/><use href="#S" x="275.5" y="542.8"/><use href="#S" x="297.7" y="537.0"/><use href="#S" x="310.0" y="550.4"/><use href="#S" x="314.6" y="551.6"/><use href="#S" x="304.1" y="561.5"/><use href="#S" x="283.1" y="562.7"/><use href="#S" x="273.2" y="570.3"/><use href="#S" x="311.1" y="565.6"/><use href="#S" x="335.1" y="555.1"/><use href="#S" x="336.2" y="561.0"/><use href="#S" x="336.2" y="573.2"/><use href="#S" x="373.0" y="545.2"/><use href="#S" x="403.4" y="538.2"/><use href="#S" x="406.9" y="550.4"/><use href="#S" x="410.4" y="544.0"/><use href="#S" x="378.3" y="558.0"/><use href="#S" x="391.1" y="561.0"/><use href="#S" x="400.5" y="556.9"/><use href="#S" x="338.6" y="555.1"/><use href="#S" x="338.6" y="562.1"/><use href="#S" x="350.3" y="561.5"/><use href="#S" x="363.1" y="565.6"/><use href="#S" x="360.2" y="568.5"/><use href="#S" x="353.2" y="567.4"/><use href="#S" x="347.9" y="570.9"/><use href="#S" x="354.9" y="570.9"/><use href="#S" x="373.0" y="571.5"/><use href="#S" x="376.5" y="574.4"/><use href="#S" x="383.0" y="573.8"/><use href="#S" x="384.1" y="568.5"/><use href="#S" x="388.8" y="579.0"/><use href="#S" x="406.3" y="573.2"/><use href="#S" x="416.8" y="556.9"/><use href="#S" x="338.6" y="573.8"/><use href="#S" x="423.3" y="542.3"/><use href="#S" x="426.2" y="551.6"/><use href="#S" x="421.5" y="554.5"/><use href="#S" x="419.2" y="557.4"/><use href="#S" x="419.2" y="565.0"/><use href="#S" x="443.1" y="539.3"/><use href="#S" x="441.9" y="546.4"/><use href="#S" x="443.7" y="548.7"/><use href="#S" x="448.4" y="548.1"/><use href="#S" x="447.8" y="554.5"/><use href="#S" x="445.4" y="565.0"/><use href="#S" x="485.2" y="536.4"/><use href="#S" x="481.1" y="542.8"/><use href="#S" x="485.7" y="546.4"/><use href="#S" x="492.7" y="544.6"/><use href="#S" x="476.4" y="551.6"/><use href="#S" x="479.9" y="555.7"/><use href="#S" x="421.5" y="577.9"/><use href="#S" x="419.2" y="581.4"/><use href="#S" x="528.9" y="539.9"/><use href="#S" x="530.1" y="545.2"/><use href="#S" x="544.7" y="548.1"/><use href="#S" x="569.8" y="541.7"/><use href="#S" x="571.0" y="545.8"/><use href="#S" x="502.7" y="555.7"/><use href="#S" x="530.1" y="558.6"/><use href="#S" x="527.8" y="566.8"/><use href="#S" x="521.9" y="570.9"/><use href="#S" x="544.1" y="565.6"/><use href="#S" x="557.6" y="567.4"/><use href="#S" x="577.4" y="562.7"/><use href="#S" x="646.3" y="541.8"/><use href="#S" x="637.1" y="552.3"/><use href="#S" x="618.7" y="543.8"/><use href="#S" x="613.4" y="541.8"/><use href="#S" x="608.2" y="542.5"/><use href="#S" x="585.2" y="551.7"/><use href="#S" x="577.3" y="549.1"/><use href="#S" x="578.6" y="539.9"/><use href="#S" x="585.9" y="538.5"/><use href="#S" x="587.2" y="543.1"/><use href="#S" x="595.7" y="539.9"/><use href="#S" x="599.7" y="538.5"/><use href="#S" x="578.6" y="562.2"/><use href="#S" x="603.6" y="572.7"/></g>
<g fill="#3e4c8a" fill-opacity="0.5"><use href="#C" x="597.0" y="511.4"/><use href="#C" x="224.9" y="504.4"/><use href="#C" x="443.6" y="507.1"/><use href="#C" x="361.1" y="507.6"/><use href="#C" x="273.4" y="531.1"/><use href="#C" x="288.3" y="538.4"/><use href="#C" x="497.5" y="529.7"/><use href="#C" x="304.0" y="507.9"/><use href="#C" x="509.0" y="535.7"/><use href="#C" x="339.9" y="518.3"/><use href="#C" x="398.0" y="511.8"/><use href="#C" x="362.5" y="513.3"/><use href="#C" x="328.9" y="526.2"/><use href="#C" x="454.8" y="516.5"/><use href="#C" x="449.5" y="517.4"/><use href="#C" x="340.5" y="515.3"/><use href="#C" x="622.9" y="527.2"/><use href="#C" x="539.6" y="498.1"/><use href="#C" x="308.9" y="495.4"/><use href="#C" x="475.6" y="521.1"/><use href="#C" x="231.1" y="509.2"/><use href="#C" x="392.9" y="516.8"/><use href="#C" x="403.1" y="512.4"/><use href="#C" x="413.2" y="501.4"/><use href="#C" x="392.4" y="526.2"/><use href="#C" x="436.0" y="537.0"/><use href="#C" x="382.5" y="509.5"/><use href="#C" x="381.2" y="505.9"/><use href="#C" x="416.2" y="531.6"/><use href="#C" x="550.6" y="528.6"/><use href="#C" x="604.2" y="525.4"/></g>
<g fill="#3e4c8a" fill-opacity="0.5"><use href="#S" x="570.2" y="487.7"/><use href="#S" x="422.2" y="527.6"/><use href="#S" x="312.0" y="507.5"/><use href="#S" x="619.8" y="502.9"/><use href="#S" x="462.8" y="524.8"/><use href="#S" x="297.0" y="530.7"/><use href="#S" x="322.7" y="518.3"/><use href="#S" x="443.8" y="498.7"/><use href="#S" x="290.3" y="508.1"/><use href="#S" x="614.3" y="515.8"/><use href="#S" x="400.8" y="514.9"/><use href="#S" x="392.8" y="533.3"/><use href="#S" x="349.4" y="511.9"/><use href="#S" x="498.3" y="525.3"/><use href="#S" x="578.6" y="494.7"/><use href="#S" x="497.5" y="520.1"/><use href="#S" x="431.4" y="509.5"/><use href="#S" x="418.7" y="521.5"/><use href="#S" x="344.1" y="520.9"/><use href="#S" x="361.7" y="511.4"/><use href="#S" x="296.6" y="517.2"/><use href="#S" x="259.1" y="493.0"/><use href="#S" x="365.0" y="522.9"/><use href="#S" x="272.7" y="508.9"/><use href="#S" x="237.6" y="523.7"/><use href="#S" x="237.6" y="528.4"/><use href="#S" x="293.6" y="507.6"/><use href="#S" x="303.0" y="514.6"/><use href="#S" x="331.6" y="504.7"/><use href="#S" x="275.5" y="524.0"/><use href="#S" x="369.0" y="486.0"/><use href="#S" x="360.2" y="502.4"/><use href="#S" x="371.3" y="503.0"/><use href="#S" x="412.7" y="504.1"/><use href="#S" x="406.9" y="518.7"/><use href="#S" x="382.4" y="514.1"/><use href="#S" x="380.0" y="519.9"/><use href="#S" x="396.4" y="524.0"/><use href="#S" x="437.9" y="524.6"/><use href="#S" x="610.8" y="505.1"/><use href="#S" x="170.1" y="556.9"/><use href="#S" x="151.4" y="559.8"/><use href="#S" x="192.0" y="535.3"/><use href="#S" x="238.1" y="539.3"/><use href="#S" x="201.1" y="577.3"/><use href="#S" x="218.9" y="582.0"/><use href="#S" x="252.2" y="549.3"/><use href="#S" x="255.7" y="587.2"/><use href="#S" x="307.6" y="558.6"/><use href="#S" x="298.9" y="563.9"/><use href="#S" x="262.7" y="558.0"/><use href="#S" x="294.2" y="576.1"/><use href="#S" x="258.6" y="587.8"/><use href="#S" x="349.1" y="539.9"/><use href="#S" x="340.9" y="547.5"/><use href="#S" x="368.4" y="575.5"/><use href="#S" x="464.1" y="546.9"/><use href="#S" x="484.6" y="570.9"/><use href="#S" x="548.2" y="541.7"/><use href="#S" x="534.8" y="573.8"/></g>
<g fill="#472f7d" fill-opacity="0.4"><use href="#C" x="606.9" y="522.9"/><use href="#C" x="296.7" y="514.8"/><use href="#C" x="509.6" y="538.1"/><use href="#C" x="454.4" y="525.5"/><use href="#C" x="603.3" y="493.7"/><use href="#C" x="339.6" y="545.7"/><use href="#C" x="571.3" y="501.9"/><use href="#C" x="406.0" y="513.5"/><use href="#C" x="403.7" y="512.3"/><use href="#C" x="447.4" y="506.1"/><use href="#C" x="356.5" y="519.4"/><use href="#C" x="484.9" y="497.8"/><use href="#C" x="479.6" y="546.8"/><use href="#C" x="337.9" y="519.9"/><use href="#C" x="275.4" y="516.9"/><use href="#C" x="606.8" y="521.0"/><use href="#C" x="508.4" y="509.9"/><use href="#C" x="317.6" y="503.8"/><use href="#C" x="378.4" y="499.2"/><use href="#C" x="397.9" y="510.2"/><use href="#C" x="379.5" y="514.5"/><use href="#C" x="229.3" y="528.4"/><use href="#C" x="250.1" y="495.4"/><use href="#C" x="387.2" y="520.7"/><use href="#C" x="475.8" y="509.2"/><use href="#C" x="382.8" y="520.6"/><use href="#C" x="424.5" y="520.6"/><use href="#C" x="422.3" y="505.4"/><use href="#C" x="285.5" y="546.7"/><use href="#C" x="310.8" y="513.9"/><use href="#C" x="423.4" y="509.7"/><use href="#C" x="344.8" y="489.6"/><use href="#C" x="374.4" y="509.5"/><use href="#C" x="330.1" y="509.2"/><use href="#C" x="437.6" y="499.7"/><use href="#C" x="403.3" y="501.9"/><use href="#C" x="425.7" y="510.9"/><use href="#C" x="379.2" y="518.6"/><use href="#C" x="303.4" y="535.1"/><use href="#C" x="285.2" y="499.2"/><use href="#C" x="288.9" y="534.5"/><use href="#C" x="249.8" y="517.6"/><use href="#C" x="419.7" y="512.6"/><use href="#C" x="273.1" y="496.1"/><use href="#C" x="355.1" y="542.7"/><use href="#C" x="241.0" y="501.3"/><use href="#C" x="296.7" y="493.1"/><use href="#C" x="310.0" y="504.5"/><use href="#C" x="540.8" y="510.7"/><use href="#C" x="542.4" y="523.4"/><use href="#C" x="425.2" y="507.3"/><use href="#C" x="386.4" y="531.3"/><use href="#C" x="570.0" y="503.2"/><use href="#C" x="247.1" y="507.3"/><use href="#C" x="464.3" y="501.8"/><use href="#C" x="137.1" y="518.0"/><use href="#C" x="163.4" y="523.8"/><use href="#C" x="175.1" y="510.9"/><use href="#C" x="172.4" y="523.0"/><use href="#C" x="193.8" y="491.6"/><use href="#C" x="207.4" y="493.7"/><use href="#C" x="212.1" y="501.8"/><use href="#C" x="218.9" y="503.9"/><use href="#C" x="220.0" y="506.8"/><use href="#C" x="224.1" y="507.4"/><use href="#C" x="185.6" y="517.9"/><use href="#C" x="193.4" y="517.3"/><use href="#C" x="203.5" y="513.8"/><use href="#C" x="209.5" y="514.4"/><use href="#C" x="212.5" y="518.5"/><use href="#C" x="222.6" y="520.8"/><use href="#C" x="249.8" y="498.0"/><use href="#C" x="232.0" y="523.1"/><use href="#C" x="248.7" y="526.1"/><use href="#C" x="270.6" y="484.9"/><use href="#C" x="284.6" y="484.6"/><use href="#C" x="286.0" y="489.3"/><use href="#C" x="308.5" y="487.8"/><use href="#C" x="269.9" y="500.0"/><use href="#C" x="282.5" y="510.0"/><use href="#C" x="297.7" y="510.5"/><use href="#C" x="304.7" y="505.9"/><use href="#C" x="325.7" y="499.5"/><use href="#C" x="334.5" y="500.6"/><use href="#C" x="298.3" y="522.2"/><use href="#C" x="435.5" y="504.7"/><use href="#C" x="420.3" y="529.8"/><use href="#C" x="427.3" y="531.0"/><use href="#C" x="472.3" y="492.4"/><use href="#C" x="474.6" y="519.3"/><use href="#C" x="496.2" y="512.9"/><use href="#C" x="483.4" y="526.3"/><use href="#C" x="475.8" y="528.1"/><use href="#C" x="572.2" y="499.8"/><use href="#C" x="565.2" y="517.6"/><use href="#C" x="529.5" y="516.4"/><use href="#C" x="624.0" y="514.3"/><use href="#C" x="657.5" y="529.1"/><use href="#C" x="231.5" y="537.9"/><use href="#C" x="294.4" y="542.6"/><use href="#C" x="427.9" y="541.7"/><use href="#C" x="456.5" y="535.8"/><use href="#C" x="481.1" y="536.4"/><use href="#C" x="473.5" y="546.4"/><use href="#C" x="497.4" y="548.7"/><use href="#C" x="458.3" y="560.4"/><use href="#C" x="477.0" y="600.7"/><use href="#C" x="500.9" y="545.2"/><use href="#C" x="506.2" y="535.8"/><use href="#C" x="531.9" y="545.8"/><use href="#C" x="533.0" y="589.3"/><use href="#C" x="601.6" y="553.0"/><use href="#C" x="593.7" y="571.0"/></g>
<g fill="#2a768e" fill-opacity="0.64"><use href="#C" x="351.3" y="507.3"/><use href="#C" x="413.4" y="515.4"/><use href="#C" x="519.1" y="515.0"/><use href="#C" x="397.4" y="511.9"/><use href="#C" x="350.3" y="512.2"/><use href="#C" x="410.9" y="518.7"/><use href="#C" x="274.5" y="496.1"/><use href="#C" x="414.2" y="526.4"/><use href="#C" x="628.7" y="522.5"/><use href="#C" x="269.4" y="521.2"/><use href="#C" x="297.1" y="512.0"/><use href="#C" x="275.6" y="536.7"/><use href="#C" x="243.0" y="510.5"/><use href="#C" x="603.6" y="522.8"/></g>
<g fill="#1f9a8a" fill-opacity="0.75"><use href="#C" x="238.1" y="491.6"/><use href="#C" x="256.8" y="501.0"/><use href="#C" x="238.7" y="510.3"/><use href="#C" x="243.4" y="524.9"/><use href="#C" x="264.4" y="491.9"/><use href="#C" x="258.6" y="500.0"/><use href="#C" x="264.4" y="510.5"/><use href="#C" x="272.0" y="511.1"/><use href="#C" x="277.3" y="510.0"/><use href="#C" x="310.0" y="510.5"/><use href="#C" x="352.0" y="510.0"/><use href="#C" x="376.5" y="507.6"/><use href="#C" x="394.1" y="508.8"/><use href="#C" x="389.4" y="515.2"/><use href="#C" x="339.8" y="525.7"/><use href="#C" x="374.2" y="518.1"/><use href="#C" x="377.7" y="523.4"/><use href="#C" x="384.7" y="522.2"/><use href="#C" x="391.1" y="522.2"/><use href="#C" x="408.1" y="521.1"/><use href="#C" x="429.7" y="507.0"/><use href="#C" x="429.1" y="511.7"/><use href="#C" x="453.0" y="506.5"/><use href="#C" x="419.2" y="515.8"/><use href="#C" x="422.7" y="517.6"/><use href="#C" x="427.9" y="524.6"/><use href="#C" x="472.0" y="507.0"/><use href="#C" x="461.8" y="518.7"/><use href="#C" x="467.0" y="518.7"/><use href="#C" x="468.2" y="524.6"/><use href="#C" x="491.6" y="524.0"/><use href="#C" x="516.1" y="486.0"/><use href="#C" x="502.1" y="508.2"/><use href="#C" x="503.8" y="526.3"/><use href="#C" x="606.9" y="497.2"/><use href="#C" x="577.3" y="511.6"/><use href="#C" x="612.5" y="511.2"/><use href="#C" x="629.2" y="514.3"/><use href="#C" x="654.6" y="524.4"/><use href="#C" x="253.3" y="541.7"/><use href="#C" x="367.8" y="562.7"/><use href="#C" x="419.2" y="539.9"/><use href="#C" x="464.7" y="535.3"/><use href="#C" x="465.3" y="542.8"/><use href="#C" x="471.7" y="541.1"/><use href="#C" x="465.6" y="565.6"/><use href="#C" x="472.3" y="589.0"/><use href="#C" x="492.2" y="586.6"/><use href="#C" x="513.2" y="559.2"/><use href="#C" x="565.7" y="568.0"/><use href="#C" x="572.7" y="569.7"/><use href="#C" x="635.8" y="538.5"/><use href="#C" x="654.2" y="538.5"/><use href="#C" x="629.2" y="551.0"/><use href="#C" x="625.9" y="544.5"/><use href="#C" x="614.8" y="545.8"/><use href="#C" x="606.2" y="538.5"/></g>
<g fill="#38b977" fill-opacity="0.85"><use href="#S" x="227.6" y="517.9"/><use href="#S" x="253.3" y="527.8"/><use href="#S" x="231.1" y="529.6"/><use href="#S" x="311.1" y="524.6"/><use href="#S" x="324.6" y="526.3"/><use href="#S" x="276.1" y="519.3"/><use href="#S" x="366.0" y="502.4"/><use href="#S" x="401.1" y="516.4"/><use href="#S" x="343.3" y="517.6"/><use href="#S" x="349.7" y="527.5"/><use href="#S" x="434.9" y="511.1"/><use href="#S" x="512.0" y="524.6"/><use href="#S" x="555.8" y="526.9"/><use href="#S" x="572.2" y="525.7"/><use href="#S" x="509.1" y="529.8"/><use href="#S" x="595.1" y="520.2"/><use href="#S" x="586.5" y="528.1"/><use href="#S" x="624.6" y="526.8"/><use href="#S" x="622.0" y="529.4"/><use href="#S" x="642.4" y="527.8"/><use href="#S" x="159.0" y="567.4"/><use href="#S" x="176.8" y="557.4"/><use href="#S" x="219.5" y="535.3"/><use href="#S" x="222.4" y="537.0"/><use href="#S" x="243.4" y="540.5"/><use href="#S" x="245.5" y="544.6"/><use href="#S" x="207.2" y="554.5"/><use href="#S" x="212.5" y="554.5"/><use href="#S" x="225.9" y="560.4"/><use href="#S" x="194.4" y="568.0"/><use href="#S" x="178.6" y="558.6"/><use href="#S" x="234.1" y="596.0"/><use href="#S" x="252.2" y="553.9"/><use href="#S" x="256.8" y="558.6"/><use href="#S" x="290.5" y="538.8"/><use href="#S" x="287.8" y="553.4"/><use href="#S" x="258.6" y="559.2"/><use href="#S" x="319.3" y="570.9"/><use href="#S" x="281.9" y="580.2"/><use href="#S" x="328.7" y="546.9"/><use href="#S" x="333.3" y="548.1"/><use href="#S" x="402.2" y="548.7"/><use href="#S" x="356.1" y="564.5"/><use href="#S" x="347.9" y="587.8"/><use href="#S" x="415.1" y="581.4"/><use href="#S" x="446.6" y="542.8"/></g>
<g fill="#3e4c8a" fill-opacity="0.5"><use href="#D" x="409.8" y="499.5"/><use href="#D" x="627.9" y="509.7"/><use href="#D" x="380.0" y="541.7"/><use href="#D" x="506.8" y="547.5"/></g>
<g fill="#472f7d" fill-opacity="0.4"><use href="#D" x="444.6" y="502.6"/><use href="#D" x="478.7" y="495.4"/><use href="#D" x="472.3" y="512.9"/><use href="#D" x="464.7" y="522.2"/><use href="#D" x="469.4" y="526.9"/><use href="#D" x="512.9" y="503.5"/><use href="#D" x="558.1" y="509.1"/><use href="#D" x="530.1" y="526.9"/><use href="#D" x="584.5" y="506.4"/><use href="#D" x="598.3" y="511.6"/><use href="#D" x="587.8" y="517.6"/><use href="#D" x="597.7" y="518.2"/><use href="#D" x="579.3" y="520.8"/><use href="#D" x="626.6" y="517.6"/><use href="#D" x="632.5" y="516.9"/><use href="#D" x="615.2" y="520.2"/><use href="#D" x="650.6" y="511.2"/><use href="#D" x="250.2" y="537.2"/><use href="#D" x="324.0" y="548.1"/><use href="#D" x="371.3" y="535.3"/><use href="#D" x="381.2" y="544.0"/><use href="#D" x="385.3" y="549.3"/><use href="#D" x="507.3" y="545.2"/><use href="#D" x="508.5" y="551.0"/><use href="#D" x="564.0" y="541.1"/><use href="#D" x="561.1" y="556.9"/><use href="#D" x="555.8" y="577.3"/><use href="#D" x="566.3" y="582.6"/><use href="#D" x="643.7" y="535.9"/><use href="#D" x="623.0" y="539.9"/><use href="#D" x="607.5" y="554.3"/><use href="#D" x="618.7" y="560.0"/><use href="#D" x="635.1" y="570.1"/></g>
<g fill="#70cf57" fill-opacity="0.9"><use href="#S" x="554.6" y="516.4"/><use href="#S" x="571.6" y="518.1"/><use href="#S" x="602.3" y="513.0"/><use href="#S" x="346.2" y="585.5"/><use href="#S" x="483.2" y="560.6"/><use href="#S" x="538.3" y="545.2"/><use href="#S" x="555.2" y="541.7"/><use href="#S" x="656.4" y="546.4"/><use href="#S" x="642.4" y="549.7"/><use href="#S" x="581.3" y="554.3"/><use href="#S" x="603.6" y="581.9"/></g>
<g fill="#efe51c" fill-opacity="1.0"><use href="#S" x="370.1" y="528.6"/><use href="#S" x="489.5" y="512.3"/><use href="#S" x="486.3" y="518.1"/><use href="#S" x="570.4" y="514.1"/><use href="#S" x="536.3" y="522.2"/><use href="#S" x="333.9" y="538.8"/><use href="#S" x="341.5" y="544.6"/><use href="#S" x="360.8" y="549.9"/><use href="#S" x="376.5" y="587.2"/><use href="#S" x="412.7" y="577.3"/><use href="#S" x="415.7" y="544.6"/><use href="#S" x="460.3" y="550.4"/><use href="#S" x="516.1" y="546.4"/><use href="#S" x="631.2" y="537.2"/></g>
<line x1="50.50" y1="532.00" x2="700.00" y2="532.00" stroke="#000" stroke-width="2.3" stroke-dasharray="8.5 3.7"/>
</g>
<line x1="50.50" y1="457.50" x2="687.00" y2="457.50" stroke="#888" stroke-width="1.0" />
<line x1="50.50" y1="606.40" x2="687.00" y2="606.40" stroke="#888" stroke-width="1.0" />
<line x1="50.50" y1="457.50" x2="50.50" y2="606.40" stroke="#888" stroke-width="1.0" />
<line x1="45.00" y1="473.60" x2="50.50" y2="473.60" stroke="#222" stroke-width="1.3" />
<text x="39.60" y="479.00" font-size="12.0" text-anchor="end" fill="#000" textLength="7.63" lengthAdjust="spacingAndGlyphs" >2</text>
<line x1="45.00" y1="502.80" x2="50.50" y2="502.80" stroke="#222" stroke-width="1.3" />
<text x="39.60" y="508.20" font-size="12.0" text-anchor="end" fill="#000" textLength="7.63" lengthAdjust="spacingAndGlyphs" >1</text>
<line x1="45.00" y1="532.00" x2="50.50" y2="532.00" stroke="#222" stroke-width="1.3" />
<text x="39.60" y="537.40" font-size="12.0" text-anchor="end" fill="#000" textLength="7.63" lengthAdjust="spacingAndGlyphs" >0</text>
<line x1="45.00" y1="561.20" x2="50.50" y2="561.20" stroke="#222" stroke-width="1.3" />
<text x="39.60" y="566.60" font-size="12.0" text-anchor="end" fill="#000" textLength="17.69" lengthAdjust="spacingAndGlyphs" >−1</text>
<line x1="45.00" y1="590.40" x2="50.50" y2="590.40" stroke="#222" stroke-width="1.3" />
<text x="39.60" y="595.80" font-size="12.0" text-anchor="end" fill="#000" textLength="17.69" lengthAdjust="spacingAndGlyphs" >−2</text>
<line x1="124.90" y1="606.40" x2="124.90" y2="611.90" stroke="#222" stroke-width="1.3" />
<text x="124.90" y="626.70" font-size="12.0" text-anchor="middle" fill="#000" textLength="15.27" lengthAdjust="spacingAndGlyphs" >50</text>
<line x1="201.13" y1="606.40" x2="201.13" y2="611.90" stroke="#222" stroke-width="1.3" />
<text x="201.13" y="626.70" font-size="12.0" text-anchor="middle" fill="#000" textLength="22.91" lengthAdjust="spacingAndGlyphs" >100</text>
<line x1="277.36" y1="606.40" x2="277.36" y2="611.90" stroke="#222" stroke-width="1.3" />
<text x="277.36" y="626.70" font-size="12.0" text-anchor="middle" fill="#000" textLength="22.91" lengthAdjust="spacingAndGlyphs" >150</text>
<line x1="353.59" y1="606.40" x2="353.59" y2="611.90" stroke="#222" stroke-width="1.3" />
<text x="353.59" y="626.70" font-size="12.0" text-anchor="middle" fill="#000" textLength="22.91" lengthAdjust="spacingAndGlyphs" >200</text>
<line x1="429.82" y1="606.40" x2="429.82" y2="611.90" stroke="#222" stroke-width="1.3" />
<text x="429.82" y="626.70" font-size="12.0" text-anchor="middle" fill="#000" textLength="22.91" lengthAdjust="spacingAndGlyphs" >250</text>
<line x1="506.05" y1="606.40" x2="506.05" y2="611.90" stroke="#222" stroke-width="1.3" />
<text x="506.05" y="626.70" font-size="12.0" text-anchor="middle" fill="#000" textLength="22.91" lengthAdjust="spacingAndGlyphs" >300</text>
<line x1="582.28" y1="606.40" x2="582.28" y2="611.90" stroke="#222" stroke-width="1.3" />
<text x="582.28" y="626.70" font-size="12.0" text-anchor="middle" fill="#000" textLength="22.91" lengthAdjust="spacingAndGlyphs" >350</text>
<line x1="658.51" y1="606.40" x2="658.51" y2="611.90" stroke="#222" stroke-width="1.3" />
<text x="658.51" y="626.70" font-size="12.0" text-anchor="middle" fill="#000" textLength="22.91" lengthAdjust="spacingAndGlyphs" >400</text>
<text x="50.80" y="447.00" font-size="12.1" text-anchor="start" fill="#000" textLength="16.89" lengthAdjust="spacingAndGlyphs" >(e)</text>
<rect x="60.15" y="461.95" width="25.00" height="16.60" fill="#fff" stroke="#333" stroke-width="1.5" rx="3" ry="3"/>
<text x="63.60" y="473.10" font-size="10.8" text-anchor="start" fill="#000" textLength="19.37" lengthAdjust="spacingAndGlyphs" >15s</text>
<g transform="rotate(-90 8.30 531.95)"><text x="-58.36" y="531.95" font-size="12.25" fill="#000" textLength="64.30" lengthAdjust="spacingAndGlyphs" xml:space="preserve">log10(PGA</text>
<text x="5.94" y="534.35" font-size="8.57" font-style="italic" fill="#000" textLength="19.69" lengthAdjust="spacingAndGlyphs" xml:space="preserve">pred</text>
<text x="25.63" y="531.95" font-size="12.25" fill="#000" textLength="29.39" lengthAdjust="spacingAndGlyphs" xml:space="preserve">/PGA</text>
<text x="55.02" y="534.35" font-size="8.57" font-style="italic" fill="#000" textLength="15.16" lengthAdjust="spacingAndGlyphs" xml:space="preserve">obs</text>
<text x="70.18" y="531.95" font-size="12.25" fill="#000" textLength="4.78" lengthAdjust="spacingAndGlyphs" xml:space="preserve">)</text></g>
<rect x="292.60" y="461.70" width="388.80" height="12.40" fill="#fff" stroke="#d0d0d0" stroke-width="1.0" rx="2" ry="2" fill-opacity="0.8"/>
<path d="M303.3,464.8L302.5,467.2L300.0,467.2L302.0,468.7L301.2,471.1L303.3,469.6L305.4,471.1L304.6,468.7L306.6,467.2L304.1,467.2Z" fill="#000" stroke="none" stroke-width="0" />
<text x="313.00" y="470.50" font-size="7.7" text-anchor="start" fill="#000" textLength="107.54" lengthAdjust="spacingAndGlyphs" >Chile(45, 742), (-0.02, 0.76)</text>
<circle cx="435.8" cy="468.10" r="3.6" fill="#000"/>
<text x="445.00" y="470.50" font-size="7.7" text-anchor="start" fill="#000" textLength="108.00" lengthAdjust="spacingAndGlyphs" >Greece(6, 317), (0.32, 0.69)</text>
<path d="M568.40,463.20L573.30,468.10L568.40,473.00L563.50,468.10Z" fill="#000" stroke="none" stroke-width="0" />
<text x="577.90" y="470.50" font-size="7.7" text-anchor="start" fill="#000" textLength="101.30" lengthAdjust="spacingAndGlyphs" >France(2, 88), (0.15, 0.61)</text>
<linearGradient id="cbg" gradientUnits="userSpaceOnUse" x1="50.5" y1="0" x2="685.32" y2="0"><stop offset="0.000" stop-color="rgb(158,123,166)"/><stop offset="0.050" stop-color="rgb(160,132,175)"/><stop offset="0.100" stop-color="rgb(160,141,183)"/><stop offset="0.150" stop-color="rgb(159,150,189)"/><stop offset="0.200" stop-color="rgb(156,158,193)"/><stop offset="0.250" stop-color="rgb(153,165,195)"/><stop offset="0.300" stop-color="rgb(150,172,196)"/><stop offset="0.350" stop-color="rgb(147,178,196)"/><stop offset="0.400" stop-color="rgb(144,185,196)"/><stop offset="0.450" stop-color="rgb(142,191,196)"/><stop offset="0.500" stop-color="rgb(139,198,195)"/><stop offset="0.550" stop-color="rgb(138,203,194)"/><stop offset="0.600" stop-color="rgb(140,210,191)"/><stop offset="0.650" stop-color="rgb(147,216,187)"/><stop offset="0.700" stop-color="rgb(158,222,181)"/><stop offset="0.750" stop-color="rgb(171,227,173)"/><stop offset="0.800" stop-color="rgb(186,231,165)"/><stop offset="0.850" stop-color="rgb(203,235,154)"/><stop offset="0.900" stop-color="rgb(221,238,142)"/><stop offset="0.950" stop-color="rgb(239,241,135)"/><stop offset="1.000" stop-color="rgb(254,243,141)"/></linearGradient>
<rect x="50.50" y="668.70" width="635.00" height="15.60" fill="url(#cbg)" stroke="none" stroke-width="1" />
<g stroke="#1a1a40" stroke-width="0.7"><line x1="57.88" y1="668.7" x2="57.88" y2="684.3" stroke-opacity="0.07"/><line x1="59.79" y1="668.7" x2="59.79" y2="684.3" stroke-opacity="0.10"/><line x1="62.25" y1="668.7" x2="62.25" y2="684.3" stroke-opacity="0.09"/><line x1="67.67" y1="668.7" x2="67.67" y2="684.3" stroke-opacity="0.17"/><line x1="72.87" y1="668.7" x2="72.87" y2="684.3" stroke-opacity="0.19"/><line x1="75.29" y1="668.7" x2="75.29" y2="684.3" stroke-opacity="0.08"/><line x1="80.59" y1="668.7" x2="80.59" y2="684.3" stroke-opacity="0.06"/><line x1="84.89" y1="668.7" x2="84.89" y2="684.3" stroke-opacity="0.16"/><line x1="87.22" y1="668.7" x2="87.22" y2="684.3" stroke-opacity="0.12"/><line x1="90.25" y1="668.7" x2="90.25" y2="684.3" stroke-opacity="0.07"/><line x1="97.74" y1="668.7" x2="97.74" y2="684.3" stroke-opacity="0.09"/><line x1="99.78" y1="668.7" x2="99.78" y2="684.3" stroke-opacity="0.12"/><line x1="102.43" y1="668.7" x2="102.43" y2="684.3" stroke-opacity="0.06"/><line x1="105.32" y1="668.7" x2="105.32" y2="684.3" stroke-opacity="0.14"/><line x1="107.14" y1="668.7" x2="107.14" y2="684.3" stroke-opacity="0.11"/><line x1="109.95" y1="668.7" x2="109.95" y2="684.3" stroke-opacity="0.18"/><line x1="112.68" y1="668.7" x2="112.68" y2="684.3" stroke-opacity="0.06"/><line x1="117.27" y1="668.7" x2="117.27" y2="684.3" stroke-opacity="0.15"/><line x1="119.43" y1="668.7" x2="119.43" y2="684.3" stroke-opacity="0.10"/><line x1="121.77" y1="668.7" x2="121.77" y2="684.3" stroke-opacity="0.13"/><line x1="125.12" y1="668.7" x2="125.12" y2="684.3" stroke-opacity="0.11"/><line x1="127.74" y1="668.7" x2="127.74" y2="684.3" stroke-opacity="0.06"/><line x1="130.00" y1="668.7" x2="130.00" y2="684.3" stroke-opacity="0.12"/><line x1="132.34" y1="668.7" x2="132.34" y2="684.3" stroke-opacity="0.09"/><line x1="135.13" y1="668.7" x2="135.13" y2="684.3" stroke-opacity="0.19"/><line x1="137.17" y1="668.7" x2="137.17" y2="684.3" stroke-opacity="0.13"/><line x1="139.16" y1="668.7" x2="139.16" y2="684.3" stroke-opacity="0.14"/><line x1="142.34" y1="668.7" x2="142.34" y2="684.3" stroke-opacity="0.20"/><line x1="145.03" y1="668.7" x2="145.03" y2="684.3" stroke-opacity="0.06"/><line x1="146.99" y1="668.7" x2="146.99" y2="684.3" stroke-opacity="0.13"/><line x1="149.03" y1="668.7" x2="149.03" y2="684.3" stroke-opacity="0.09"/><line x1="154.04" y1="668.7" x2="154.04" y2="684.3" stroke-opacity="0.15"/><line x1="159.40" y1="668.7" x2="159.40" y2="684.3" stroke-opacity="0.17"/><line x1="161.50" y1="668.7" x2="161.50" y2="684.3" stroke-opacity="0.09"/><line x1="164.55" y1="668.7" x2="164.55" y2="684.3" stroke-opacity="0.18"/><line x1="167.35" y1="668.7" x2="167.35" y2="684.3" stroke-opacity="0.17"/><line x1="169.18" y1="668.7" x2="169.18" y2="684.3" stroke-opacity="0.08"/><line x1="171.76" y1="668.7" x2="171.76" y2="684.3" stroke-opacity="0.18"/><line x1="179.05" y1="668.7" x2="179.05" y2="684.3" stroke-opacity="0.10"/><line x1="181.96" y1="668.7" x2="181.96" y2="684.3" stroke-opacity="0.05"/><line x1="183.73" y1="668.7" x2="183.73" y2="684.3" stroke-opacity="0.08"/><line x1="186.65" y1="668.7" x2="186.65" y2="684.3" stroke-opacity="0.11"/><line x1="189.83" y1="668.7" x2="189.83" y2="684.3" stroke-opacity="0.14"/><line x1="191.79" y1="668.7" x2="191.79" y2="684.3" stroke-opacity="0.12"/><line x1="197.21" y1="668.7" x2="197.21" y2="684.3" stroke-opacity="0.16"/><line x1="199.66" y1="668.7" x2="199.66" y2="684.3" stroke-opacity="0.16"/><line x1="201.56" y1="668.7" x2="201.56" y2="684.3" stroke-opacity="0.08"/><line x1="203.69" y1="668.7" x2="203.69" y2="684.3" stroke-opacity="0.13"/><line x1="216.09" y1="668.7" x2="216.09" y2="684.3" stroke-opacity="0.07"/><line x1="218.48" y1="668.7" x2="218.48" y2="684.3" stroke-opacity="0.17"/><line x1="223.71" y1="668.7" x2="223.71" y2="684.3" stroke-opacity="0.07"/><line x1="229.39" y1="668.7" x2="229.39" y2="684.3" stroke-opacity="0.20"/><line x1="231.41" y1="668.7" x2="231.41" y2="684.3" stroke-opacity="0.10"/><line x1="236.22" y1="668.7" x2="236.22" y2="684.3" stroke-opacity="0.05"/><line x1="240.80" y1="668.7" x2="240.80" y2="684.3" stroke-opacity="0.19"/><line x1="248.85" y1="668.7" x2="248.85" y2="684.3" stroke-opacity="0.20"/><line x1="251.73" y1="668.7" x2="251.73" y2="684.3" stroke-opacity="0.14"/><line x1="253.49" y1="668.7" x2="253.49" y2="684.3" stroke-opacity="0.07"/><line x1="255.85" y1="668.7" x2="255.85" y2="684.3" stroke-opacity="0.15"/><line x1="258.77" y1="668.7" x2="258.77" y2="684.3" stroke-opacity="0.16"/><line x1="264.07" y1="668.7" x2="264.07" y2="684.3" stroke-opacity="0.20"/><line x1="266.60" y1="668.7" x2="266.60" y2="684.3" stroke-opacity="0.16"/><line x1="269.04" y1="668.7" x2="269.04" y2="684.3" stroke-opacity="0.15"/><line x1="270.81" y1="668.7" x2="270.81" y2="684.3" stroke-opacity="0.10"/><line x1="275.53" y1="668.7" x2="275.53" y2="684.3" stroke-opacity="0.06"/><line x1="278.29" y1="668.7" x2="278.29" y2="684.3" stroke-opacity="0.14"/><line x1="281.60" y1="668.7" x2="281.60" y2="684.3" stroke-opacity="0.09"/><line x1="284.06" y1="668.7" x2="284.06" y2="684.3" stroke-opacity="0.20"/><line x1="286.56" y1="668.7" x2="286.56" y2="684.3" stroke-opacity="0.07"/><line x1="293.60" y1="668.7" x2="293.60" y2="684.3" stroke-opacity="0.18"/><line x1="296.34" y1="668.7" x2="296.34" y2="684.3" stroke-opacity="0.10"/><line x1="298.60" y1="668.7" x2="298.60" y2="684.3" stroke-opacity="0.16"/><line x1="300.40" y1="668.7" x2="300.40" y2="684.3" stroke-opacity="0.13"/><line x1="303.87" y1="668.7" x2="303.87" y2="684.3" stroke-opacity="0.16"/><line x1="306.16" y1="668.7" x2="306.16" y2="684.3" stroke-opacity="0.10"/><line x1="307.95" y1="668.7" x2="307.95" y2="684.3" stroke-opacity="0.16"/><line x1="310.62" y1="668.7" x2="310.62" y2="684.3" stroke-opacity="0.16"/><line x1="313.86" y1="668.7" x2="313.86" y2="684.3" stroke-opacity="0.08"/><line x1="315.66" y1="668.7" x2="315.66" y2="684.3" stroke-opacity="0.19"/><line x1="323.70" y1="668.7" x2="323.70" y2="684.3" stroke-opacity="0.16"/><line x1="325.27" y1="668.7" x2="325.27" y2="684.3" stroke-opacity="0.17"/><line x1="328.75" y1="668.7" x2="328.75" y2="684.3" stroke-opacity="0.13"/><line x1="330.48" y1="668.7" x2="330.48" y2="684.3" stroke-opacity="0.11"/><line x1="336.18" y1="668.7" x2="336.18" y2="684.3" stroke-opacity="0.13"/><line x1="338.13" y1="668.7" x2="338.13" y2="684.3" stroke-opacity="0.19"/><line x1="340.50" y1="668.7" x2="340.50" y2="684.3" stroke-opacity="0.17"/><line x1="345.24" y1="668.7" x2="345.24" y2="684.3" stroke-opacity="0.06"/><line x1="347.71" y1="668.7" x2="347.71" y2="684.3" stroke-opacity="0.12"/><line x1="350.21" y1="668.7" x2="350.21" y2="684.3" stroke-opacity="0.08"/><line x1="352.54" y1="668.7" x2="352.54" y2="684.3" stroke-opacity="0.18"/><line x1="355.28" y1="668.7" x2="355.28" y2="684.3" stroke-opacity="0.09"/><line x1="358.04" y1="668.7" x2="358.04" y2="684.3" stroke-opacity="0.18"/><line x1="360.32" y1="668.7" x2="360.32" y2="684.3" stroke-opacity="0.18"/><line x1="362.90" y1="668.7" x2="362.90" y2="684.3" stroke-opacity="0.11"/><line x1="369.74" y1="668.7" x2="369.74" y2="684.3" stroke-opacity="0.16"/><line x1="372.43" y1="668.7" x2="372.43" y2="684.3" stroke-opacity="0.09"/><line x1="375.57" y1="668.7" x2="375.57" y2="684.3" stroke-opacity="0.11"/><line x1="377.57" y1="668.7" x2="377.57" y2="684.3" stroke-opacity="0.10"/><line x1="380.33" y1="668.7" x2="380.33" y2="684.3" stroke-opacity="0.16"/><line x1="382.27" y1="668.7" x2="382.27" y2="684.3" stroke-opacity="0.11"/><line x1="384.92" y1="668.7" x2="384.92" y2="684.3" stroke-opacity="0.06"/><line x1="388.03" y1="668.7" x2="388.03" y2="684.3" stroke-opacity="0.10"/><line x1="390.26" y1="668.7" x2="390.26" y2="684.3" stroke-opacity="0.15"/><line x1="393.16" y1="668.7" x2="393.16" y2="684.3" stroke-opacity="0.09"/><line x1="395.28" y1="668.7" x2="395.28" y2="684.3" stroke-opacity="0.10"/><line x1="397.64" y1="668.7" x2="397.64" y2="684.3" stroke-opacity="0.14"/><line x1="400.04" y1="668.7" x2="400.04" y2="684.3" stroke-opacity="0.11"/><line x1="402.56" y1="668.7" x2="402.56" y2="684.3" stroke-opacity="0.19"/><line x1="405.30" y1="668.7" x2="405.30" y2="684.3" stroke-opacity="0.18"/><line x1="408.07" y1="668.7" x2="408.07" y2="684.3" stroke-opacity="0.05"/><line x1="410.09" y1="668.7" x2="410.09" y2="684.3" stroke-opacity="0.19"/><line x1="414.53" y1="668.7" x2="414.53" y2="684.3" stroke-opacity="0.09"/><line x1="419.43" y1="668.7" x2="419.43" y2="684.3" stroke-opacity="0.13"/><line x1="422.76" y1="668.7" x2="422.76" y2="684.3" stroke-opacity="0.18"/><line x1="424.49" y1="668.7" x2="424.49" y2="684.3" stroke-opacity="0.14"/><line x1="430.32" y1="668.7" x2="430.32" y2="684.3" stroke-opacity="0.19"/><line x1="432.01" y1="668.7" x2="432.01" y2="684.3" stroke-opacity="0.19"/><line x1="434.70" y1="668.7" x2="434.70" y2="684.3" stroke-opacity="0.10"/><line x1="437.89" y1="668.7" x2="437.89" y2="684.3" stroke-opacity="0.17"/><line x1="439.38" y1="668.7" x2="439.38" y2="684.3" stroke-opacity="0.09"/><line x1="442.28" y1="668.7" x2="442.28" y2="684.3" stroke-opacity="0.07"/><line x1="444.38" y1="668.7" x2="444.38" y2="684.3" stroke-opacity="0.06"/><line x1="449.77" y1="668.7" x2="449.77" y2="684.3" stroke-opacity="0.09"/><line x1="451.61" y1="668.7" x2="451.61" y2="684.3" stroke-opacity="0.07"/><line x1="454.81" y1="668.7" x2="454.81" y2="684.3" stroke-opacity="0.10"/><line x1="456.62" y1="668.7" x2="456.62" y2="684.3" stroke-opacity="0.20"/><line x1="459.97" y1="668.7" x2="459.97" y2="684.3" stroke-opacity="0.19"/><line x1="461.63" y1="668.7" x2="461.63" y2="684.3" stroke-opacity="0.05"/><line x1="464.03" y1="668.7" x2="464.03" y2="684.3" stroke-opacity="0.16"/><line x1="469.45" y1="668.7" x2="469.45" y2="684.3" stroke-opacity="0.18"/><line x1="472.41" y1="668.7" x2="472.41" y2="684.3" stroke-opacity="0.05"/><line x1="474.09" y1="668.7" x2="474.09" y2="684.3" stroke-opacity="0.18"/><line x1="477.07" y1="668.7" x2="477.07" y2="684.3" stroke-opacity="0.14"/><line x1="482.17" y1="668.7" x2="482.17" y2="684.3" stroke-opacity="0.09"/><line x1="483.91" y1="668.7" x2="483.91" y2="684.3" stroke-opacity="0.19"/><line x1="487.07" y1="668.7" x2="487.07" y2="684.3" stroke-opacity="0.16"/><line x1="488.89" y1="668.7" x2="488.89" y2="684.3" stroke-opacity="0.17"/><line x1="491.35" y1="668.7" x2="491.35" y2="684.3" stroke-opacity="0.17"/><line x1="494.29" y1="668.7" x2="494.29" y2="684.3" stroke-opacity="0.07"/><line x1="496.89" y1="668.7" x2="496.89" y2="684.3" stroke-opacity="0.19"/><line x1="509.00" y1="668.7" x2="509.00" y2="684.3" stroke-opacity="0.06"/><line x1="512.02" y1="668.7" x2="512.02" y2="684.3" stroke-opacity="0.06"/><line x1="521.91" y1="668.7" x2="521.91" y2="684.3" stroke-opacity="0.11"/><line x1="523.74" y1="668.7" x2="523.74" y2="684.3" stroke-opacity="0.09"/><line x1="529.45" y1="668.7" x2="529.45" y2="684.3" stroke-opacity="0.09"/><line x1="531.54" y1="668.7" x2="531.54" y2="684.3" stroke-opacity="0.17"/><line x1="533.90" y1="668.7" x2="533.90" y2="684.3" stroke-opacity="0.10"/><line x1="536.74" y1="668.7" x2="536.74" y2="684.3" stroke-opacity="0.20"/><line x1="538.80" y1="668.7" x2="538.80" y2="684.3" stroke-opacity="0.17"/><line x1="541.72" y1="668.7" x2="541.72" y2="684.3" stroke-opacity="0.13"/><line x1="543.84" y1="668.7" x2="543.84" y2="684.3" stroke-opacity="0.07"/><line x1="548.40" y1="668.7" x2="548.40" y2="684.3" stroke-opacity="0.15"/><line x1="553.37" y1="668.7" x2="553.37" y2="684.3" stroke-opacity="0.17"/><line x1="556.80" y1="668.7" x2="556.80" y2="684.3" stroke-opacity="0.13"/><line x1="561.06" y1="668.7" x2="561.06" y2="684.3" stroke-opacity="0.09"/><line x1="563.38" y1="668.7" x2="563.38" y2="684.3" stroke-opacity="0.09"/><line x1="565.99" y1="668.7" x2="565.99" y2="684.3" stroke-opacity="0.19"/><line x1="569.32" y1="668.7" x2="569.32" y2="684.3" stroke-opacity="0.11"/><line x1="570.93" y1="668.7" x2="570.93" y2="684.3" stroke-opacity="0.19"/><line x1="573.48" y1="668.7" x2="573.48" y2="684.3" stroke-opacity="0.07"/><line x1="575.59" y1="668.7" x2="575.59" y2="684.3" stroke-opacity="0.08"/><line x1="578.64" y1="668.7" x2="578.64" y2="684.3" stroke-opacity="0.10"/><line x1="580.79" y1="668.7" x2="580.79" y2="684.3" stroke-opacity="0.10"/><line x1="583.04" y1="668.7" x2="583.04" y2="684.3" stroke-opacity="0.05"/><line x1="585.62" y1="668.7" x2="585.62" y2="684.3" stroke-opacity="0.08"/><line x1="593.66" y1="668.7" x2="593.66" y2="684.3" stroke-opacity="0.11"/><line x1="596.34" y1="668.7" x2="596.34" y2="684.3" stroke-opacity="0.13"/><line x1="598.77" y1="668.7" x2="598.77" y2="684.3" stroke-opacity="0.18"/><line x1="600.86" y1="668.7" x2="600.86" y2="684.3" stroke-opacity="0.07"/><line x1="606.22" y1="668.7" x2="606.22" y2="684.3" stroke-opacity="0.13"/><line x1="607.89" y1="668.7" x2="607.89" y2="684.3" stroke-opacity="0.17"/><line x1="611.39" y1="668.7" x2="611.39" y2="684.3" stroke-opacity="0.13"/><line x1="613.68" y1="668.7" x2="613.68" y2="684.3" stroke-opacity="0.16"/><line x1="615.44" y1="668.7" x2="615.44" y2="684.3" stroke-opacity="0.10"/><line x1="618.36" y1="668.7" x2="618.36" y2="684.3" stroke-opacity="0.17"/><line x1="621.20" y1="668.7" x2="621.20" y2="684.3" stroke-opacity="0.17"/><line x1="623.42" y1="668.7" x2="623.42" y2="684.3" stroke-opacity="0.18"/><line x1="626.02" y1="668.7" x2="626.02" y2="684.3" stroke-opacity="0.14"/><line x1="630.32" y1="668.7" x2="630.32" y2="684.3" stroke-opacity="0.07"/><line x1="632.76" y1="668.7" x2="632.76" y2="684.3" stroke-opacity="0.17"/><line x1="635.79" y1="668.7" x2="635.79" y2="684.3" stroke-opacity="0.13"/><line x1="638.35" y1="668.7" x2="638.35" y2="684.3" stroke-opacity="0.14"/><line x1="643.51" y1="668.7" x2="643.51" y2="684.3" stroke-opacity="0.15"/><line x1="645.64" y1="668.7" x2="645.64" y2="684.3" stroke-opacity="0.11"/><line x1="650.88" y1="668.7" x2="650.88" y2="684.3" stroke-opacity="0.05"/><line x1="652.57" y1="668.7" x2="652.57" y2="684.3" stroke-opacity="0.05"/><line x1="658.33" y1="668.7" x2="658.33" y2="684.3" stroke-opacity="0.20"/><line x1="660.51" y1="668.7" x2="660.51" y2="684.3" stroke-opacity="0.08"/><line x1="662.97" y1="668.7" x2="662.97" y2="684.3" stroke-opacity="0.14"/><line x1="665.80" y1="668.7" x2="665.80" y2="684.3" stroke-opacity="0.12"/><line x1="670.02" y1="668.7" x2="670.02" y2="684.3" stroke-opacity="0.05"/><line x1="673.21" y1="668.7" x2="673.21" y2="684.3" stroke-opacity="0.06"/><line x1="677.35" y1="668.7" x2="677.35" y2="684.3" stroke-opacity="0.05"/><line x1="680.57" y1="668.7" x2="680.57" y2="684.3" stroke-opacity="0.14"/><line x1="683.05" y1="668.7" x2="683.05" y2="684.3" stroke-opacity="0.06"/></g>
<line x1="50.50" y1="668.70" x2="687.50" y2="668.70" stroke="#888" stroke-width="1.0" />
<line x1="50.50" y1="684.30" x2="687.50" y2="684.30" stroke="#888" stroke-width="1.0" />
<line x1="50.50" y1="668.70" x2="50.50" y2="684.30" stroke="#888" stroke-width="1.0" />
<line x1="50.40" y1="684.30" x2="50.40" y2="689.80" stroke="#222" stroke-width="1.3" />
<text x="50.40" y="704.30" font-size="12.0" text-anchor="middle" fill="#000" textLength="19.08" lengthAdjust="spacingAndGlyphs" >2.0</text>
<line x1="136.20" y1="684.30" x2="136.20" y2="689.80" stroke="#222" stroke-width="1.3" />
<text x="136.20" y="704.30" font-size="12.0" text-anchor="middle" fill="#000" textLength="19.08" lengthAdjust="spacingAndGlyphs" >2.5</text>
<line x1="222.00" y1="684.30" x2="222.00" y2="689.80" stroke="#222" stroke-width="1.3" />
<text x="222.00" y="704.30" font-size="12.0" text-anchor="middle" fill="#000" textLength="19.08" lengthAdjust="spacingAndGlyphs" >3.0</text>
<line x1="307.80" y1="684.30" x2="307.80" y2="689.80" stroke="#222" stroke-width="1.3" />
<text x="307.80" y="704.30" font-size="12.0" text-anchor="middle" fill="#000" textLength="19.08" lengthAdjust="spacingAndGlyphs" >3.5</text>
<line x1="393.60" y1="684.30" x2="393.60" y2="689.80" stroke="#222" stroke-width="1.3" />
<text x="393.60" y="704.30" font-size="12.0" text-anchor="middle" fill="#000" textLength="19.08" lengthAdjust="spacingAndGlyphs" >4.0</text>
<line x1="479.40" y1="684.30" x2="479.40" y2="689.80" stroke="#222" stroke-width="1.3" />
<text x="479.40" y="704.30" font-size="12.0" text-anchor="middle" fill="#000" textLength="19.08" lengthAdjust="spacingAndGlyphs" >4.5</text>
<line x1="565.20" y1="684.30" x2="565.20" y2="689.80" stroke="#222" stroke-width="1.3" />
<text x="565.20" y="704.30" font-size="12.0" text-anchor="middle" fill="#000" textLength="19.08" lengthAdjust="spacingAndGlyphs" >5.0</text>
<line x1="651.00" y1="684.30" x2="651.00" y2="689.80" stroke="#222" stroke-width="1.3" />
<text x="651.00" y="704.30" font-size="12.0" text-anchor="middle" fill="#000" textLength="19.08" lengthAdjust="spacingAndGlyphs" >5.5</text>
<text x="367.60" y="723.00" font-size="12.25" text-anchor="middle" fill="#000" textLength="117.20" lengthAdjust="spacingAndGlyphs" >Catalog magnitude</text>
<text x="367.60" y="645.40" font-size="12.25" text-anchor="middle" fill="#000" textLength="162.80" lengthAdjust="spacingAndGlyphs" >Hypocentral distance [km]</text></svg>
</body></html>
